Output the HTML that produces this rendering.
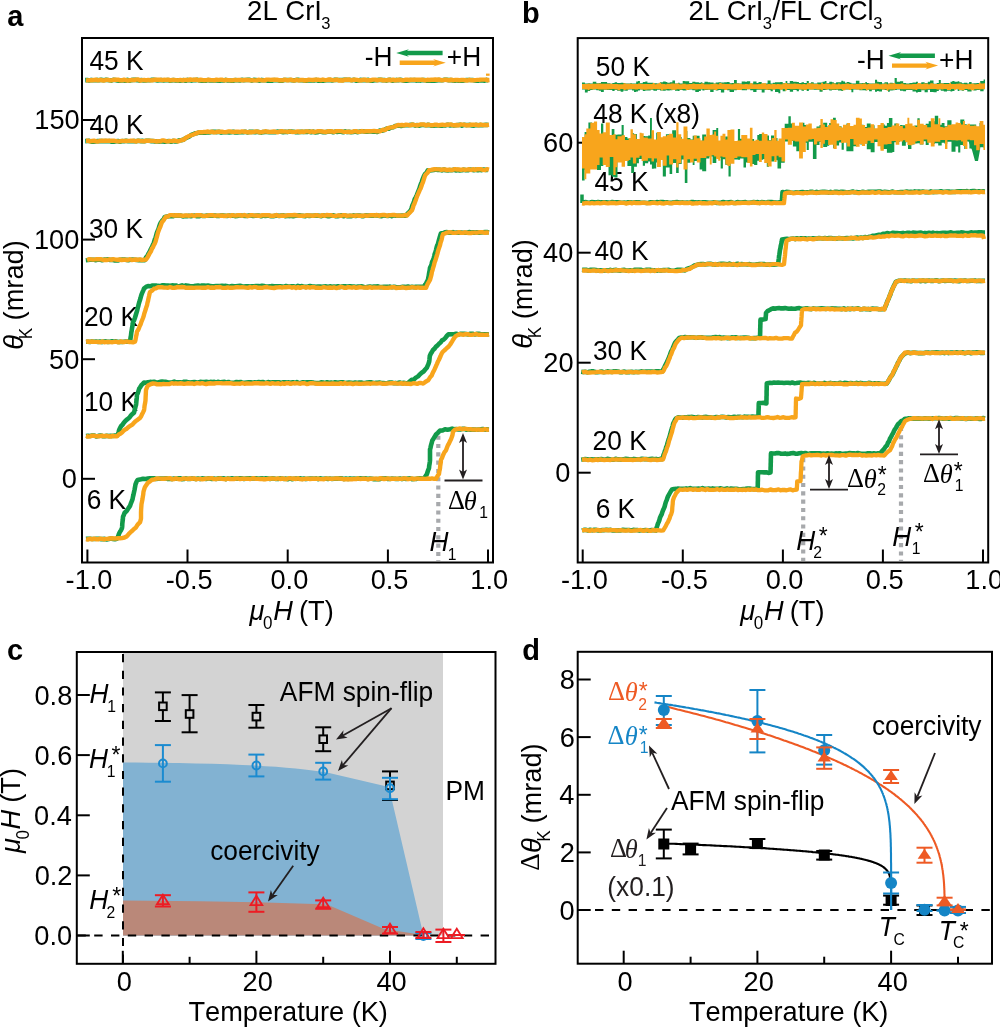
<!DOCTYPE html>
<html><head><meta charset="utf-8"><style>
html,body{margin:0;padding:0;background:#fff;}
svg{display:block;will-change:transform;}
text{font-kerning:none;font-variant-ligatures:none;}
</style></head><body>
<svg width="1000" height="1028" viewBox="0 0 1000 1028" font-family="Liberation Sans, sans-serif" fill="#000">
<rect x="82.0" y="38.0" width="411.0" height="524.5" fill="none" stroke="#000" stroke-width="2"/>
<line x1="87.4" y1="562.5" x2="87.4" y2="549.5" stroke="#000" stroke-width="2.0" />
<line x1="187.5" y1="562.5" x2="187.5" y2="549.5" stroke="#000" stroke-width="2.0" />
<line x1="287.7" y1="562.5" x2="287.7" y2="549.5" stroke="#000" stroke-width="2.0" />
<line x1="387.9" y1="562.5" x2="387.9" y2="549.5" stroke="#000" stroke-width="2.0" />
<line x1="488.0" y1="562.5" x2="488.0" y2="549.5" stroke="#000" stroke-width="2.0" />
<line x1="82.0" y1="478.8" x2="95.0" y2="478.8" stroke="#000" stroke-width="2.0" />
<line x1="82.0" y1="359.2" x2="95.0" y2="359.2" stroke="#000" stroke-width="2.0" />
<line x1="82.0" y1="239.6" x2="95.0" y2="239.6" stroke="#000" stroke-width="2.0" />
<line x1="82.0" y1="120.0" x2="95.0" y2="120.0" stroke="#000" stroke-width="2.0" />
<text transform="translate(593.30,122.80) scale(1.000,1.030)" font-family="Liberation Sans" font-size="26.30">48 K (x8)</text>
<text transform="translate(595.66,518.34) scale(1.000,1.030)" font-family="Liberation Sans" font-size="26.30">6 K</text>
<text transform="translate(592.58,450.14) scale(1.000,1.030)" font-family="Liberation Sans" font-size="26.30">20 K</text>
<text transform="translate(592.90,359.64) scale(1.000,1.030)" font-family="Liberation Sans" font-size="26.30">30 K</text>
<text transform="translate(594.40,260.44) scale(1.000,1.030)" font-family="Liberation Sans" font-size="26.30">40 K</text>
<text transform="translate(594.40,190.94) scale(1.000,1.030)" font-family="Liberation Sans" font-size="26.30">45 K</text>
<text transform="translate(595.85,76.44) scale(1.000,1.030)" font-family="Liberation Sans" font-size="26.30">50 K</text>
<text transform="translate(86.66,508.74) scale(1.000,1.030)" font-family="Liberation Sans" font-size="26.30">6 K</text>
<text transform="translate(84.00,410.54) scale(1.000,1.030)" font-family="Liberation Sans" font-size="26.30">10 K</text>
<text transform="translate(83.88,325.54) scale(1.000,1.030)" font-family="Liberation Sans" font-size="26.30">20 K</text>
<text transform="translate(89.00,237.74) scale(1.000,1.030)" font-family="Liberation Sans" font-size="26.30">30 K</text>
<text transform="translate(89.50,134.34) scale(1.000,1.030)" font-family="Liberation Sans" font-size="26.30">40 K</text>
<text transform="translate(89.50,69.84) scale(1.000,1.030)" font-family="Liberation Sans" font-size="26.30">45 K</text>
<line x1="901.0" y1="426.9" x2="901.0" y2="561.0" stroke="#a7a9ac" stroke-width="4.2" stroke-dasharray="4.1 4.2"/>
<line x1="803.2" y1="458.1" x2="803.2" y2="561.0" stroke="#a7a9ac" stroke-width="4.2" stroke-dasharray="4.1 4.2"/>
<line x1="438.3" y1="435.7" x2="438.3" y2="561.0" stroke="#a7a9ac" stroke-width="4.2" stroke-dasharray="4.1 4.2"/>
<polyline points="85.2,80.1 87.2,80.0 89.2,80.5 91.2,79.9 93.2,80.3 95.2,80.2 97.2,79.9 99.3,80.3 101.3,79.8 103.3,80.2 105.3,79.9 107.3,79.9 109.3,80.2 111.3,80.6 113.3,79.9 115.3,80.0 117.3,80.4 119.3,80.7 121.3,80.4 123.3,80.2 125.3,80.8 127.4,79.8 129.4,80.7 131.4,80.1 133.4,79.9 135.4,79.9 137.4,80.1 139.4,80.6 141.4,80.0 143.4,80.4 145.4,80.4 147.4,80.2 149.4,80.3 151.4,79.9 153.5,79.9 155.5,80.0 157.5,80.5 159.5,80.2 161.5,80.1 163.5,80.4 165.5,80.3 167.5,80.1 169.5,80.6 171.5,80.5 173.5,80.0 175.5,80.4 177.5,80.3 179.6,80.7 181.6,80.5 183.6,80.1 185.6,80.8 187.6,79.9 189.6,80.2 191.6,80.6 193.6,80.0 195.6,80.3 197.6,79.8 199.6,80.5 201.6,80.6 203.6,80.4 205.6,80.7 207.7,80.1 209.7,80.5 211.7,80.4 213.7,80.4 215.7,80.3 217.7,80.6 219.7,80.7 221.7,80.3 223.7,80.5 225.7,79.9 227.7,80.5 229.7,80.4 231.7,80.8 233.8,80.6 235.8,80.1 237.8,80.2 239.8,80.5 241.8,79.8 243.8,80.3 245.8,80.0 247.8,79.9 249.8,79.9 251.8,80.6 253.8,79.9 255.8,80.0 257.8,80.2 259.8,80.7 261.9,79.9 263.9,80.2 265.9,80.3 267.9,80.7 269.9,80.6 271.9,80.7 273.9,80.1 275.9,80.2 277.9,80.2 279.9,80.7 281.9,80.8 283.9,80.0 285.9,80.0 288.0,80.0 290.0,80.0 292.0,80.3 294.0,80.4 296.0,80.1 298.0,79.8 300.0,80.2 302.0,80.2 304.0,80.4 306.0,80.8 308.0,80.5 310.0,80.3 312.0,80.4 314.1,80.5 316.1,79.9 318.1,80.7 320.1,80.6 322.1,80.7 324.1,80.6 326.1,80.2 328.1,80.2 330.1,79.9 332.1,80.4 334.1,79.9 336.1,79.9 338.1,80.0 340.1,80.0 342.2,80.1 344.2,79.9 346.2,79.8 348.2,80.0 350.2,79.9 352.2,80.2 354.2,79.8 356.2,80.7 358.2,80.4 360.2,79.9 362.2,80.1 364.2,80.1 366.2,80.2 368.3,79.9 370.3,80.6 372.3,80.8 374.3,80.3 376.3,80.3 378.3,79.9 380.3,79.9 382.3,80.1 384.3,80.1 386.3,80.6 388.3,80.0 390.3,79.8 392.3,80.8 394.3,80.3 396.4,79.9 398.4,80.3 400.4,79.8 402.4,80.3 404.4,80.8 406.4,80.7 408.4,80.5 410.4,80.1 412.4,80.2 414.4,80.0 416.4,80.6 418.4,80.3 420.4,80.6 422.5,80.1 424.5,80.0 426.5,80.6 428.5,80.8 430.5,80.7 432.5,80.6 434.5,80.6 436.5,80.5 438.5,80.0 440.5,80.3 442.5,80.2 444.5,79.8 446.5,79.8 448.6,80.1 450.6,80.1 452.6,80.5 454.6,80.8 456.6,80.2 458.6,80.7 460.6,80.8 462.6,80.8 464.6,80.2 466.6,80.0 468.6,80.0 470.6,80.0 472.6,80.0 474.6,80.4 476.7,80.7 478.7,80.6 480.7,80.3 482.7,80.5 484.7,80.6 486.7,79.9 488.7,80.3" fill="none" stroke="#129a4a" stroke-width="4.6" stroke-linejoin="round" stroke-linecap="butt"/>
<polyline points="86.0,80.2 88.0,80.4 90.0,80.3 92.0,80.3 94.0,80.0 96.0,79.7 98.0,80.3 100.1,79.8 102.1,80.3 104.1,80.5 106.1,79.9 108.1,79.9 110.1,80.4 112.1,80.2 114.1,79.7 116.1,79.6 118.1,79.7 120.1,80.4 122.1,80.3 124.1,79.6 126.1,80.3 128.2,80.5 130.2,80.2 132.2,79.9 134.2,80.0 136.2,79.6 138.2,79.5 140.2,80.5 142.2,80.1 144.2,80.0 146.2,80.4 148.2,79.9 150.2,80.4 152.2,80.3 154.3,79.7 156.3,79.8 158.3,79.8 160.3,79.7 162.3,80.1 164.3,79.8 166.3,79.9 168.3,79.6 170.3,80.4 172.3,79.9 174.3,80.0 176.3,80.1 178.3,80.4 180.4,79.9 182.4,80.4 184.4,80.0 186.4,80.0 188.4,80.0 190.4,79.5 192.4,79.9 194.4,79.7 196.4,79.5 198.4,80.3 200.4,79.7 202.4,80.0 204.4,80.2 206.4,80.1 208.5,79.8 210.5,80.0 212.5,80.1 214.5,80.3 216.5,79.6 218.5,80.1 220.5,79.7 222.5,79.8 224.5,80.3 226.5,80.0 228.5,80.1 230.5,80.3 232.5,80.4 234.6,79.9 236.6,80.1 238.6,80.0 240.6,80.0 242.6,80.2 244.6,80.0 246.6,80.0 248.6,80.0 250.6,80.4 252.6,80.2 254.6,80.4 256.6,80.4 258.6,79.8 260.6,80.1 262.7,80.4 264.7,80.3 266.7,79.6 268.7,79.6 270.7,79.9 272.7,79.6 274.7,79.7 276.7,79.6 278.7,80.2 280.7,80.3 282.7,80.4 284.7,79.7 286.7,80.2 288.8,80.2 290.8,79.6 292.8,80.4 294.8,80.5 296.8,79.7 298.8,80.5 300.8,79.9 302.8,80.0 304.8,80.5 306.8,80.3 308.8,79.7 310.8,79.9 312.8,80.0 314.9,79.8 316.9,79.7 318.9,79.8 320.9,80.2 322.9,79.5 324.9,80.1 326.9,79.9 328.9,79.5 330.9,79.8 332.9,80.1 334.9,80.0 336.9,79.6 338.9,80.5 340.9,80.3 343.0,80.5 345.0,79.6 347.0,79.8 349.0,79.5 351.0,80.3 353.0,79.8 355.0,79.6 357.0,79.9 359.0,80.4 361.0,80.3 363.0,79.8 365.0,79.6 367.0,80.4 369.1,80.1 371.1,80.2 373.1,79.6 375.1,79.6 377.1,80.2 379.1,79.9 381.1,79.6 383.1,80.4 385.1,80.1 387.1,80.3 389.1,79.6 391.1,80.4 393.1,79.6 395.1,80.4 397.2,80.0 399.2,79.8 401.2,80.1 403.2,80.4 405.2,79.8 407.2,79.6 409.2,80.0 411.2,79.7 413.2,79.6 415.2,79.7 417.2,79.6 419.2,79.7 421.2,79.8 423.3,79.8 425.3,80.3 427.3,79.8 429.3,80.0 431.3,79.7 433.3,79.8 435.3,79.5 437.3,79.8 439.3,79.5 441.3,80.2 443.3,80.1 445.3,79.7 447.3,80.0 449.4,80.4 451.4,79.6 453.4,80.3 455.4,79.9 457.4,80.0 459.4,80.3 461.4,79.9 463.4,80.0 465.4,80.2 467.4,80.5 469.4,79.8 471.4,80.3 473.4,80.2 475.4,80.1 477.5,79.9 479.5,79.8 481.5,79.6 483.5,79.6 485.5,79.6 487.5,80.2 489.5,80.0" fill="none" stroke="#f8a51c" stroke-width="4.4" stroke-linejoin="round" stroke-linecap="butt"/>
<rect x="486" y="73.6" width="3.6" height="2.2" fill="#f8a51c"/>
<polyline points="85.2,141.1 87.2,141.0 89.3,140.9 91.3,141.6 93.4,141.7 95.4,141.5 97.5,141.1 99.5,141.0 101.6,141.1 103.6,141.3 105.6,141.0 107.7,141.2 109.7,141.1 111.8,141.8 113.8,141.8 115.9,141.3 117.9,141.0 120.0,141.8 122.0,141.1 124.0,141.2 126.1,140.8 128.1,141.2 130.2,141.3 132.2,141.3 134.3,141.0 136.3,141.3 138.4,140.8 140.4,141.1 142.4,140.9 144.5,141.2 146.5,140.8 148.6,140.8 150.6,141.1 152.7,141.0 154.7,141.4 156.8,141.3 158.8,141.6 160.8,141.5 162.9,141.5 164.9,141.7 167.0,141.2 169.0,141.1 171.1,141.8 173.1,140.9 175.2,141.5 177.2,141.4 179.2,140.2 181.2,140.3 183.2,139.7 185.2,138.4 187.2,137.5 189.2,136.6 191.2,134.9 193.2,134.3 195.2,133.3 197.2,133.1 199.2,132.6 201.2,132.6 203.2,132.4 205.2,132.7 207.2,132.5 209.2,132.5 211.2,132.0 213.2,131.8 215.2,131.9 217.2,132.1 219.2,131.8 221.2,132.6 223.2,132.3 225.2,132.3 227.2,132.3 229.2,132.4 231.2,132.2 233.2,131.7 235.2,132.5 237.2,132.4 239.2,132.2 241.2,132.2 243.2,132.3 245.2,131.7 247.2,132.4 249.2,131.9 251.2,131.7 253.2,131.9 255.2,132.3 257.2,131.8 259.2,132.3 261.2,132.6 263.2,132.1 265.2,132.0 267.2,132.0 269.2,132.2 271.2,132.3 273.2,132.2 275.2,132.2 277.2,131.6 279.2,131.7 281.2,131.8 283.2,132.3 285.2,131.8 287.2,132.1 289.2,131.5 291.2,131.6 293.2,131.8 295.2,132.1 297.2,132.2 299.2,132.1 301.2,131.7 303.2,132.0 305.2,131.9 307.2,131.9 309.2,131.5 311.2,132.3 313.2,131.6 315.2,132.4 317.2,132.3 319.2,131.4 321.2,131.8 323.2,132.2 325.2,132.3 327.2,131.8 329.2,131.6 331.2,131.6 333.2,132.3 335.2,131.6 337.2,131.9 339.2,131.5 341.2,131.8 343.2,132.3 345.2,131.4 347.2,132.1 349.2,131.8 351.2,132.2 353.2,132.0 355.2,131.5 357.2,132.2 359.2,131.7 361.2,131.3 363.2,131.3 365.2,131.7 367.2,131.7 369.2,131.5 371.2,131.4 373.2,131.6 375.2,131.5 377.2,132.0 379.5,130.6 381.9,130.7 384.2,130.1 386.5,128.6 388.9,128.6 391.2,127.5 393.2,127.2 395.2,126.1 397.2,125.7 399.2,125.5 401.2,126.0 403.2,125.4 405.2,125.2 407.2,125.2 409.3,125.1 411.3,124.8 413.3,124.9 415.3,125.6 417.4,125.1 419.4,125.7 421.4,125.0 423.4,125.0 425.5,125.3 427.5,124.9 429.5,125.1 431.5,125.7 433.6,125.6 435.6,125.5 437.6,125.3 439.6,125.6 441.7,125.7 443.7,125.3 445.7,125.4 447.7,124.7 449.7,125.4 451.8,125.1 453.8,125.4 455.8,125.3 457.8,125.0 459.9,124.7 461.9,125.6 463.9,124.8 465.9,125.1 468.0,125.0 470.0,124.9 472.0,125.4 474.0,125.6 476.1,124.9 478.1,125.3 480.1,124.9 482.1,125.2 484.2,125.0 486.2,124.8 488.2,125.1" fill="none" stroke="#129a4a" stroke-width="4.6" stroke-linejoin="round" stroke-linecap="butt"/>
<polyline points="86.0,140.7 88.0,140.7 90.0,141.4 92.0,141.0 94.0,140.7 96.0,141.4 98.0,141.5 100.0,140.9 102.0,140.6 104.0,140.7 106.0,140.6 108.0,140.8 110.0,140.6 112.0,140.7 114.0,140.8 116.0,141.1 118.0,141.4 120.0,141.2 122.0,140.9 124.0,140.9 126.0,141.0 128.0,140.9 130.0,140.8 132.0,140.6 134.0,140.8 136.0,141.5 138.0,140.6 140.0,141.0 142.0,141.1 144.0,141.4 146.0,140.7 148.0,140.8 150.0,140.7 152.0,140.9 154.0,140.9 156.0,141.5 158.0,141.3 160.0,141.4 162.0,140.5 164.0,140.5 166.0,141.2 168.0,141.4 170.0,141.0 172.0,141.1 174.0,140.5 176.0,140.9 178.0,141.4 180.0,140.7 182.0,140.0 184.0,139.5 186.0,137.7 188.0,136.6 190.0,135.7 192.0,135.0 194.0,134.2 196.0,133.4 198.0,132.7 200.0,132.1 202.0,132.3 204.0,131.9 206.0,132.0 208.0,131.5 210.0,132.2 212.0,131.7 214.0,132.4 216.0,132.1 218.0,131.7 220.0,131.6 222.0,131.7 224.0,132.1 226.0,132.1 228.0,131.5 230.0,131.5 232.0,131.9 234.0,132.0 236.0,131.8 238.0,131.6 240.0,132.0 242.0,131.4 244.0,131.7 246.0,131.8 248.0,132.3 250.0,132.0 252.0,132.2 254.0,131.8 256.0,131.5 258.0,131.6 260.0,132.3 262.0,132.0 264.0,131.6 266.0,131.3 268.0,131.8 270.0,131.9 272.0,131.7 274.0,131.5 276.0,131.9 278.0,132.2 280.0,131.5 282.0,131.3 284.0,131.6 286.0,131.6 288.0,131.9 290.0,131.4 292.0,132.0 294.0,131.9 296.0,131.7 298.0,131.4 300.0,132.1 302.0,131.5 304.0,132.0 306.0,131.4 308.0,131.4 310.0,131.9 312.0,131.4 314.0,132.1 316.0,131.6 318.0,131.3 320.0,131.3 322.0,131.5 324.0,131.7 326.0,132.0 328.0,131.2 330.0,131.5 332.0,131.3 334.0,132.0 336.0,131.2 338.0,131.1 340.0,131.1 342.0,131.4 344.0,131.9 346.0,131.9 348.0,131.7 350.0,132.0 352.0,131.9 354.0,131.3 356.0,131.2 358.0,131.9 360.0,131.7 362.0,131.0 364.0,131.6 366.0,131.3 368.0,131.3 370.0,131.3 372.0,131.1 374.0,130.9 376.0,131.2 378.0,131.3 380.3,131.2 382.7,129.8 385.0,130.0 387.3,128.4 389.7,127.7 392.0,127.3 394.0,126.8 396.0,125.9 398.0,125.0 400.0,125.3 402.0,125.0 404.0,125.4 406.0,124.7 408.0,124.9 410.1,125.4 412.1,124.5 414.1,124.9 416.1,125.3 418.2,125.2 420.2,124.5 422.2,124.5 424.2,124.5 426.3,125.4 428.3,124.7 430.3,125.2 432.3,125.3 434.4,124.8 436.4,124.7 438.4,125.4 440.4,125.0 442.5,124.7 444.5,125.1 446.5,124.7 448.5,124.7 450.5,124.4 452.6,125.1 454.6,125.3 456.6,125.0 458.6,125.3 460.7,124.4 462.7,124.6 464.7,124.8 466.7,125.3 468.8,125.3 470.8,124.7 472.8,124.6 474.8,124.8 476.9,124.8 478.9,125.3 480.9,124.5 482.9,125.1 485.0,125.0 487.0,125.1 489.0,124.8" fill="none" stroke="#f8a51c" stroke-width="4.4" stroke-linejoin="round" stroke-linecap="butt"/>
<polyline points="85.8,260.2 87.8,260.0 89.9,259.7 91.9,259.7 93.9,259.8 96.0,260.2 98.0,259.5 100.0,259.6 102.1,260.2 104.1,259.6 106.1,259.5 108.2,259.4 110.2,260.0 112.2,259.7 114.3,260.4 116.3,260.3 118.4,260.4 120.4,259.7 122.4,259.5 124.5,259.5 126.5,259.9 128.5,260.1 130.6,259.8 132.6,259.6 134.6,259.8 136.7,260.0 138.7,260.1 140.7,260.1 142.8,260.2 144.8,260.1 146.1,257.3 147.5,255.8 148.8,253.1 149.8,251.4 150.8,249.2 151.8,247.5 152.8,245.0 153.8,243.0 154.4,241.0 155.0,239.0 155.6,237.7 156.2,235.4 156.8,233.1 157.6,231.0 158.4,229.4 159.2,226.7 160.0,224.2 160.8,222.6 162.1,220.8 163.5,219.5 164.8,216.9 166.8,216.6 168.8,216.2 170.8,216.2 172.8,216.3 174.8,215.4 176.8,215.7 178.8,215.5 180.9,215.6 182.9,216.4 184.9,216.0 186.9,216.3 188.9,215.8 190.9,216.2 192.9,215.8 194.9,215.6 196.9,216.2 198.9,216.3 200.9,215.5 202.9,216.0 205.0,216.0 207.0,215.6 209.0,215.7 211.0,215.5 213.0,215.6 215.0,215.6 217.0,216.0 219.0,216.0 221.0,215.6 223.0,215.4 225.0,215.7 227.0,216.0 229.1,215.5 231.1,215.7 233.1,215.5 235.1,216.1 237.1,215.9 239.1,215.4 241.1,215.4 243.1,215.7 245.1,215.9 247.1,216.0 249.1,215.4 251.1,215.5 253.2,216.0 255.2,215.7 257.2,215.6 259.2,215.6 261.2,216.3 263.2,215.6 265.2,215.9 267.2,215.7 269.2,215.7 271.2,216.2 273.2,216.3 275.2,215.7 277.3,215.5 279.3,216.0 281.3,215.5 283.3,215.3 285.3,216.2 287.3,215.7 289.3,216.1 291.3,215.7 293.3,216.2 295.3,215.8 297.3,215.5 299.4,215.3 301.4,215.8 303.4,215.9 305.4,216.2 307.4,215.4 309.4,215.9 311.4,215.7 313.4,215.8 315.4,215.4 317.4,215.6 319.4,215.8 321.4,216.2 323.5,215.4 325.5,215.8 327.5,216.1 329.5,216.2 331.5,215.5 333.5,215.4 335.5,216.2 337.5,216.2 339.5,215.7 341.5,215.3 343.5,216.2 345.5,215.6 347.6,216.2 349.6,215.9 351.6,216.1 353.6,215.4 355.6,216.0 357.6,215.5 359.6,215.6 361.6,216.1 363.6,216.1 365.6,215.4 367.6,215.5 369.6,215.6 371.7,215.7 373.7,215.6 375.7,215.3 377.7,215.5 379.7,215.9 381.7,216.1 383.7,215.3 385.7,215.8 387.7,216.0 389.7,215.3 391.7,216.1 393.7,215.3 395.8,215.8 397.8,215.8 399.8,215.8 401.8,215.5 403.8,215.6 405.8,215.8 407.5,213.8 409.1,212.3 410.8,210.2 411.6,208.0 412.4,205.4 413.2,203.8 414.0,201.5 414.8,199.0 415.8,197.3 416.8,195.1 417.8,192.5 418.8,190.0 419.5,188.3 420.2,185.9 420.9,183.9 421.7,182.2 422.4,179.9 423.1,178.2 423.8,176.3 425.1,174.0 426.5,172.8 427.8,170.4 429.8,170.6 431.8,170.2 433.8,169.9 435.8,169.5 437.8,169.9 439.8,169.8 441.8,170.4 443.8,169.5 445.8,170.3 447.8,170.4 449.8,170.1 451.8,170.2 453.8,169.6 455.8,170.4 457.8,169.9 459.8,170.4 461.8,170.3 463.8,169.6 465.8,170.2 467.8,170.3 469.8,169.5 471.8,169.8 473.8,170.2 475.8,169.6 477.8,170.3 479.8,169.7 481.8,170.2 483.8,169.5 485.8,169.9 487.8,169.9" fill="none" stroke="#129a4a" stroke-width="4.6" stroke-linejoin="round" stroke-linecap="butt"/>
<polyline points="87.0,260.0 89.0,259.3 91.1,259.4 93.1,259.6 95.1,259.4 97.2,259.1 99.2,259.3 101.2,259.3 103.3,260.0 105.3,259.8 107.3,260.0 109.4,259.3 111.4,259.9 113.4,259.2 115.5,259.6 117.5,259.7 119.6,259.5 121.6,260.0 123.6,259.7 125.7,259.7 127.7,260.0 129.7,259.2 131.8,260.1 133.8,259.7 135.8,259.5 137.9,259.9 139.9,259.4 141.9,260.1 144.0,259.7 146.0,259.5 147.3,257.7 148.7,255.1 150.0,252.7 151.0,251.2 152.0,248.5 153.0,247.3 154.0,244.8 155.0,243.1 155.6,241.5 156.2,239.1 156.8,237.2 157.4,234.8 158.0,232.5 158.8,230.3 159.6,228.2 160.4,226.5 161.2,224.1 162.0,222.0 163.3,220.7 164.7,218.3 166.0,216.7 168.0,216.5 170.0,215.1 172.0,215.1 174.0,215.5 176.0,215.2 178.0,215.5 180.0,215.3 182.1,215.7 184.1,215.7 186.1,215.3 188.1,215.7 190.1,215.6 192.1,215.2 194.1,216.0 196.1,215.3 198.1,215.2 200.1,215.2 202.1,215.7 204.1,215.9 206.2,215.9 208.2,215.5 210.2,215.3 212.2,215.1 214.2,215.7 216.2,215.6 218.2,215.4 220.2,215.7 222.2,215.5 224.2,216.0 226.2,215.8 228.2,215.3 230.3,216.0 232.3,215.1 234.3,215.6 236.3,215.5 238.3,215.3 240.3,215.1 242.3,215.8 244.3,215.0 246.3,215.6 248.3,216.0 250.3,215.2 252.3,215.2 254.4,215.6 256.4,215.5 258.4,215.7 260.4,215.8 262.4,215.2 264.4,215.3 266.4,215.3 268.4,215.1 270.4,215.9 272.4,215.8 274.4,215.7 276.4,215.0 278.5,215.9 280.5,215.8 282.5,215.5 284.5,215.7 286.5,215.5 288.5,215.2 290.5,215.1 292.5,215.2 294.5,215.0 296.5,215.3 298.5,215.7 300.6,215.7 302.6,215.8 304.6,215.7 306.6,215.3 308.6,215.5 310.6,215.4 312.6,215.8 314.6,215.5 316.6,215.2 318.6,215.6 320.6,215.9 322.6,215.2 324.7,215.8 326.7,215.0 328.7,215.2 330.7,215.2 332.7,215.7 334.7,215.9 336.7,215.7 338.7,215.3 340.7,215.8 342.7,215.3 344.7,215.2 346.7,215.9 348.8,215.6 350.8,215.6 352.8,215.6 354.8,215.9 356.8,215.4 358.8,215.8 360.8,215.6 362.8,215.8 364.8,215.4 366.8,215.7 368.8,215.5 370.8,215.2 372.9,215.1 374.9,215.5 376.9,215.0 378.9,215.8 380.9,215.1 382.9,214.9 384.9,215.0 386.9,215.8 388.9,215.3 390.9,215.1 392.9,214.9 394.9,215.0 397.0,215.6 399.0,215.5 401.0,215.6 403.0,215.6 405.0,215.0 407.0,215.5 408.7,213.5 410.3,212.1 412.0,210.3 412.8,208.2 413.6,205.2 414.4,203.8 415.2,201.6 416.0,199.4 417.0,196.4 418.0,194.2 419.0,191.9 420.0,189.5 420.7,188.3 421.4,186.3 422.1,184.1 422.9,182.3 423.6,180.1 424.3,177.8 425.0,175.6 426.3,173.8 427.7,172.6 429.0,170.2 431.0,169.9 433.0,169.5 435.0,169.1 437.0,169.4 439.0,169.4 441.0,169.8 443.0,169.5 445.0,169.4 447.0,170.1 449.0,169.6 451.0,170.0 453.0,169.7 455.0,169.1 457.0,169.5 459.0,169.5 461.0,169.9 463.0,169.4 465.0,169.8 467.0,169.6 469.0,169.3 471.0,170.0 473.0,169.2 475.0,169.9 477.0,169.3 479.0,169.1 481.0,169.3 483.0,169.9 485.0,170.1 487.0,169.1 489.0,169.6" fill="none" stroke="#f8a51c" stroke-width="4.4" stroke-linejoin="round" stroke-linecap="butt"/>
<polyline points="86.0,341.7 88.0,341.7 90.0,342.0 92.0,341.4 94.0,341.7 96.0,341.5 98.0,342.0 100.0,341.5 102.0,342.1 104.0,341.5 106.0,341.4 108.0,341.9 110.0,341.7 112.0,341.3 114.0,341.8 116.0,341.3 118.0,342.0 120.0,341.9 122.0,342.0 124.0,341.8 126.0,341.6 128.0,341.6 130.0,341.6 130.3,339.9 130.7,336.9 131.0,335.5 131.3,332.5 131.7,330.5 132.0,328.3 132.3,326.8 132.7,324.2 133.0,321.9 134.0,320.4 135.0,317.7 135.5,316.0 136.1,314.0 136.6,312.3 137.2,310.3 137.7,308.1 138.3,305.8 138.8,303.8 139.4,301.7 139.9,300.3 140.5,298.2 141.0,296.2 141.8,293.8 142.5,292.2 143.2,290.6 144.0,288.6 146.0,286.9 148.0,286.0 150.0,286.3 152.0,285.6 154.0,285.5 156.0,285.5 158.0,285.9 160.0,286.1 162.0,285.4 164.0,285.4 166.0,285.5 168.0,285.6 170.0,285.8 172.0,285.4 174.0,285.6 176.0,285.5 178.0,286.3 180.0,286.0 182.0,285.4 184.0,286.3 186.0,285.4 188.0,285.7 190.0,286.3 192.0,286.2 194.0,286.1 196.0,285.8 198.0,285.6 200.0,286.1 202.0,285.5 204.0,285.6 206.0,285.8 208.0,285.5 210.0,285.9 212.0,286.3 214.0,286.2 216.0,286.0 218.0,286.1 220.0,286.0 222.0,285.7 224.0,286.1 226.0,285.9 228.0,286.3 230.0,286.5 232.0,286.0 234.0,286.2 236.0,286.3 238.0,286.0 240.0,285.8 242.0,286.3 244.0,286.5 246.0,286.4 248.0,286.3 250.0,286.5 252.0,286.3 254.0,286.3 256.0,286.1 258.0,286.0 260.0,286.3 262.0,285.8 264.0,286.1 266.0,286.5 268.0,286.5 270.0,286.4 272.0,286.0 274.0,286.2 276.0,286.2 278.0,286.4 280.0,286.2 282.0,286.5 284.0,286.8 286.0,286.0 288.0,286.5 290.0,286.6 292.0,286.2 294.0,286.4 296.0,286.9 298.0,285.9 300.0,286.4 302.0,286.1 304.0,286.7 306.0,286.9 308.0,286.5 310.0,286.0 312.0,286.5 314.0,286.5 316.0,286.7 318.0,286.5 320.0,286.6 322.0,286.8 324.0,286.5 326.0,286.4 328.0,287.0 330.0,286.3 332.0,286.7 334.0,286.5 336.0,286.8 338.0,286.2 340.0,287.1 342.0,286.5 344.0,286.2 346.0,286.4 348.0,286.5 350.0,286.2 352.0,286.6 354.0,286.6 356.0,286.9 358.0,286.5 360.0,286.5 362.0,286.4 364.0,287.0 366.0,287.2 368.0,286.8 370.0,286.5 372.0,287.0 374.0,286.6 376.0,286.5 378.0,286.4 380.0,287.1 382.0,287.1 384.0,286.9 386.0,286.8 388.0,286.9 390.0,286.6 392.0,287.3 394.0,286.7 396.0,287.0 398.0,287.2 400.0,287.2 402.0,286.9 404.0,286.7 406.0,287.0 408.0,286.5 410.0,287.3 412.0,286.8 414.0,287.3 416.0,286.7 418.0,286.8 420.0,286.7 422.0,286.9 424.0,286.7 425.0,284.8 426.0,283.7 427.0,281.5 428.0,279.7 428.3,277.8 428.7,276.0 429.0,273.9 429.3,272.1 429.7,270.2 430.0,267.9 430.8,266.4 431.5,264.4 432.2,261.6 433.0,260.3 433.6,258.4 434.2,256.3 434.8,253.6 435.4,252.3 436.0,250.1 436.6,247.5 437.2,245.5 437.8,244.5 438.4,242.2 439.0,239.8 439.7,237.4 440.3,235.3 441.0,233.2 443.0,233.2 445.0,232.2 447.0,232.1 449.0,232.8 451.0,232.7 453.0,232.1 455.0,232.8 457.0,232.5 459.0,232.7 461.0,232.6 463.0,232.8 465.0,232.7 467.0,232.7 469.0,232.1 471.0,232.6 473.0,232.4 475.0,232.6 477.0,232.3 479.0,232.8 481.0,232.5 483.0,232.2 485.0,232.1 487.0,232.0 489.0,232.4" fill="none" stroke="#129a4a" stroke-width="4.6" stroke-linejoin="round" stroke-linecap="butt"/>
<polyline points="86.0,341.9 88.0,341.5 90.1,341.9 92.1,341.5 94.2,341.9 96.2,341.9 98.2,341.9 100.3,342.3 102.3,341.4 104.4,342.2 106.4,341.9 108.5,342.0 110.5,342.1 112.5,342.2 114.6,341.8 116.6,341.8 118.7,342.4 120.7,341.5 122.8,342.0 124.8,342.0 126.8,341.4 128.9,342.0 130.9,342.1 133.0,342.3 135.0,341.7 135.4,340.4 135.8,338.0 136.2,335.9 136.6,334.4 137.0,331.5 138.0,330.2 139.0,328.1 139.8,325.8 140.6,324.4 141.4,321.9 142.2,320.0 143.0,318.0 143.7,316.1 144.3,313.4 145.0,311.4 145.7,309.3 146.3,307.2 147.0,305.3 147.5,302.6 148.0,301.0 148.5,298.4 149.0,296.3 149.5,293.9 150.0,292.0 152.0,290.7 154.0,288.7 156.0,288.3 158.0,287.3 160.0,287.3 162.0,287.3 164.0,287.6 166.0,287.6 168.0,287.8 170.0,287.0 172.0,287.7 174.0,287.9 176.0,287.5 178.0,287.0 180.0,287.3 182.0,287.0 184.0,287.2 186.0,287.9 188.0,287.6 190.0,287.7 192.0,287.8 194.0,287.9 196.0,287.6 198.0,287.6 200.0,287.6 202.0,287.7 204.0,287.6 206.0,287.7 208.0,287.2 210.0,287.7 212.0,287.5 214.0,287.8 216.0,287.1 218.0,287.2 220.0,287.0 222.0,287.8 224.0,287.9 226.0,287.7 228.0,287.4 230.0,287.8 232.0,287.8 234.0,287.6 236.0,287.3 238.0,287.3 240.0,287.4 242.0,287.3 244.0,287.4 246.0,287.6 248.0,287.9 250.0,287.1 252.0,287.6 254.0,287.0 256.0,287.1 258.0,287.8 260.0,287.6 262.0,287.9 264.0,287.4 266.0,287.0 268.0,287.4 270.0,287.6 272.0,287.9 274.0,288.0 276.0,287.5 278.0,287.4 280.0,287.1 282.0,287.6 284.0,287.2 286.0,287.2 288.0,287.0 290.0,287.0 292.0,287.7 294.0,287.1 296.0,288.0 298.0,287.1 300.0,287.9 302.0,287.1 304.0,287.0 306.0,287.7 308.0,287.2 310.0,287.7 312.0,287.2 314.0,287.1 316.0,287.8 318.0,287.7 320.0,287.9 322.0,287.7 324.0,287.1 326.0,287.6 328.0,287.7 330.0,287.5 332.0,287.9 334.0,287.3 336.0,288.0 338.0,287.7 340.0,287.0 342.0,287.0 344.0,287.7 346.0,287.8 348.0,287.1 350.0,287.3 352.0,287.7 354.0,287.2 356.0,287.9 358.0,287.5 360.0,287.1 362.0,287.4 364.0,287.6 366.0,287.4 368.0,287.7 370.0,287.1 372.0,287.8 374.0,287.4 376.0,287.6 378.0,287.6 380.0,287.4 382.0,287.4 384.0,287.8 386.0,287.9 388.0,287.8 390.0,287.6 392.0,287.3 394.0,287.1 396.0,288.0 398.0,287.7 400.0,287.8 402.0,287.3 404.0,287.6 406.0,288.0 408.0,287.8 410.0,287.6 412.0,287.3 414.0,287.4 416.0,287.9 418.0,287.4 420.0,287.7 422.0,287.6 424.0,287.9 426.0,287.8 427.0,285.4 428.0,283.3 429.0,281.6 430.0,279.9 430.5,278.1 431.0,276.3 431.5,274.4 432.0,271.5 432.5,270.3 433.0,268.3 433.6,266.4 434.2,264.1 434.8,261.8 435.4,260.4 436.0,258.3 436.7,256.0 437.3,254.1 438.0,251.3 438.7,248.9 439.3,247.2 440.0,245.3 440.6,242.5 441.2,240.9 441.8,238.8 442.4,235.9 443.0,234.1 445.0,233.5 447.0,232.6 449.0,232.3 451.0,232.4 453.0,232.9 455.0,232.9 457.0,232.6 459.0,232.2 461.0,232.9 463.0,232.9 465.0,232.3 467.0,232.7 469.0,233.0 471.0,233.0 473.0,232.6 475.0,232.6 477.0,232.7 479.0,232.3 481.0,232.3 483.0,232.3 485.0,232.8 487.0,232.5 489.0,232.6" fill="none" stroke="#f8a51c" stroke-width="4.4" stroke-linejoin="round" stroke-linecap="butt"/>
<polyline points="86.0,436.1 88.1,435.9 90.1,436.0 92.2,435.6 94.3,435.5 96.3,436.5 98.4,435.9 100.5,435.6 102.5,436.1 104.6,436.3 106.7,435.7 108.7,436.1 110.8,435.8 112.9,436.0 114.9,435.5 117.0,435.5 117.8,434.5 118.5,432.4 119.2,430.0 120.0,428.1 121.2,426.0 122.5,424.8 123.8,422.7 125.0,421.4 126.5,419.9 128.0,418.7 129.5,417.5 131.0,415.4 132.5,413.9 134.0,412.7 134.5,410.7 135.0,408.6 135.5,406.6 136.0,405.1 136.2,403.4 136.4,401.0 136.6,399.4 136.8,397.4 137.0,394.6 137.8,393.1 138.5,390.9 139.2,388.6 140.0,387.5 141.3,385.3 142.7,384.1 144.0,382.6 146.0,382.7 148.0,382.2 150.0,381.9 152.0,382.0 154.0,381.7 156.0,382.5 158.1,382.5 160.1,381.8 162.1,381.6 164.1,381.8 166.1,381.9 168.1,382.5 170.1,382.5 172.1,382.4 174.2,381.6 176.2,382.4 178.2,382.3 180.2,382.3 182.2,382.6 184.2,381.7 186.2,381.8 188.2,382.4 190.3,382.6 192.3,382.3 194.3,382.0 196.3,382.3 198.3,382.5 200.3,381.8 202.3,382.0 204.3,382.0 206.4,381.8 208.4,382.2 210.4,381.9 212.4,382.0 214.4,381.9 216.4,382.4 218.4,381.8 220.4,382.5 222.5,382.0 224.5,381.8 226.5,382.7 228.5,382.0 230.5,382.8 232.5,382.7 234.5,382.7 236.5,382.0 238.6,382.3 240.6,382.0 242.6,382.8 244.6,382.7 246.6,382.5 248.6,382.3 250.6,382.2 252.6,382.7 254.7,382.4 256.7,382.5 258.7,382.1 260.7,382.2 262.7,382.0 264.7,382.7 266.7,382.5 268.7,382.1 270.8,382.8 272.8,382.2 274.8,382.4 276.8,382.2 278.8,382.3 280.8,382.9 282.8,382.4 284.8,382.2 286.9,382.5 288.9,382.4 290.9,383.0 292.9,382.2 294.9,383.0 296.9,382.1 298.9,383.0 300.9,382.8 303.0,382.3 305.0,382.6 307.0,382.4 309.0,382.4 311.0,382.3 313.0,382.5 315.0,383.1 317.0,383.1 319.1,383.1 321.1,382.3 323.1,382.5 325.1,383.1 327.1,382.2 329.1,382.9 331.1,382.5 333.1,383.2 335.2,382.2 337.2,383.0 339.2,382.6 341.2,382.4 343.2,382.3 345.2,383.1 347.2,382.8 349.2,382.5 351.3,382.7 353.3,383.2 355.3,382.5 357.3,382.9 359.3,382.5 361.3,382.5 363.3,383.1 365.3,383.0 367.4,382.5 369.4,382.4 371.4,382.4 373.4,383.0 375.4,382.9 377.4,382.7 379.4,382.6 381.4,383.0 383.5,383.1 385.5,383.2 387.5,383.0 389.5,382.6 391.5,382.5 393.5,383.2 395.5,382.9 397.5,383.2 399.6,382.5 401.6,383.3 403.6,382.8 405.6,383.3 407.6,383.4 409.7,381.6 411.8,379.8 413.9,379.4 416.0,377.6 418.0,376.4 420.0,374.2 422.0,372.5 423.6,371.5 425.2,369.5 426.8,367.7 427.6,365.9 428.4,364.1 429.2,361.5 429.4,360.0 429.6,357.9 429.8,356.0 430.8,353.6 431.8,352.2 432.8,350.3 434.4,348.8 436.0,346.6 437.6,345.4 439.1,343.6 440.6,342.5 442.1,340.3 443.6,339.6 445.2,338.1 446.8,336.0 448.4,334.4 452.0,334.2 454.1,334.2 456.1,333.7 458.2,334.7 460.2,333.9 462.3,333.9 464.3,333.8 466.4,334.0 468.4,334.5 470.5,333.7 472.6,333.8 474.6,334.4 476.7,333.9 478.7,333.7 480.8,334.3 482.8,334.3 484.9,334.2 486.9,334.4 489.0,334.2" fill="none" stroke="#129a4a" stroke-width="4.6" stroke-linejoin="round" stroke-linecap="butt"/>
<polyline points="86.0,435.8 88.1,436.6 90.1,436.4 92.2,435.7 94.3,435.8 96.3,436.2 98.4,436.2 100.5,436.0 102.5,435.8 104.6,436.1 106.7,435.8 108.7,436.3 110.8,436.6 112.9,435.8 114.9,436.3 117.0,436.4 118.7,434.5 120.3,433.7 122.0,432.4 123.6,430.7 125.2,429.5 126.8,428.7 128.4,427.2 130.0,425.9 131.7,425.1 133.3,423.6 135.0,421.8 136.7,420.4 138.3,419.2 140.0,417.9 141.0,416.5 142.0,414.3 143.0,412.4 144.0,410.3 144.3,408.3 144.6,405.6 144.9,404.0 145.2,402.5 145.5,400.4 145.6,397.7 145.7,395.9 145.8,394.1 145.9,391.9 146.0,390.0 147.0,387.3 148.0,385.4 151.0,384.0 153.1,383.5 155.1,383.6 157.2,384.4 159.3,384.1 161.4,384.3 163.4,383.9 165.5,384.1 167.6,384.1 169.6,384.1 171.7,383.2 173.8,383.7 175.9,383.3 177.9,383.7 180.0,383.3 182.0,383.5 184.0,383.9 186.0,383.6 188.0,383.3 190.0,383.5 192.1,383.4 194.1,384.0 196.1,383.3 198.1,383.3 200.1,383.6 202.1,383.1 204.1,383.6 206.1,384.0 208.1,383.5 210.1,383.3 212.2,383.5 214.2,383.5 216.2,383.1 218.2,383.1 220.2,383.1 222.2,383.3 224.2,383.4 226.2,383.3 228.2,383.2 230.2,383.1 232.3,383.5 234.3,383.8 236.3,383.6 238.3,383.6 240.3,383.7 242.3,383.2 244.3,383.7 246.3,383.5 248.3,383.5 250.3,383.6 252.4,383.5 254.4,383.3 256.4,383.2 258.4,383.2 260.4,383.5 262.4,383.4 264.4,383.6 266.4,383.0 268.4,383.4 270.4,383.9 272.5,383.2 274.5,383.6 276.5,383.5 278.5,383.3 280.5,384.0 282.5,383.3 284.5,383.8 286.5,383.2 288.5,383.1 290.5,383.9 292.6,383.4 294.6,383.1 296.6,383.4 298.6,383.4 300.6,383.7 302.6,383.1 304.6,383.2 306.6,384.0 308.6,383.7 310.6,383.2 312.7,383.3 314.7,383.4 316.7,383.7 318.7,383.6 320.7,383.8 322.7,383.8 324.7,383.5 326.7,383.7 328.7,383.7 330.7,383.8 332.8,383.5 334.8,383.8 336.8,383.7 338.8,383.9 340.8,383.1 342.8,383.9 344.8,383.0 346.8,383.8 348.8,383.6 350.8,383.5 352.9,384.0 354.9,383.6 356.9,383.4 358.9,383.8 360.9,383.9 362.9,383.6 364.9,383.4 366.9,383.5 368.9,383.5 370.9,383.7 373.0,383.3 375.0,383.4 377.0,383.6 379.0,383.4 381.0,383.3 383.0,383.8 385.0,383.8 387.0,383.5 389.0,383.4 391.0,383.2 393.1,383.3 395.1,383.1 397.1,383.6 399.1,383.6 401.1,383.1 403.1,383.9 405.1,383.3 407.1,383.8 409.1,383.8 411.1,384.0 413.2,383.2 415.2,383.4 417.2,383.9 419.2,383.0 421.2,383.0 423.2,383.6 425.6,381.7 428.0,380.4 429.2,378.7 430.4,376.8 431.6,375.7 432.5,373.4 433.4,371.6 434.3,370.0 435.2,367.9 436.1,365.8 437.0,363.9 437.9,361.6 438.8,360.0 439.7,358.0 440.6,356.0 441.5,353.8 442.4,352.3 443.9,350.8 445.4,349.5 446.9,348.0 448.4,346.8 450.2,344.5 452.0,341.6 453.2,339.5 454.4,337.7 455.6,336.1 459.2,334.2 461.3,334.4 463.5,334.7 465.6,334.1 467.7,334.2 469.8,334.9 472.0,334.7 474.1,334.4 476.2,334.0 478.4,334.8 480.5,334.6 482.6,334.7 484.7,334.9 486.9,334.8 489.0,334.4" fill="none" stroke="#f8a51c" stroke-width="4.4" stroke-linejoin="round" stroke-linecap="butt"/>
<polyline points="86.0,538.9 88.1,538.7 90.1,538.8 92.2,539.0 94.3,539.0 96.3,538.7 98.4,538.7 100.5,539.1 102.5,539.1 104.6,538.9 106.7,539.5 108.7,539.1 110.8,538.5 112.9,538.9 114.9,539.3 117.0,538.8 118.0,536.9 119.0,533.8 120.0,531.8 121.0,530.3 122.0,528.1 122.2,526.2 122.3,523.7 122.5,522.0 122.8,519.6 123.0,516.8 123.8,515.1 124.5,513.0 127.0,510.5 128.5,508.1 130.0,505.9 131.0,503.1 132.0,500.7 132.5,499.3 133.0,496.6 133.5,494.6 134.0,492.2 134.5,490.0 134.8,488.3 135.2,486.1 135.5,484.3 136.5,481.8 137.5,480.0 141.0,479.3 143.2,478.7 145.5,479.0 147.8,478.6 150.0,478.3 152.0,478.4 154.0,478.2 156.0,479.0 158.0,478.7 160.0,478.5 162.0,478.6 164.0,478.5 166.0,478.2 168.0,479.0 170.0,478.7 172.0,479.1 174.0,478.6 176.0,478.7 178.0,478.4 180.0,478.2 182.0,479.1 184.0,479.0 186.0,478.4 188.0,479.0 190.0,478.9 192.0,478.4 194.0,478.7 196.0,479.1 198.0,478.6 200.0,479.1 202.0,478.4 204.0,478.5 206.0,478.9 208.0,478.4 210.0,478.5 212.0,479.0 214.0,478.6 216.0,478.9 218.0,478.4 220.0,478.3 222.0,478.5 224.0,478.3 226.0,479.1 228.0,478.4 230.0,478.7 232.0,478.3 234.0,478.7 236.0,478.5 238.0,478.6 240.0,478.2 242.0,478.3 244.0,479.0 246.0,478.5 248.0,478.4 250.0,478.4 252.0,478.5 254.0,478.4 256.0,478.2 258.0,478.8 260.0,478.5 262.0,478.3 264.0,478.9 266.0,478.3 268.0,478.5 270.0,479.0 272.0,478.3 274.0,478.6 276.0,479.0 278.0,479.0 280.0,478.4 282.0,478.5 284.0,478.9 286.0,478.6 288.0,479.2 290.0,478.4 292.0,479.2 294.0,478.7 296.0,478.4 298.0,478.7 300.0,478.3 302.0,478.9 304.0,478.5 306.0,479.1 308.0,478.8 310.0,478.6 312.0,478.5 314.0,478.8 316.0,478.4 318.0,479.1 320.0,478.3 322.0,478.7 324.0,478.8 326.0,478.5 328.0,479.0 330.0,478.6 332.0,478.9 334.0,478.8 336.0,478.5 338.0,478.6 340.0,478.3 342.0,478.4 344.0,479.1 346.0,478.6 348.0,478.9 350.0,478.4 352.0,478.8 354.0,478.6 356.0,478.8 358.0,478.5 360.0,478.3 362.0,478.6 364.0,478.5 366.0,478.4 368.0,479.0 370.0,478.5 372.0,478.7 374.0,479.2 376.0,479.0 378.0,479.1 380.0,479.1 382.0,478.4 384.0,478.5 386.0,478.3 388.0,479.0 390.0,478.9 392.0,478.6 394.0,478.7 396.0,478.9 398.0,479.0 400.0,478.5 402.0,479.1 404.0,478.6 406.0,478.9 408.0,478.5 410.0,478.4 412.0,479.2 414.0,479.0 416.0,479.0 418.0,478.3 420.0,478.3 422.0,478.5 424.0,478.5 425.5,476.2 427.0,473.9 427.7,471.5 428.3,469.8 429.0,468.1 429.2,465.7 429.5,464.3 429.8,462.1 430.0,460.2 430.0,457.8 430.0,455.9 430.0,454.2 430.0,451.8 430.0,449.5 430.5,447.8 431.0,445.3 431.7,442.8 432.3,440.5 433.0,439.4 434.5,437.1 436.0,434.5 438.0,432.7 440.0,430.6 442.5,430.5 445.0,429.2 447.5,429.7 450.0,429.2 452.1,428.6 454.1,429.2 456.2,429.0 458.2,429.4 460.3,429.5 462.3,428.9 464.4,428.8 466.4,429.7 468.5,429.2 470.5,429.7 472.6,429.5 474.6,429.6 476.7,429.7 478.7,429.5 480.8,429.3 482.8,429.0 484.9,429.6 486.9,429.4 489.0,429.5" fill="none" stroke="#129a4a" stroke-width="4.6" stroke-linejoin="round" stroke-linecap="butt"/>
<polyline points="86.0,539.2 88.0,539.6 90.0,538.7 92.0,539.3 94.0,538.6 96.0,539.2 98.0,539.3 100.0,538.7 102.0,538.9 104.0,539.3 106.0,538.9 108.0,538.8 110.0,538.5 112.0,538.3 114.0,538.5 116.0,538.5 118.0,538.3 120.0,538.3 122.0,538.1 124.5,537.5 127.0,536.2 128.7,534.1 130.3,532.4 132.0,531.0 134.0,528.9 136.0,527.4 137.3,525.2 138.7,523.5 140.0,522.4 141.0,518.6 141.0,516.7 141.0,514.2 141.0,512.3 141.1,510.0 141.2,508.3 141.4,505.7 141.5,504.2 142.0,501.6 142.5,499.0 142.8,496.9 143.2,494.7 143.5,491.6 144.2,489.3 145.0,486.9 146.5,484.7 148.0,482.6 150.0,481.3 152.0,479.7 154.0,479.6 156.0,478.7 158.0,478.4 160.0,478.6 162.0,478.8 164.0,478.7 166.0,478.5 168.0,478.4 170.0,478.3 172.0,479.3 174.0,479.1 176.0,478.4 178.0,479.0 180.0,479.3 182.0,478.9 184.0,478.4 186.0,478.8 188.0,478.7 190.0,478.5 192.0,478.8 194.0,478.3 196.0,479.2 198.0,478.9 200.0,478.9 202.0,479.2 204.0,479.0 206.0,478.6 208.0,478.5 210.0,478.4 212.0,478.3 214.0,479.1 216.0,479.1 218.0,478.6 220.0,478.5 222.0,478.9 224.0,479.1 226.0,479.2 228.0,478.5 230.0,479.1 232.0,479.1 234.0,479.0 236.0,478.6 238.0,478.5 240.0,479.1 242.0,478.6 244.0,478.7 246.0,478.9 248.0,478.7 250.0,479.1 252.0,478.5 254.0,478.3 256.0,478.9 258.0,478.9 260.0,479.1 262.0,479.0 264.0,479.2 266.0,479.2 268.0,478.8 270.0,478.8 272.0,478.5 274.0,478.6 276.0,478.9 278.0,478.4 280.0,479.0 282.0,478.5 284.0,478.7 286.0,479.3 288.0,478.4 290.0,478.3 292.0,478.7 294.0,478.5 296.0,479.0 298.0,478.3 300.0,479.1 302.0,479.2 304.0,479.1 306.0,478.7 308.0,478.6 310.0,479.0 312.0,478.8 314.0,478.7 316.0,478.6 318.0,478.7 320.0,479.0 322.0,479.1 324.0,479.2 326.0,478.5 328.0,478.6 330.0,478.7 332.0,478.9 334.0,478.6 336.0,478.5 338.0,478.4 340.0,478.6 342.0,478.8 344.0,479.3 346.0,479.2 348.0,479.2 350.0,479.3 352.0,479.3 354.0,478.9 356.0,479.1 358.0,478.4 360.0,479.0 362.0,478.9 364.0,478.6 366.0,478.9 368.0,479.3 370.0,478.8 372.0,478.9 374.0,478.6 376.0,478.6 378.0,479.2 380.0,478.3 382.0,478.5 384.0,479.0 386.0,478.7 388.0,478.4 390.0,479.0 392.0,478.7 394.0,478.9 396.0,478.7 398.0,478.8 400.0,478.9 402.0,478.7 404.0,478.4 406.0,478.5 408.0,479.2 410.0,478.8 412.0,478.4 414.0,479.2 416.0,478.6 418.0,478.4 420.0,478.8 422.0,478.6 424.0,478.8 426.0,478.9 428.0,478.5 430.0,478.9 432.0,478.4 434.0,478.8 436.0,478.9 437.5,476.0 439.0,473.9 439.3,471.6 439.7,469.9 440.0,468.4 440.2,466.1 440.5,464.2 440.8,462.3 441.0,459.6 442.0,458.0 443.0,455.2 444.5,452.1 446.0,450.3 447.0,447.6 448.0,445.0 449.0,443.5 450.0,441.1 451.0,439.3 452.0,436.6 452.5,434.8 453.0,431.6 455.0,429.7 458.0,428.9 460.1,428.5 462.1,429.2 464.2,428.8 466.3,428.9 468.3,429.4 470.4,429.1 472.5,429.6 474.5,429.4 476.6,429.7 478.7,429.4 480.7,429.8 482.8,429.8 484.9,429.1 486.9,429.7 489.0,429.5" fill="none" stroke="#f8a51c" stroke-width="4.4" stroke-linejoin="round" stroke-linecap="butt"/>
<polygon points="396.2,53.0 409.0,49.3 407.0,50.8 442.6,50.8 442.6,55.2 407.0,55.2 409.0,56.7" fill="#129a4a"/>
<polygon points="445.8,62.8 433.0,59.0 435.0,60.6 399.7,60.6 399.7,65.0 435.0,65.0 433.0,66.6" fill="#f8a51c"/>
<polygon points="888.5,55.8 901.3,52.1 899.3,53.6 934.9,53.6 934.9,58.0 899.3,58.0 901.3,59.5" fill="#129a4a"/>
<polygon points="938.1,65.6 925.3,61.8 927.3,63.4 892.0,63.4 892.0,67.8 927.3,67.8 925.3,69.4" fill="#f8a51c"/>
<line x1="463.0" y1="439.0" x2="463.0" y2="473.5" stroke="#231f20" stroke-width="1.8" />
<polygon points="463.0,433.0 459.0,443.0 463.0,440.5 467.0,443.0" fill="#231f20"/>
<polygon points="463.0,479.5 459.0,469.5 463.0,472.0 467.0,469.5" fill="#231f20"/>
<line x1="444.5" y1="480.5" x2="482.5" y2="480.5" stroke="#231f20" stroke-width="1.8" />
<rect x="577.7" y="38.1" width="410.5" height="524.4" fill="none" stroke="#000" stroke-width="2"/>
<line x1="582.7" y1="562.5" x2="582.7" y2="549.5" stroke="#000" stroke-width="2.0" />
<line x1="682.8" y1="562.5" x2="682.8" y2="549.5" stroke="#000" stroke-width="2.0" />
<line x1="782.9" y1="562.5" x2="782.9" y2="549.5" stroke="#000" stroke-width="2.0" />
<line x1="882.9" y1="562.5" x2="882.9" y2="549.5" stroke="#000" stroke-width="2.0" />
<line x1="983.0" y1="562.5" x2="983.0" y2="549.5" stroke="#000" stroke-width="2.0" />
<line x1="577.7" y1="472.7" x2="590.7" y2="472.7" stroke="#000" stroke-width="2.0" />
<line x1="577.7" y1="362.7" x2="590.7" y2="362.7" stroke="#000" stroke-width="2.0" />
<line x1="577.7" y1="252.7" x2="590.7" y2="252.7" stroke="#000" stroke-width="2.0" />
<line x1="577.7" y1="142.7" x2="590.7" y2="142.7" stroke="#000" stroke-width="2.0" />
<polygon points="582.0,138.7 584.6,138.7 584.6,132.1 588.4,132.1 588.4,122.5 592.0,122.5 592.0,135.9 593.9,135.9 593.9,138.3 597.0,138.3 597.0,136.1 601.0,136.1 601.0,123.6 603.3,123.6 603.3,139.9 606.5,139.9 606.5,139.4 608.5,139.4 608.5,137.6 611.7,137.6 611.7,128.9 614.4,128.9 614.4,134.7 617.5,134.7 617.5,134.5 621.6,134.5 621.6,124.9 623.7,124.9 623.7,137.0 627.4,137.0 627.4,138.6 631.2,138.6 631.2,133.3 634.1,133.3 634.1,134.1 636.9,134.1 636.9,139.4 638.9,139.4 638.9,140.1 642.8,140.1 642.8,136.1 645.0,136.1 645.0,136.2 648.2,136.2 648.2,135.5 650.0,135.5 650.0,118.0 651.9,118.0 651.9,134.5 653.8,134.5 653.8,140.8 656.2,140.8 656.2,132.8 658.7,132.8 658.7,140.1 662.8,140.1 662.8,140.0 665.9,140.0 665.9,134.2 669.6,134.2 669.6,139.3 672.2,139.3 672.2,130.3 676.1,130.3 676.1,141.1 678.7,141.1 678.7,137.1 681.7,137.1 681.7,139.8 684.8,139.8 684.8,131.0 687.4,131.0 687.4,138.0 690.4,138.0 690.4,139.6 692.7,139.6 692.7,135.8 694.5,135.8 694.5,135.7 697.4,135.7 697.4,135.7 699.6,135.7 699.6,140.7 702.2,140.7 702.2,134.5 706.2,134.5 706.2,139.2 709.4,139.2 709.4,136.5 712.6,136.5 712.6,130.1 716.3,130.1 716.3,127.9 718.2,127.9 718.2,143.1 720.7,143.1 720.7,141.9 722.9,141.9 722.9,139.3 725.2,139.3 725.2,136.4 728.5,136.4 728.5,141.3 730.7,141.3 730.7,131.7 734.0,131.7 734.0,141.1 737.9,141.1 737.9,128.9 740.1,128.9 740.1,138.8 743.5,138.8 743.5,143.2 746.0,143.2 746.0,140.4 748.8,140.4 748.8,141.3 750.7,141.3 750.7,138.9 754.1,138.9 754.1,142.8 757.3,142.8 757.3,134.9 759.1,134.9 759.1,133.9 763.3,133.9 763.3,141.7 766.8,141.7 766.8,135.5 769.0,135.5 769.0,140.2 771.0,140.2 771.0,135.4 774.1,135.4 774.1,138.0 777.5,138.0 777.5,142.6 781.1,142.6 781.1,142.2 784.7,142.2 784.7,123.7 788.4,123.7 788.4,116.3 790.8,116.3 790.8,123.5 792.9,123.5 792.9,129.3 796.3,129.3 796.3,128.8 800.5,128.8 800.5,127.0 802.5,127.0 802.5,122.7 804.4,122.7 804.4,124.9 806.7,124.9 806.7,125.9 808.8,125.9 808.8,129.4 812.9,129.4 812.9,129.3 816.5,129.3 816.5,126.6 819.5,126.6 819.5,125.1 823.2,125.1 823.2,122.7 827.2,122.7 827.2,126.5 829.2,126.5 829.2,123.1 833.0,123.1 833.0,117.8 835.8,117.8 835.8,129.4 839.1,129.4 839.1,126.2 841.6,126.2 841.6,129.6 843.8,129.6 843.8,126.0 846.4,126.0 846.4,123.6 849.5,123.6 849.5,129.0 853.4,129.0 853.4,129.0 857.2,129.0 857.2,127.4 860.2,127.4 860.2,124.8 863.6,124.8 863.6,127.1 866.8,127.1 866.8,123.6 870.7,123.6 870.7,125.3 874.6,125.3 874.6,129.7 878.8,129.7 878.8,129.3 880.8,129.3 880.8,124.5 884.8,124.5 884.8,125.8 886.9,125.8 886.9,123.1 888.9,123.1 888.9,118.1 892.4,118.1 892.4,129.1 894.3,129.1 894.3,123.4 897.7,123.4 897.7,127.6 900.1,127.6 900.1,125.0 901.9,125.0 901.9,125.2 905.8,125.2 905.8,126.8 908.0,126.8 908.0,124.4 911.4,124.4 911.4,125.9 914.4,125.9 914.4,125.4 917.4,125.4 917.4,118.2 919.7,118.2 919.7,129.6 923.3,129.6 923.3,128.5 925.7,128.5 925.7,123.8 928.7,123.8 928.7,121.2 931.4,121.2 931.4,121.3 934.8,121.3 934.8,115.8 938.2,115.8 938.2,124.7 941.7,124.7 941.7,122.9 944.5,122.9 944.5,126.3 947.3,126.3 947.3,120.3 951.5,120.3 951.5,129.2 955.5,129.2 955.5,129.2 958.2,129.2 958.2,123.0 960.3,123.0 960.3,119.6 964.3,119.6 964.3,124.3 966.8,124.3 966.8,129.2 969.4,129.2 969.4,124.6 973.0,124.6 973.0,124.6 976.2,124.6 976.2,129.2 979.5,129.2 979.5,123.0 983.0,123.0 983.0,126.9 985.0,126.9 985.0,147.4 983.0,147.4 983.0,147.2 979.5,147.2 979.5,148.8 976.2,148.8 976.2,141.7 973.0,141.7 973.0,148.6 969.4,148.6 969.4,141.6 966.8,141.6 966.8,149.0 964.3,149.0 964.3,145.0 960.3,145.0 960.3,152.4 958.2,152.4 958.2,146.5 955.5,146.5 955.5,151.8 951.5,151.8 951.5,141.8 947.3,141.8 947.3,143.7 944.5,143.7 944.5,142.8 941.7,142.8 941.7,145.4 938.2,145.4 938.2,143.2 934.8,143.2 934.8,144.1 931.4,144.1 931.4,141.2 928.7,141.2 928.7,145.0 925.7,145.0 925.7,141.3 923.3,141.3 923.3,144.5 919.7,144.5 919.7,143.2 917.4,143.2 917.4,143.4 914.4,143.4 914.4,144.4 911.4,144.4 911.4,149.0 908.0,149.0 908.0,142.3 905.8,142.3 905.8,145.7 901.9,145.7 901.9,140.8 900.1,140.8 900.1,141.8 897.7,141.8 897.7,142.3 894.3,142.3 894.3,152.0 892.4,152.0 892.4,152.8 888.9,152.8 888.9,152.8 886.9,152.8 886.9,149.1 884.8,149.1 884.8,149.1 880.8,149.1 880.8,140.6 878.8,140.6 878.8,141.9 874.6,141.9 874.6,152.3 870.7,152.3 870.7,149.2 866.8,149.2 866.8,143.5 863.6,143.5 863.6,144.6 860.2,144.6 860.2,142.9 857.2,142.9 857.2,146.2 853.4,146.2 853.4,151.3 849.5,151.3 849.5,151.3 846.4,151.3 846.4,140.7 843.8,140.7 843.8,149.8 841.6,149.8 841.6,142.4 839.1,142.4 839.1,145.4 835.8,145.4 835.8,148.1 833.0,148.1 833.0,143.6 829.2,143.6 829.2,145.7 827.2,145.7 827.2,147.1 823.2,147.1 823.2,141.9 819.5,141.9 819.5,145.0 816.5,145.0 816.5,158.9 812.9,158.9 812.9,141.8 808.8,141.8 808.8,150.0 806.7,150.0 806.7,142.8 804.4,142.8 804.4,140.6 802.5,140.6 802.5,141.1 800.5,141.1 800.5,151.3 796.3,151.3 796.3,146.6 792.9,146.6 792.9,140.9 790.8,140.9 790.8,142.8 788.4,142.8 788.4,141.5 784.7,141.5 784.7,162.8 781.1,162.8 781.1,168.6 777.5,168.6 777.5,160.3 774.1,160.3 774.1,161.4 771.0,161.4 771.0,163.7 769.0,163.7 769.0,166.7 766.8,166.7 766.8,159.1 763.3,159.1 763.3,159.8 759.1,159.8 759.1,160.7 757.3,160.7 757.3,164.9 754.1,164.9 754.1,164.1 750.7,164.1 750.7,157.3 748.8,157.3 748.8,162.6 746.0,162.6 746.0,167.6 743.5,167.6 743.5,158.6 740.1,158.6 740.1,159.8 737.9,159.8 737.9,159.6 734.0,159.6 734.0,163.0 730.7,163.0 730.7,176.4 728.5,176.4 728.5,164.7 725.2,164.7 725.2,159.2 722.9,159.2 722.9,168.4 720.7,168.4 720.7,157.7 718.2,157.7 718.2,157.7 716.3,157.7 716.3,163.0 712.6,163.0 712.6,156.6 709.4,156.6 709.4,158.4 706.2,158.4 706.2,171.2 702.2,171.2 702.2,169.4 699.6,169.4 699.6,160.8 697.4,160.8 697.4,160.9 694.5,160.9 694.5,165.1 692.7,165.1 692.7,161.7 690.4,161.7 690.4,162.8 687.4,162.8 687.4,182.9 684.8,182.9 684.8,159.4 681.7,159.4 681.7,164.1 678.7,164.1 678.7,173.0 676.1,173.0 676.1,162.9 672.2,162.9 672.2,174.1 669.6,174.1 669.6,167.5 665.9,167.5 665.9,176.6 662.8,176.6 662.8,157.6 658.7,157.6 658.7,162.4 656.2,162.4 656.2,168.6 653.8,168.6 653.8,168.7 651.9,168.7 651.9,164.5 650.0,164.5 650.0,161.6 648.2,161.6 648.2,163.2 645.0,163.2 645.0,165.7 642.8,165.7 642.8,159.0 638.9,159.0 638.9,163.3 636.9,163.3 636.9,166.8 634.1,166.8 634.1,172.9 631.2,172.9 631.2,166.1 627.4,166.1 627.4,158.8 623.7,158.8 623.7,157.7 621.6,157.7 621.6,158.3 617.5,158.3 617.5,177.6 614.4,177.6 614.4,176.7 611.7,176.7 611.7,175.2 608.5,175.2 608.5,165.7 606.5,165.7 606.5,160.5 603.3,160.5 603.3,165.9 601.0,165.9 601.0,169.9 597.0,169.9 597.0,167.0 593.9,167.0 593.9,164.6 592.0,164.6 592.0,167.7 588.4,167.7 588.4,169.8 584.6,169.8 584.6,180.6 582.0,180.6" fill="#129a4a"/>
<polygon points="968,140 972,150 975,161 978,161 980,150 981,140" fill="#129a4a"/>
<polygon points="582.0,82.5 584.9,82.5 584.9,83.4 587.7,83.4 587.7,83.3 590.2,83.3 590.2,83.5 592.8,83.5 592.8,81.7 596.3,81.7 596.3,83.2 598.9,83.2 598.9,82.9 600.9,82.9 600.9,82.0 603.8,82.0 603.8,82.1 607.1,82.1 607.1,83.3 610.4,83.3 610.4,83.7 612.3,83.7 612.3,83.0 614.6,83.0 614.6,82.2 617.1,82.2 617.1,83.1 620.7,83.1 620.7,82.8 623.3,82.8 623.3,83.0 625.2,83.0 625.2,83.6 627.8,83.6 627.8,83.5 630.1,83.5 630.1,83.2 632.0,83.2 632.0,83.4 634.0,83.4 634.0,83.5 636.2,83.5 636.2,81.5 638.0,81.5 638.0,81.0 639.9,81.0 639.9,83.3 642.8,83.3 642.8,81.9 645.3,81.9 645.3,81.6 647.4,81.6 647.4,82.7 650.7,82.7 650.7,82.7 653.4,82.7 653.4,83.3 657.0,83.3 657.0,83.4 660.0,83.4 660.0,82.2 663.1,82.2 663.1,81.4 665.7,81.4 665.7,82.1 667.3,82.1 667.3,82.8 669.8,82.8 669.8,82.3 672.4,82.3 672.4,80.5 675.0,80.5 675.0,83.6 677.9,83.6 677.9,82.8 679.6,82.8 679.6,83.6 682.7,83.6 682.7,80.9 684.7,80.9 684.7,81.3 686.5,81.3 686.5,81.3 689.2,81.3 689.2,83.1 692.3,83.1 692.3,81.7 695.3,81.7 695.3,82.3 698.9,82.3 698.9,82.7 700.8,82.7 700.8,82.3 702.4,82.3 702.4,83.2 704.5,83.2 704.5,81.8 707.8,81.8 707.8,82.3 710.2,82.3 710.2,82.6 713.6,82.6 713.6,83.5 715.7,83.5 715.7,82.4 718.4,82.4 718.4,82.3 720.9,82.3 720.9,82.5 724.2,82.5 724.2,82.3 726.9,82.3 726.9,81.9 729.6,81.9 729.6,83.3 731.8,83.3 731.8,82.9 734.0,82.9 734.0,79.9 736.8,79.9 736.8,83.3 739.2,83.3 739.2,83.4 741.7,83.4 741.7,81.6 745.1,81.6 745.1,81.8 747.0,81.8 747.0,81.2 750.2,81.2 750.2,83.4 753.2,83.4 753.2,81.4 756.5,81.4 756.5,83.1 758.5,83.1 758.5,82.0 761.7,82.0 761.7,83.5 764.6,83.5 764.6,83.4 767.6,83.4 767.6,80.6 770.6,80.6 770.6,83.5 772.8,83.5 772.8,82.8 775.0,82.8 775.0,82.2 778.4,82.2 778.4,82.2 780.3,82.2 780.3,82.1 782.7,82.1 782.7,83.3 785.6,83.3 785.6,81.0 787.3,81.0 787.3,83.3 789.8,83.3 789.8,80.9 793.1,80.9 793.1,81.8 796.7,81.8 796.7,82.1 798.9,82.1 798.9,83.0 801.5,83.0 801.5,82.2 804.0,82.2 804.0,82.9 806.7,82.9 806.7,81.1 808.8,81.1 808.8,83.3 810.9,83.3 810.9,82.2 813.7,82.2 813.7,83.4 817.2,83.4 817.2,82.5 819.5,82.5 819.5,82.4 822.6,82.4 822.6,81.7 824.7,81.7 824.7,80.9 826.5,80.9 826.5,83.3 829.3,83.3 829.3,81.7 831.9,81.7 831.9,82.3 833.8,82.3 833.8,83.2 836.1,83.2 836.1,82.3 838.0,82.3 838.0,82.3 841.3,82.3 841.3,80.8 843.2,80.8 843.2,81.6 845.0,81.6 845.0,82.7 846.8,82.7 846.8,82.1 849.5,82.1 849.5,82.8 851.4,82.8 851.4,83.5 853.3,83.5 853.3,83.5 855.9,83.5 855.9,80.7 859.4,80.7 859.4,83.2 862.1,83.2 862.1,82.9 865.3,82.9 865.3,82.1 866.9,82.1 866.9,83.1 869.1,83.1 869.1,83.5 871.8,83.5 871.8,83.6 875.0,83.6 875.0,79.8 877.1,79.8 877.1,81.8 878.7,81.8 878.7,82.0 882.0,82.0 882.0,83.5 884.5,83.5 884.5,82.2 888.0,82.2 888.0,83.6 889.8,83.6 889.8,82.8 892.7,82.8 892.7,83.3 894.6,83.3 894.6,77.9 896.8,77.9 896.8,81.7 900.0,81.7 900.0,81.3 903.2,81.3 903.2,83.0 906.1,83.0 906.1,83.5 909.4,83.5 909.4,83.1 912.5,83.1 912.5,82.4 916.0,82.4 916.0,81.8 917.9,81.8 917.9,83.6 921.3,83.6 921.3,82.2 924.6,82.2 924.6,83.0 927.8,83.0 927.8,81.7 930.0,81.7 930.0,80.4 933.5,80.4 933.5,83.7 936.7,83.7 936.7,83.1 938.8,83.1 938.8,80.0 940.8,80.0 940.8,83.3 943.8,83.3 943.8,83.0 947.0,83.0 947.0,82.9 950.5,82.9 950.5,81.8 952.3,81.8 952.3,81.0 954.5,81.0 954.5,81.7 957.7,81.7 957.7,81.3 959.3,81.3 959.3,82.2 961.8,82.2 961.8,83.3 964.0,83.3 964.0,82.7 967.3,82.7 967.3,83.4 969.1,83.4 969.1,82.1 971.6,82.1 971.6,83.5 973.4,83.5 973.4,83.2 976.6,83.2 976.6,82.9 980.2,82.9 980.2,80.9 983.6,80.9 983.6,79.5 985.0,79.5 985.0,89.3 983.6,89.3 983.6,91.3 980.2,91.3 980.2,90.1 976.6,90.1 976.6,90.4 973.4,90.4 973.4,89.7 971.6,89.7 971.6,91.6 969.1,91.6 969.1,91.6 967.3,91.6 967.3,90.1 964.0,90.1 964.0,90.7 961.8,90.7 961.8,90.3 959.3,90.3 959.3,91.1 957.7,91.1 957.7,89.3 954.5,89.3 954.5,90.9 952.3,90.9 952.3,91.6 950.5,91.6 950.5,90.7 947.0,90.7 947.0,91.5 943.8,91.5 943.8,90.8 940.8,90.8 940.8,89.5 938.8,89.5 938.8,90.9 936.7,90.9 936.7,92.2 933.5,92.2 933.5,91.9 930.0,91.9 930.0,89.7 927.8,89.7 927.8,92.3 924.6,92.3 924.6,90.2 921.3,90.2 921.3,92.1 917.9,92.1 917.9,92.4 916.0,92.4 916.0,91.5 912.5,91.5 912.5,90.0 909.4,90.0 909.4,89.9 906.1,89.9 906.1,91.3 903.2,91.3 903.2,90.7 900.0,90.7 900.0,89.5 896.8,89.5 896.8,90.1 894.6,90.1 894.6,90.3 892.7,90.3 892.7,90.4 889.8,90.4 889.8,91.7 888.0,91.7 888.0,90.1 884.5,90.1 884.5,89.4 882.0,89.4 882.0,91.6 878.7,91.6 878.7,90.9 877.1,90.9 877.1,91.8 875.0,91.8 875.0,89.8 871.8,89.8 871.8,91.3 869.1,91.3 869.1,89.7 866.9,89.7 866.9,90.4 865.3,90.4 865.3,90.3 862.1,90.3 862.1,90.3 859.4,90.3 859.4,89.5 855.9,89.5 855.9,89.5 853.3,89.5 853.3,92.3 851.4,92.3 851.4,89.9 849.5,89.9 849.5,89.4 846.8,89.4 846.8,89.5 845.0,89.5 845.0,89.3 843.2,89.3 843.2,91.0 841.3,91.0 841.3,90.5 838.0,90.5 838.0,89.8 836.1,89.8 836.1,90.1 833.8,90.1 833.8,90.0 831.9,90.0 831.9,90.5 829.3,90.5 829.3,89.4 826.5,89.4 826.5,90.1 824.7,90.1 824.7,90.1 822.6,90.1 822.6,91.7 819.5,91.7 819.5,89.7 817.2,89.7 817.2,89.7 813.7,89.7 813.7,89.6 810.9,89.6 810.9,89.5 808.8,89.5 808.8,91.1 806.7,91.1 806.7,89.7 804.0,89.7 804.0,90.8 801.5,90.8 801.5,89.6 798.9,89.6 798.9,91.3 796.7,91.3 796.7,90.0 793.1,90.0 793.1,91.7 789.8,91.7 789.8,90.0 787.3,90.0 787.3,89.8 785.6,89.8 785.6,91.2 782.7,91.2 782.7,89.6 780.3,89.6 780.3,93.3 778.4,93.3 778.4,91.9 775.0,91.9 775.0,89.6 772.8,89.6 772.8,91.3 770.6,91.3 770.6,90.0 767.6,90.0 767.6,89.7 764.6,89.7 764.6,92.6 761.7,92.6 761.7,89.8 758.5,89.8 758.5,89.7 756.5,89.7 756.5,92.0 753.2,92.0 753.2,90.3 750.2,90.3 750.2,89.3 747.0,89.3 747.0,90.2 745.1,90.2 745.1,90.2 741.7,90.2 741.7,89.7 739.2,89.7 739.2,89.7 736.8,89.7 736.8,90.3 734.0,90.3 734.0,91.9 731.8,91.9 731.8,91.9 729.6,91.9 729.6,90.3 726.9,90.3 726.9,89.7 724.2,89.7 724.2,92.5 720.9,92.5 720.9,90.0 718.4,90.0 718.4,90.5 715.7,90.5 715.7,89.8 713.6,89.8 713.6,92.1 710.2,92.1 710.2,89.7 707.8,89.7 707.8,89.9 704.5,89.9 704.5,90.4 702.4,90.4 702.4,89.4 700.8,89.4 700.8,90.9 698.9,90.9 698.9,92.1 695.3,92.1 695.3,90.3 692.3,90.3 692.3,89.4 689.2,89.4 689.2,90.1 686.5,90.1 686.5,90.6 684.7,90.6 684.7,90.6 682.7,90.6 682.7,90.0 679.6,90.0 679.6,91.0 677.9,91.0 677.9,90.8 675.0,90.8 675.0,89.5 672.4,89.5 672.4,90.3 669.8,90.3 669.8,90.6 667.3,90.6 667.3,90.2 665.7,90.2 665.7,90.8 663.1,90.8 663.1,90.6 660.0,90.6 660.0,89.8 657.0,89.8 657.0,90.7 653.4,90.7 653.4,89.7 650.7,89.7 650.7,90.5 647.4,90.5 647.4,90.5 645.3,90.5 645.3,91.1 642.8,91.1 642.8,89.6 639.9,89.6 639.9,90.5 638.0,90.5 638.0,91.5 636.2,91.5 636.2,92.1 634.0,92.1 634.0,90.5 632.0,90.5 632.0,89.5 630.1,89.5 630.1,89.5 627.8,89.5 627.8,90.7 625.2,90.7 625.2,90.6 623.3,90.6 623.3,91.7 620.7,91.7 620.7,90.8 617.1,90.8 617.1,90.1 614.6,90.1 614.6,91.0 612.3,91.0 612.3,90.0 610.4,90.0 610.4,90.0 607.1,90.0 607.1,89.7 603.8,89.7 603.8,92.1 600.9,92.1 600.9,90.8 598.9,90.8 598.9,90.3 596.3,90.3 596.3,89.6 592.8,89.6 592.8,90.1 590.2,90.1 590.2,91.1 587.7,91.1 587.7,92.6 584.9,92.6 584.9,89.6 582.0,89.6" fill="#129a4a"/>
<polygon points="582.0,83.9 584.6,83.9 584.6,83.9 587.9,83.9 587.9,83.6 589.5,83.6 589.5,84.1 592.0,84.1 592.0,83.7 594.3,83.7 594.3,83.7 597.6,83.7 597.6,83.6 601.1,83.6 601.1,83.8 602.8,83.8 602.8,83.7 606.4,83.7 606.4,83.8 609.3,83.8 609.3,83.7 612.2,83.7 612.2,84.1 614.5,84.1 614.5,84.0 617.8,84.0 617.8,84.3 620.3,84.3 620.3,84.3 623.4,84.3 623.4,83.3 625.6,83.3 625.6,83.8 629.0,83.8 629.0,83.7 631.8,83.7 631.8,84.0 634.9,84.0 634.9,84.1 638.1,84.1 638.1,83.4 640.5,83.4 640.5,84.0 643.7,84.0 643.7,84.1 647.3,84.1 647.3,83.9 649.4,83.9 649.4,84.1 652.7,84.1 652.7,83.1 654.6,83.1 654.6,84.3 656.5,84.3 656.5,83.8 658.7,83.8 658.7,82.8 661.0,82.8 661.0,83.8 663.0,83.8 663.0,84.0 664.9,84.0 664.9,84.3 666.7,84.3 666.7,83.8 669.1,83.8 669.1,83.7 671.1,83.7 671.1,83.6 674.4,83.6 674.4,83.7 676.6,83.7 676.6,83.5 679.1,83.5 679.1,84.2 682.3,84.2 682.3,83.8 685.7,83.8 685.7,84.2 688.6,84.2 688.6,83.9 690.2,83.9 690.2,83.9 692.5,83.9 692.5,83.6 694.6,83.6 694.6,84.0 697.7,84.0 697.7,83.9 701.0,83.9 701.0,83.5 703.9,83.5 703.9,84.2 706.9,84.2 706.9,84.3 710.4,84.3 710.4,84.1 712.8,84.1 712.8,83.8 714.7,83.8 714.7,83.7 717.4,83.7 717.4,84.2 719.2,84.2 719.2,83.1 721.6,83.1 721.6,83.8 724.6,83.8 724.6,84.1 727.3,84.1 727.3,84.1 730.5,84.1 730.5,84.3 733.5,84.3 733.5,83.5 736.9,83.5 736.9,83.6 740.2,83.6 740.2,84.0 742.0,84.0 742.0,84.3 744.8,84.3 744.8,84.1 747.7,84.1 747.7,84.3 749.7,84.3 749.7,83.2 752.6,83.2 752.6,84.2 754.9,84.2 754.9,84.3 758.2,84.3 758.2,84.0 761.1,84.0 761.1,83.6 762.8,83.6 762.8,83.2 766.0,83.2 766.0,84.2 767.8,84.2 767.8,83.9 770.1,83.9 770.1,84.2 772.1,84.2 772.1,84.0 775.4,84.0 775.4,84.3 777.0,84.3 777.0,84.1 779.6,84.1 779.6,84.2 782.5,84.2 782.5,83.5 784.9,83.5 784.9,83.0 786.9,83.0 786.9,83.8 790.2,83.8 790.2,83.7 793.8,83.7 793.8,83.4 795.6,83.4 795.6,83.8 798.6,83.8 798.6,83.9 800.6,83.9 800.6,84.2 802.6,84.2 802.6,84.0 805.0,84.0 805.0,84.2 807.0,84.2 807.0,83.3 810.0,83.3 810.0,83.5 813.6,83.5 813.6,83.9 816.6,83.9 816.6,83.7 818.2,83.7 818.2,84.3 821.1,84.3 821.1,83.1 823.0,83.1 823.0,83.9 825.2,83.9 825.2,83.4 827.5,83.4 827.5,84.1 830.0,84.1 830.0,84.2 831.9,84.2 831.9,83.4 835.5,83.4 835.5,84.2 838.0,84.2 838.0,83.6 839.8,83.6 839.8,84.3 841.8,84.3 841.8,83.9 845.3,83.9 845.3,83.4 848.9,83.4 848.9,83.9 851.2,83.9 851.2,83.9 853.1,83.9 853.1,84.2 855.8,84.2 855.8,84.1 859.1,84.1 859.1,83.7 860.8,83.7 860.8,83.9 862.5,83.9 862.5,83.4 865.9,83.4 865.9,84.2 867.9,84.2 867.9,83.7 870.2,83.7 870.2,84.1 872.0,84.1 872.0,83.7 874.8,83.7 874.8,83.4 877.3,83.4 877.3,83.7 879.0,83.7 879.0,84.2 881.9,84.2 881.9,84.1 884.8,84.1 884.8,83.6 886.7,83.6 886.7,84.2 888.4,84.2 888.4,83.5 890.4,83.5 890.4,83.6 893.7,83.6 893.7,82.9 895.3,82.9 895.3,84.1 898.6,84.1 898.6,83.9 900.6,83.9 900.6,83.5 903.6,83.5 903.6,84.3 907.1,84.3 907.1,84.3 908.6,84.3 908.6,84.2 912.2,84.2 912.2,83.9 915.5,83.9 915.5,84.0 917.3,84.0 917.3,83.1 920.7,83.1 920.7,84.0 923.4,84.0 923.4,83.4 926.3,83.4 926.3,83.6 928.0,83.6 928.0,84.2 930.2,84.2 930.2,83.2 933.3,83.2 933.3,84.0 936.5,84.0 936.5,84.1 939.4,84.1 939.4,83.6 941.2,83.6 941.2,83.5 943.5,83.5 943.5,84.1 946.9,84.1 946.9,84.0 949.2,84.0 949.2,83.0 951.0,83.0 951.0,84.1 954.2,84.1 954.2,84.0 956.0,84.0 956.0,83.7 958.6,83.7 958.6,83.5 961.5,83.5 961.5,83.9 964.6,83.9 964.6,84.3 967.9,84.3 967.9,83.9 970.8,83.9 970.8,83.7 974.2,83.7 974.2,84.2 976.7,84.2 976.7,84.0 978.9,84.0 978.9,82.7 980.6,82.7 980.6,83.4 983.6,83.4 983.6,83.3 985.0,83.3 985.0,88.9 983.6,88.9 983.6,89.3 980.6,89.3 980.6,89.5 978.9,89.5 978.9,89.3 976.7,89.3 976.7,89.3 974.2,89.3 974.2,90.2 970.8,90.2 970.8,89.4 967.9,89.4 967.9,89.0 964.6,89.0 964.6,90.2 961.5,90.2 961.5,90.0 958.6,90.0 958.6,89.1 956.0,89.1 956.0,89.7 954.2,89.7 954.2,88.9 951.0,88.9 951.0,89.9 949.2,89.9 949.2,89.9 946.9,89.9 946.9,89.1 943.5,89.1 943.5,89.4 941.2,89.4 941.2,89.0 939.4,89.0 939.4,89.5 936.5,89.5 936.5,89.0 933.3,89.0 933.3,89.1 930.2,89.1 930.2,88.9 928.0,88.9 928.0,89.2 926.3,89.2 926.3,89.5 923.4,89.5 923.4,89.5 920.7,89.5 920.7,88.9 917.3,88.9 917.3,90.1 915.5,90.1 915.5,89.5 912.2,89.5 912.2,89.3 908.6,89.3 908.6,89.2 907.1,89.2 907.1,89.2 903.6,89.2 903.6,89.3 900.6,89.3 900.6,89.1 898.6,89.1 898.6,88.9 895.3,88.9 895.3,89.8 893.7,89.8 893.7,89.6 890.4,89.6 890.4,89.6 888.4,89.6 888.4,90.7 886.7,90.7 886.7,89.3 884.8,89.3 884.8,89.5 881.9,89.5 881.9,89.3 879.0,89.3 879.0,89.0 877.3,89.0 877.3,89.3 874.8,89.3 874.8,89.6 872.0,89.6 872.0,89.5 870.2,89.5 870.2,89.4 867.9,89.4 867.9,90.2 865.9,90.2 865.9,89.0 862.5,89.0 862.5,89.7 860.8,89.7 860.8,89.4 859.1,89.4 859.1,89.6 855.8,89.6 855.8,89.0 853.1,89.0 853.1,88.9 851.2,88.9 851.2,90.0 848.9,90.0 848.9,89.3 845.3,89.3 845.3,90.3 841.8,90.3 841.8,89.0 839.8,89.0 839.8,89.2 838.0,89.2 838.0,89.2 835.5,89.2 835.5,89.5 831.9,89.5 831.9,89.6 830.0,89.6 830.0,89.1 827.5,89.1 827.5,89.5 825.2,89.5 825.2,89.0 823.0,89.0 823.0,90.3 821.1,90.3 821.1,89.5 818.2,89.5 818.2,89.6 816.6,89.6 816.6,89.1 813.6,89.1 813.6,89.4 810.0,89.4 810.0,89.1 807.0,89.1 807.0,89.7 805.0,89.7 805.0,89.8 802.6,89.8 802.6,89.6 800.6,89.6 800.6,89.2 798.6,89.2 798.6,89.1 795.6,89.1 795.6,89.2 793.8,89.2 793.8,89.2 790.2,89.2 790.2,89.0 786.9,89.0 786.9,90.4 784.9,90.4 784.9,89.0 782.5,89.0 782.5,89.7 779.6,89.7 779.6,89.0 777.0,89.0 777.0,89.0 775.4,89.0 775.4,89.6 772.1,89.6 772.1,89.3 770.1,89.3 770.1,89.6 767.8,89.6 767.8,89.7 766.0,89.7 766.0,89.2 762.8,89.2 762.8,89.2 761.1,89.2 761.1,89.3 758.2,89.3 758.2,88.9 754.9,88.9 754.9,89.1 752.6,89.1 752.6,89.1 749.7,89.1 749.7,89.2 747.7,89.2 747.7,89.3 744.8,89.3 744.8,89.1 742.0,89.1 742.0,89.8 740.2,89.8 740.2,89.9 736.9,89.9 736.9,89.5 733.5,89.5 733.5,89.6 730.5,89.6 730.5,89.2 727.3,89.2 727.3,90.0 724.6,90.0 724.6,89.2 721.6,89.2 721.6,88.9 719.2,88.9 719.2,89.1 717.4,89.1 717.4,90.0 714.7,90.0 714.7,89.4 712.8,89.4 712.8,89.4 710.4,89.4 710.4,89.4 706.9,89.4 706.9,89.5 703.9,89.5 703.9,89.1 701.0,89.1 701.0,89.2 697.7,89.2 697.7,89.5 694.6,89.5 694.6,89.2 692.5,89.2 692.5,89.1 690.2,89.1 690.2,89.6 688.6,89.6 688.6,89.9 685.7,89.9 685.7,89.0 682.3,89.0 682.3,89.5 679.1,89.5 679.1,89.2 676.6,89.2 676.6,89.7 674.4,89.7 674.4,89.7 671.1,89.7 671.1,89.3 669.1,89.3 669.1,89.0 666.7,89.0 666.7,89.5 664.9,89.5 664.9,89.5 663.0,89.5 663.0,90.2 661.0,90.2 661.0,89.2 658.7,89.2 658.7,89.1 656.5,89.1 656.5,89.3 654.6,89.3 654.6,89.0 652.7,89.0 652.7,89.4 649.4,89.4 649.4,89.6 647.3,89.6 647.3,89.8 643.7,89.8 643.7,89.4 640.5,89.4 640.5,89.0 638.1,89.0 638.1,89.6 634.9,89.6 634.9,89.3 631.8,89.3 631.8,89.1 629.0,89.1 629.0,89.5 625.6,89.5 625.6,90.0 623.4,90.0 623.4,89.1 620.3,89.1 620.3,90.2 617.8,90.2 617.8,89.6 614.5,89.6 614.5,88.9 612.2,88.9 612.2,89.3 609.3,89.3 609.3,89.4 606.4,89.4 606.4,89.6 602.8,89.6 602.8,89.4 601.1,89.4 601.1,89.5 597.6,89.5 597.6,89.0 594.3,89.0 594.3,89.4 592.0,89.4 592.0,89.3 589.5,89.3 589.5,90.2 587.9,90.2 587.9,89.5 584.6,89.5 584.6,88.9 582.0,88.9" fill="#f8a51c"/>
<polygon points="582.0,136.9 584.5,136.9 584.5,134.3 586.3,134.3 586.3,128.5 590.3,128.5 590.3,122.7 594.0,122.7 594.0,121.6 597.1,121.6 597.1,130.0 599.6,130.0 599.6,133.6 602.7,133.6 602.7,132.2 605.8,132.2 605.8,122.4 609.8,122.4 609.8,134.9 613.3,134.9 613.3,134.2 615.6,134.2 615.6,139.2 617.4,139.2 617.4,136.3 621.6,136.3 621.6,135.3 625.0,135.3 625.0,139.9 628.7,139.9 628.7,138.0 630.5,138.0 630.5,129.3 632.9,129.3 632.9,134.2 636.2,134.2 636.2,139.0 639.6,139.0 639.6,132.8 641.6,132.8 641.6,133.2 643.7,133.2 643.7,137.6 647.9,137.6 647.9,138.4 651.5,138.4 651.5,130.2 654.0,130.2 654.0,139.5 656.9,139.5 656.9,132.1 660.9,132.1 660.9,137.3 662.8,137.3 662.8,136.2 666.7,136.2 666.7,135.0 669.1,135.0 669.1,133.8 673.1,133.8 673.1,137.4 676.3,137.4 676.3,122.2 678.5,122.2 678.5,134.2 681.2,134.2 681.2,138.7 683.5,138.7 683.5,126.6 687.4,126.6 687.4,139.2 690.0,139.2 690.0,139.8 693.7,139.8 693.7,135.5 696.8,135.5 696.8,138.3 700.5,138.3 700.5,140.5 704.1,140.5 704.1,136.6 706.4,136.6 706.4,128.5 709.8,128.5 709.8,134.9 711.7,134.9 711.7,134.4 714.1,134.4 714.1,131.4 716.1,131.4 716.1,135.8 718.2,135.8 718.2,140.4 720.4,140.4 720.4,135.7 722.5,135.7 722.5,133.7 725.4,133.7 725.4,139.4 727.4,139.4 727.4,130.0 730.5,130.0 730.5,129.4 734.4,129.4 734.4,140.9 737.4,140.9 737.4,140.6 741.3,140.6 741.3,134.9 743.8,134.9 743.8,134.9 747.3,134.9 747.3,138.6 749.9,138.6 749.9,127.7 752.5,127.7 752.5,140.8 755.5,140.8 755.5,139.8 758.9,139.8 758.9,140.7 761.8,140.7 761.8,132.5 764.2,132.5 764.2,134.1 767.5,134.1 767.5,140.4 771.6,140.4 771.6,137.9 774.3,137.9 774.3,129.9 776.6,129.9 776.6,140.8 778.6,140.8 778.6,138.5 781.5,138.5 781.5,128.1 785.1,128.1 785.1,128.1 787.8,128.1 787.8,127.8 791.9,127.8 791.9,122.7 794.9,122.7 794.9,125.8 799.1,125.8 799.1,122.4 802.9,122.4 802.9,126.5 805.8,126.5 805.8,124.5 808.4,124.5 808.4,123.5 811.8,123.5 811.8,128.4 814.0,128.4 814.0,128.2 817.2,128.2 817.2,127.8 820.4,127.8 820.4,118.9 822.8,118.9 822.8,124.4 824.9,124.4 824.9,127.1 828.1,127.1 828.1,125.1 830.5,125.1 830.5,119.3 833.4,119.3 833.4,120.1 836.7,120.1 836.7,123.5 839.2,123.5 839.2,126.4 841.1,126.4 841.1,127.4 843.0,127.4 843.0,124.7 847.1,124.7 847.1,123.0 850.1,123.0 850.1,125.9 853.5,125.9 853.5,124.7 855.9,124.7 855.9,117.8 859.6,117.8 859.6,118.6 861.9,118.6 861.9,125.1 865.1,125.1 865.1,128.1 867.5,128.1 867.5,127.6 870.5,127.6 870.5,124.3 874.1,124.3 874.1,128.3 877.5,128.3 877.5,124.9 880.5,124.9 880.5,122.9 883.8,122.9 883.8,127.9 887.5,127.9 887.5,127.1 891.6,127.1 891.6,125.4 895.7,125.4 895.7,123.6 899.3,123.6 899.3,125.9 902.9,125.9 902.9,128.3 905.2,128.3 905.2,124.0 907.4,124.0 907.4,117.7 909.3,117.7 909.3,123.5 912.5,123.5 912.5,125.8 915.4,125.8 915.4,127.1 917.2,127.1 917.2,119.8 919.9,119.8 919.9,123.8 923.7,123.8 923.7,125.1 927.2,125.1 927.2,127.2 930.8,127.2 930.8,118.2 934.6,118.2 934.6,124.2 938.5,124.2 938.5,118.2 940.3,118.2 940.3,127.1 942.8,127.1 942.8,127.4 945.0,127.4 945.0,126.7 947.4,126.7 947.4,124.7 951.5,124.7 951.5,124.3 955.6,124.3 955.6,122.4 958.2,122.4 958.2,123.0 961.0,123.0 961.0,124.5 962.9,124.5 962.9,121.0 964.9,121.0 964.9,125.1 967.4,125.1 967.4,123.8 970.0,123.8 970.0,125.8 974.0,125.8 974.0,125.5 976.2,125.5 976.2,126.2 979.7,126.2 979.7,121.0 983.4,121.0 983.4,124.8 985.0,124.8 985.0,150.1 983.4,150.1 983.4,144.1 979.7,144.1 979.7,150.3 976.2,150.3 976.2,145.2 974.0,145.2 974.0,140.3 970.0,140.3 970.0,139.8 967.4,139.8 967.4,149.0 964.9,149.0 964.9,146.1 962.9,146.1 962.9,141.4 961.0,141.4 961.0,140.2 958.2,140.2 958.2,140.4 955.6,140.4 955.6,140.3 951.5,140.3 951.5,140.0 947.4,140.0 947.4,149.0 945.0,149.0 945.0,140.1 942.8,140.1 942.8,139.9 940.3,139.9 940.3,141.7 938.5,141.7 938.5,141.7 934.6,141.7 934.6,146.6 930.8,146.6 930.8,142.7 927.2,142.7 927.2,139.6 923.7,139.6 923.7,144.6 919.9,144.6 919.9,140.9 917.2,140.9 917.2,141.6 915.4,141.6 915.4,144.2 912.5,144.2 912.5,145.3 909.3,145.3 909.3,145.0 907.4,145.0 907.4,141.9 905.2,141.9 905.2,140.3 902.9,140.3 902.9,141.5 899.3,141.5 899.3,144.8 895.7,144.8 895.7,141.1 891.6,141.1 891.6,144.0 887.5,144.0 887.5,144.4 883.8,144.4 883.8,150.8 880.5,150.8 880.5,146.2 877.5,146.2 877.5,139.6 874.1,139.6 874.1,143.0 870.5,143.0 870.5,140.7 867.5,140.7 867.5,143.8 865.1,143.8 865.1,146.1 861.9,146.1 861.9,144.0 859.6,144.0 859.6,146.8 855.9,146.8 855.9,144.7 853.5,144.7 853.5,139.1 850.1,139.1 850.1,146.5 847.1,146.5 847.1,142.8 843.0,142.8 843.0,143.0 841.1,143.0 841.1,140.1 839.2,140.1 839.2,140.8 836.7,140.8 836.7,148.9 833.4,148.9 833.4,144.8 830.5,144.8 830.5,144.9 828.1,144.9 828.1,140.0 824.9,140.0 824.9,143.7 822.8,143.7 822.8,147.9 820.4,147.9 820.4,141.6 817.2,141.6 817.2,144.6 814.0,144.6 814.0,139.0 811.8,139.0 811.8,139.6 808.4,139.6 808.4,141.5 805.8,141.5 805.8,152.0 802.9,152.0 802.9,158.5 799.1,158.5 799.1,141.4 794.9,141.4 794.9,140.8 791.9,140.8 791.9,144.8 787.8,144.8 787.8,139.6 785.1,139.6 785.1,161.6 781.5,161.6 781.5,157.2 778.6,157.2 778.6,155.7 776.6,155.7 776.6,162.0 774.3,162.0 774.3,156.3 771.6,156.3 771.6,166.6 767.5,166.6 767.5,163.1 764.2,163.1 764.2,154.1 761.8,154.1 761.8,161.9 758.9,161.9 758.9,154.1 755.5,154.1 755.5,154.9 752.5,154.9 752.5,166.6 749.9,166.6 749.9,163.1 747.3,163.1 747.3,157.2 743.8,157.2 743.8,157.3 741.3,157.3 741.3,156.6 737.4,156.6 737.4,157.9 734.4,157.9 734.4,163.8 730.5,163.8 730.5,165.9 727.4,165.9 727.4,164.4 725.4,164.4 725.4,157.2 722.5,157.2 722.5,156.5 720.4,156.5 720.4,160.8 718.2,160.8 718.2,158.9 716.1,158.9 716.1,156.5 714.1,156.5 714.1,155.3 711.7,155.3 711.7,164.4 709.8,164.4 709.8,156.3 706.4,156.3 706.4,158.1 704.1,158.1 704.1,158.1 700.5,158.1 700.5,162.4 696.8,162.4 696.8,158.8 693.7,158.8 693.7,162.4 690.0,162.4 690.0,159.2 687.4,159.2 687.4,169.4 683.5,169.4 683.5,155.6 681.2,155.6 681.2,163.2 678.5,163.2 678.5,167.5 676.3,167.5 676.3,159.2 673.1,159.2 673.1,164.5 669.1,164.5 669.1,155.4 666.7,155.4 666.7,165.8 662.8,165.8 662.8,159.9 660.9,159.9 660.9,167.1 656.9,167.1 656.9,158.5 654.0,158.5 654.0,161.4 651.5,161.4 651.5,158.3 647.9,158.3 647.9,160.7 643.7,160.7 643.7,160.9 641.6,160.9 641.6,155.8 639.6,155.8 639.6,157.7 636.2,157.7 636.2,163.6 632.9,163.6 632.9,157.6 630.5,157.6 630.5,160.0 628.7,160.0 628.7,161.0 625.0,161.0 625.0,166.8 621.6,166.8 621.6,162.4 617.4,162.4 617.4,167.2 615.6,167.2 615.6,174.9 613.3,174.9 613.3,157.0 609.8,157.0 609.8,166.9 605.8,166.9 605.8,165.1 602.7,165.1 602.7,157.4 599.6,157.4 599.6,164.9 597.1,164.9 597.1,169.6 594.0,169.6 594.0,169.6 590.3,169.6 590.3,173.5 586.3,173.5 586.3,179.3 584.5,179.3 584.5,168.5 582.0,168.5" fill="#f8a51c"/>
<line x1="582.0" y1="194.5" x2="582.0" y2="203.0" stroke="#129a4a" stroke-width="3.5" />
<polyline points="582.0,202.8 584.0,202.2 586.0,202.1 588.1,202.7 590.1,202.6 592.1,202.1 594.1,202.2 596.1,202.6 598.1,202.1 600.2,202.6 602.2,202.2 604.2,202.3 606.2,202.4 608.2,202.5 610.3,202.7 612.3,202.0 614.3,202.7 616.3,202.2 618.3,202.3 620.3,202.6 622.4,202.7 624.4,202.6 626.4,202.9 628.4,202.2 630.4,202.3 632.5,202.7 634.5,202.3 636.5,202.2 638.5,202.2 640.5,202.8 642.5,202.8 644.6,202.7 646.6,203.0 648.6,202.8 650.6,202.3 652.6,202.3 654.7,202.7 656.7,202.1 658.7,202.6 660.7,202.1 662.7,202.0 664.7,202.5 666.8,202.2 668.8,202.9 670.8,202.9 672.8,202.5 674.8,202.2 676.9,202.1 678.9,202.5 680.9,202.5 682.9,202.4 684.9,202.7 686.9,202.5 689.0,202.8 691.0,202.1 693.0,202.1 695.0,202.4 697.0,202.5 699.1,202.3 701.1,202.7 703.1,202.2 705.1,202.3 707.1,202.5 709.1,202.7 711.2,202.8 713.2,202.4 715.2,202.4 717.2,202.9 719.2,202.9 721.3,202.6 723.3,202.1 725.3,202.5 727.3,202.6 729.3,202.3 731.3,202.0 733.4,203.0 735.4,202.9 737.4,202.1 739.4,202.5 741.4,202.6 743.5,202.3 745.5,202.1 747.5,202.8 749.5,202.8 751.5,202.4 753.5,202.1 755.6,202.4 757.6,202.1 759.6,203.0 761.6,202.1 763.6,202.3 765.7,202.8 767.7,202.1 769.7,202.1 771.7,202.1 773.7,202.2 775.7,202.5 777.8,202.8 779.8,202.2 781.8,202.2 781.9,200.7 782.1,198.3 782.2,196.2 782.4,194.0 782.5,192.0 784.5,192.8 786.5,191.9 788.5,192.0 790.5,192.5 792.5,192.7 794.5,192.7 796.5,192.2 798.5,192.7 800.5,192.3 802.5,192.0 804.6,192.2 806.6,192.4 808.6,192.4 810.6,191.8 812.6,191.9 814.6,192.6 816.6,191.8 818.6,192.5 820.6,192.0 822.6,191.9 824.6,191.9 826.6,192.1 828.6,192.6 830.6,191.8 832.6,192.5 834.6,191.9 836.6,191.8 838.6,192.3 840.6,191.9 842.6,191.7 844.7,192.0 846.7,192.4 848.7,192.4 850.7,192.1 852.7,191.5 854.7,192.3 856.7,192.1 858.7,192.4 860.7,192.4 862.7,191.8 864.7,192.3 866.7,192.3 868.7,191.7 870.7,191.8 872.7,191.8 874.7,191.8 876.7,191.8 878.7,191.5 880.7,191.6 882.7,192.3 884.8,191.8 886.8,192.0 888.8,192.3 890.8,192.1 892.8,191.6 894.8,192.3 896.8,192.2 898.8,192.3 900.8,192.1 902.8,192.1 904.8,192.1 906.8,191.6 908.8,192.0 910.8,191.7 912.8,192.1 914.8,191.4 916.8,191.8 918.8,191.6 920.8,192.1 922.8,191.6 924.9,192.1 926.9,192.1 928.9,192.1 930.9,191.4 932.9,192.1 934.9,191.9 936.9,191.9 938.9,191.8 940.9,191.2 942.9,192.0 944.9,191.7 946.9,191.6 948.9,191.5 950.9,191.9 952.9,191.9 954.9,192.0 956.9,191.3 958.9,191.4 960.9,191.3 962.9,191.2 965.0,191.4 967.0,191.1 969.0,191.9 971.0,191.3 973.0,191.1 975.0,191.1 977.0,191.8 979.0,191.2 981.0,191.5 983.0,191.4 985.0,191.5" fill="none" stroke="#129a4a" stroke-width="4.6" stroke-linejoin="round" stroke-linecap="butt"/>
<polyline points="582.0,203.3 584.0,203.5 586.0,202.8 588.0,203.1 590.0,203.4 592.0,203.0 594.0,203.4 596.0,203.2 598.0,202.8 600.0,203.4 602.0,203.1 604.0,202.6 606.0,203.1 608.0,203.3 610.0,203.0 612.0,203.0 614.0,202.9 616.0,203.4 618.0,203.2 620.0,202.7 622.0,202.9 624.0,202.9 626.0,203.5 628.0,203.2 630.0,202.6 632.0,203.4 634.0,202.5 636.0,203.1 638.0,202.9 640.0,203.2 642.0,202.9 644.0,202.6 646.0,203.0 648.0,203.3 650.0,203.3 652.0,202.9 654.0,202.7 656.0,203.2 658.0,203.3 660.0,202.7 662.0,203.4 664.0,203.5 666.0,202.9 668.0,202.9 670.0,203.2 672.0,203.4 674.0,202.7 676.0,202.8 678.0,202.8 680.0,203.2 682.0,202.7 684.0,203.0 686.0,203.0 688.0,203.2 690.0,202.6 692.0,203.5 694.0,203.5 696.0,203.1 698.0,203.3 700.0,202.7 702.0,203.4 704.0,203.1 706.0,203.3 708.0,203.4 710.0,202.9 712.0,203.4 714.0,202.7 716.0,202.5 718.0,203.0 720.0,203.4 722.0,203.4 724.0,203.5 726.0,203.0 728.0,203.4 730.0,203.1 732.0,202.6 734.0,203.1 736.0,203.3 738.0,202.9 740.0,203.1 742.0,202.8 744.0,202.8 746.0,202.9 748.0,203.0 750.0,203.0 752.0,202.6 754.0,202.5 756.0,202.8 758.0,203.2 760.0,203.2 762.0,202.7 764.0,202.8 766.0,203.0 768.0,202.7 770.0,203.1 772.0,203.4 774.0,202.7 776.0,203.1 778.0,203.2 780.0,203.2 782.0,203.2 784.0,203.2 784.2,200.8 784.4,199.3 784.6,197.4 784.8,194.6 785.0,193.4 787.0,192.9 789.0,192.6 791.0,192.5 793.0,193.3 795.0,193.1 797.0,192.6 799.0,192.9 801.0,193.1 803.0,193.4 805.0,192.7 807.0,193.2 809.0,192.6 811.0,192.6 813.0,192.5 815.0,192.8 817.0,193.0 819.0,192.6 821.0,192.5 823.0,192.5 825.0,192.4 827.0,192.5 829.0,192.6 831.0,192.8 833.0,192.4 835.0,192.7 837.0,192.7 839.0,193.2 841.0,192.7 843.0,193.2 845.0,192.7 847.0,192.4 849.0,192.8 851.0,192.3 853.0,192.3 855.0,192.2 857.0,192.8 859.0,193.1 861.0,192.5 863.0,192.5 865.0,192.5 867.0,192.4 869.0,192.8 871.0,192.5 873.0,192.2 875.0,192.9 877.0,192.6 879.0,192.0 881.0,192.9 883.0,192.7 885.0,192.4 887.0,192.6 889.0,192.9 891.0,192.4 893.0,192.4 895.0,192.2 897.0,192.5 899.0,192.6 901.0,192.7 903.0,192.9 905.0,192.0 907.0,192.3 909.0,192.7 911.0,192.7 913.0,192.5 915.0,192.5 917.0,192.2 919.0,192.8 921.0,192.4 923.0,192.2 925.0,192.0 927.0,191.9 929.0,192.7 931.0,192.6 933.0,191.8 935.0,192.1 937.0,192.2 939.0,192.2 941.0,192.1 943.0,192.6 945.0,192.0 947.0,192.2 949.0,192.6 951.0,192.3 953.0,192.1 955.0,192.0 957.0,192.0 959.0,192.2 961.0,192.4 963.0,191.9 965.0,192.0 967.0,192.0 969.0,191.9 971.0,192.5 973.0,192.1 975.0,191.8 977.0,191.9 979.0,192.4 981.0,191.7 983.0,192.2 985.0,192.0" fill="none" stroke="#f8a51c" stroke-width="4.3" stroke-linejoin="round" stroke-linecap="butt"/>
<polyline points="582.0,269.7 584.0,269.9 586.0,269.8 588.1,270.5 590.1,269.8 592.1,269.9 594.1,269.8 596.1,270.0 598.2,270.4 600.2,270.4 602.2,270.6 604.2,270.6 606.2,270.3 608.3,270.6 610.3,269.8 612.3,270.6 614.3,270.1 616.3,269.9 618.4,270.4 620.4,270.6 622.4,270.1 624.4,269.8 626.4,270.6 628.5,270.5 630.5,270.3 632.5,270.7 634.5,269.7 636.5,269.8 638.5,269.8 640.6,269.7 642.6,270.4 644.6,270.3 646.6,269.8 648.6,269.9 650.7,269.9 652.7,270.3 654.7,270.4 656.7,270.7 658.7,270.1 660.8,270.7 662.8,270.1 664.8,270.1 666.8,270.0 668.8,269.9 670.9,270.7 672.9,270.7 674.9,270.4 676.9,269.9 678.9,269.9 681.0,269.9 683.0,270.1 685.0,270.4 687.3,268.7 689.7,268.1 692.0,267.2 694.3,265.5 696.7,264.9 699.0,264.3 701.0,264.1 703.1,264.0 705.1,264.4 707.1,264.1 709.1,263.9 711.2,263.9 713.2,264.5 715.2,264.4 717.2,264.5 719.3,264.1 721.3,263.7 723.3,263.8 725.3,264.0 727.4,264.3 729.4,263.6 731.4,264.4 733.4,264.4 735.5,264.2 737.5,263.7 739.5,264.5 741.5,264.1 743.6,264.3 745.6,264.2 747.6,264.4 749.6,264.1 751.7,264.7 753.7,264.7 755.7,264.6 757.7,264.3 759.8,264.0 761.8,264.1 763.8,264.0 765.8,264.7 767.9,264.6 769.9,264.6 771.9,264.6 773.9,264.8 776.0,264.5 778.0,264.1 778.3,262.5 778.6,260.0 778.9,258.3 779.1,255.8 779.4,254.4 779.7,252.0 780.0,249.8 780.4,248.4 780.8,245.6 781.2,244.4 781.6,242.3 782.0,239.6 785.0,239.1 787.0,238.8 789.0,239.2 791.0,238.8 793.0,238.6 795.0,239.1 797.0,238.2 799.0,238.9 801.0,238.2 803.0,238.3 805.0,238.2 807.0,238.9 809.0,238.4 811.0,238.7 813.0,238.2 815.0,238.6 817.0,238.5 819.0,238.0 821.0,238.3 823.0,238.5 825.0,238.0 827.0,238.4 829.0,238.0 831.0,238.1 833.0,238.6 835.0,238.6 837.0,238.6 839.0,238.0 841.0,238.2 843.0,238.4 845.0,238.3 847.0,238.0 849.0,238.3 851.0,237.9 853.0,238.4 855.0,237.9 857.0,237.5 859.0,238.1 861.0,237.5 863.0,238.0 865.0,237.0 867.0,237.6 869.0,236.8 871.0,236.6 873.0,235.7 875.0,235.8 877.0,235.2 879.0,234.7 881.0,234.9 883.0,233.8 885.0,233.9 887.0,233.1 889.0,233.6 891.0,233.6 893.0,232.7 895.0,233.1 897.0,233.1 899.0,233.3 901.0,233.3 903.0,232.9 905.0,233.5 907.0,232.8 909.0,232.7 911.0,233.4 913.0,232.6 915.0,232.7 917.0,233.0 919.0,232.8 921.0,232.6 923.0,233.4 925.0,232.9 927.0,233.2 929.0,232.7 931.0,233.3 933.0,232.6 935.0,233.3 937.0,233.0 939.0,233.3 941.0,233.1 943.0,232.9 945.0,232.8 947.0,233.1 949.0,232.7 951.0,232.3 953.0,233.1 955.0,233.0 957.0,232.9 959.0,232.9 961.0,232.4 963.0,232.6 965.0,233.0 967.0,233.1 969.0,233.0 971.0,232.3 973.0,232.8 975.0,232.6 977.0,232.5 979.0,232.2 981.0,232.2 983.0,232.5 985.0,232.5" fill="none" stroke="#129a4a" stroke-width="4.6" stroke-linejoin="round" stroke-linecap="butt"/>
<polyline points="582.0,270.6 584.0,270.4 586.0,270.5 588.1,270.7 590.1,270.9 592.1,270.7 594.1,270.3 596.1,271.0 598.2,270.5 600.2,271.1 602.2,271.1 604.2,270.2 606.2,270.7 608.3,271.1 610.3,270.5 612.3,270.6 614.3,270.4 616.3,270.1 618.4,270.3 620.4,270.2 622.4,270.4 624.4,270.7 626.4,270.7 628.5,271.0 630.5,270.8 632.5,270.5 634.5,271.0 636.5,270.7 638.5,270.6 640.6,271.0 642.6,270.8 644.6,270.5 646.6,270.7 648.6,270.4 650.7,271.1 652.7,270.3 654.7,271.1 656.7,270.2 658.7,270.1 660.8,270.7 662.8,270.3 664.8,270.6 666.8,270.2 668.8,270.9 670.9,270.8 672.9,270.8 674.9,271.0 676.9,271.1 678.9,270.8 681.0,270.8 683.0,270.1 685.0,270.1 687.3,269.5 689.7,268.9 692.0,267.2 694.3,266.5 696.7,264.9 699.0,264.3 701.0,264.8 703.0,264.5 705.1,264.7 707.1,263.9 709.1,264.1 711.1,264.1 713.2,264.8 715.2,264.0 717.2,264.9 719.2,264.2 721.3,264.8 723.3,264.5 725.3,264.3 727.3,264.9 729.4,264.4 731.4,264.7 733.4,264.0 735.4,264.8 737.5,265.0 739.5,264.1 741.5,264.7 743.5,264.3 745.5,264.2 747.6,264.4 749.6,264.7 751.6,265.0 753.6,265.0 755.7,265.0 757.7,264.7 759.7,264.7 761.7,264.2 763.8,264.8 765.8,264.6 767.8,264.4 769.8,265.0 771.9,264.3 773.9,264.2 775.9,264.2 777.9,264.2 780.0,264.7 782.0,264.9 784.0,264.3 784.2,262.5 784.4,260.5 784.6,258.4 784.9,256.2 785.1,254.2 785.3,251.6 785.5,249.6 785.8,247.7 786.0,245.2 786.2,243.5 786.5,240.7 789.0,239.5 791.0,238.9 793.0,238.7 795.0,239.1 797.0,239.0 799.0,238.9 801.0,239.3 803.0,238.7 805.0,239.2 807.0,239.3 809.0,238.9 811.0,238.9 813.0,239.3 815.0,239.0 817.0,238.5 819.0,238.4 821.0,238.3 823.0,238.6 825.0,238.3 827.0,238.8 829.0,238.6 831.0,238.4 833.0,238.6 835.0,239.0 837.0,238.3 839.0,238.2 841.0,238.3 843.0,238.3 845.0,238.9 847.0,238.6 849.0,238.3 851.0,238.0 853.0,237.9 855.0,237.9 857.0,238.6 859.0,238.4 861.0,237.9 863.0,238.3 865.0,237.6 867.0,237.9 869.0,237.5 871.0,237.1 873.0,237.6 875.0,237.4 877.0,237.0 879.0,236.5 881.0,236.8 883.0,236.4 885.0,236.5 887.0,235.8 889.0,236.4 891.0,235.5 893.0,235.7 895.0,235.9 897.0,235.7 899.0,235.5 901.0,236.1 903.0,236.4 905.0,235.7 907.0,235.7 909.0,236.1 911.0,235.6 913.0,235.8 915.0,236.1 917.0,235.8 919.0,235.5 921.0,235.4 923.0,235.9 925.0,236.3 927.0,236.2 929.0,235.4 931.0,235.8 933.0,235.8 935.0,235.4 937.0,235.9 939.0,235.7 941.0,236.0 943.0,235.5 945.0,236.1 947.0,236.0 949.0,235.7 951.0,235.3 953.0,235.6 955.0,235.3 957.0,235.8 959.0,235.8 961.0,235.7 963.0,236.1 965.0,235.1 967.0,235.8 969.0,235.9 971.0,235.2 973.0,235.4 975.0,235.1 977.0,235.6 979.0,235.7 981.0,235.4 983.0,235.7 984.0,239.0" fill="none" stroke="#f8a51c" stroke-width="4.3" stroke-linejoin="round" stroke-linecap="butt"/>
<polyline points="581.2,371.8 583.2,372.1 585.2,371.7 587.3,372.4 589.3,371.8 591.3,371.4 593.4,371.4 595.4,372.1 597.4,372.2 599.4,372.0 601.5,371.5 603.5,372.2 605.5,372.0 607.5,371.4 609.6,371.7 611.6,372.0 613.6,371.3 615.6,371.3 617.7,371.6 619.7,372.1 621.7,372.2 623.7,371.6 625.8,372.1 627.8,372.0 629.8,372.1 631.8,371.8 633.9,372.2 635.9,371.8 637.9,372.1 639.9,371.7 642.0,371.4 644.0,371.7 646.0,371.6 648.0,371.5 650.1,371.5 652.1,371.6 654.1,371.7 656.1,371.3 658.2,371.4 660.2,371.6 662.2,371.6 663.2,369.5 664.2,367.8 665.2,365.3 666.2,363.6 667.2,361.4 668.0,359.9 668.8,357.8 669.6,355.9 670.4,353.6 671.2,351.3 672.2,349.8 673.2,347.1 674.2,344.7 675.2,342.4 676.5,340.9 677.9,339.6 679.2,338.1 681.2,337.6 683.2,337.6 685.2,337.1 687.2,337.4 689.3,337.3 691.3,337.2 693.3,337.3 695.3,337.7 697.3,337.7 699.4,337.2 701.4,337.2 703.4,337.8 705.4,337.7 707.5,337.7 709.5,337.7 711.5,337.7 713.5,337.3 715.5,337.1 717.6,337.4 719.6,337.1 721.6,338.1 723.6,337.6 725.6,337.8 727.7,338.1 729.7,337.9 731.7,337.4 733.7,337.5 735.7,337.3 737.8,338.0 739.8,337.9 741.8,337.7 743.8,337.6 745.9,337.5 747.9,337.7 749.9,338.0 751.9,338.2 753.9,338.1 756.0,338.1 758.0,337.7 760.0,337.7 760.1,335.5 760.1,334.1 760.2,331.3 760.2,329.2 760.3,327.2 760.3,325.8 760.4,323.7 760.4,321.1 760.5,319.6 763.0,319.6 765.6,319.1 765.7,316.8 765.9,315.3 766.0,312.9 767.5,311.1 769.0,310.4 771.0,309.2 773.0,308.4 775.0,308.6 777.1,308.3 779.1,308.0 781.1,308.4 783.1,308.4 785.2,308.1 787.2,308.4 789.2,308.8 791.2,308.4 793.3,308.8 795.3,308.7 797.3,308.3 799.3,308.1 801.4,308.8 803.4,308.7 805.4,308.4 807.4,308.4 809.5,309.0 811.5,309.1 813.5,308.4 815.5,308.8 817.6,308.8 819.6,308.5 821.6,308.3 823.6,308.6 825.7,308.9 827.7,308.8 829.7,308.8 831.7,308.4 833.8,308.5 835.8,308.6 837.8,308.7 839.8,308.7 841.9,309.2 843.9,308.4 845.9,309.3 847.9,308.6 850.0,309.2 852.0,308.6 854.0,309.0 856.0,308.7 858.1,308.4 860.1,309.2 862.1,309.2 864.1,308.7 866.2,309.2 868.2,308.9 870.2,309.4 872.2,308.5 874.3,308.8 876.3,308.7 878.3,309.1 880.3,309.3 882.4,309.3 884.4,309.0 885.3,306.6 886.2,304.8 887.1,301.9 888.0,299.8 888.8,298.3 889.6,295.9 890.4,294.5 891.2,291.6 892.0,290.0 893.0,287.7 894.0,285.5 895.0,283.6 896.0,281.6 899.0,280.7 901.0,280.7 903.0,280.8 905.0,280.6 907.0,281.0 909.0,280.8 911.0,281.3 913.0,280.5 915.0,280.8 917.0,280.8 919.0,280.7 921.0,281.2 923.0,280.5 925.0,281.2 927.0,280.7 929.0,280.6 931.0,280.9 933.0,280.9 935.0,280.6 937.0,280.4 939.0,281.3 941.0,280.7 943.0,280.4 945.0,281.0 947.0,280.8 949.0,280.6 951.0,280.6 953.0,281.1 955.0,280.6 957.0,280.7 959.0,281.3 961.0,280.7 963.0,280.7 965.0,280.5 967.0,281.0 969.0,281.0 971.0,280.7 973.0,280.7 975.0,280.5 977.0,281.1 979.0,280.8 981.0,281.1 983.0,280.7 985.0,280.8" fill="none" stroke="#129a4a" stroke-width="4.6" stroke-linejoin="round" stroke-linecap="butt"/>
<polyline points="582.0,372.5 584.0,371.8 586.0,372.0 588.1,372.7 590.1,372.5 592.1,372.4 594.1,372.3 596.2,372.2 598.2,371.9 600.2,371.9 602.2,372.4 604.3,372.4 606.3,372.0 608.3,372.3 610.4,371.8 612.4,372.3 614.4,371.9 616.4,372.2 618.5,372.0 620.5,372.2 622.5,371.8 624.5,372.1 626.5,372.3 628.6,371.8 630.6,371.9 632.6,372.3 634.6,372.2 636.7,372.2 638.7,372.4 640.7,372.2 642.8,371.8 644.8,372.0 646.8,372.4 648.8,372.1 650.9,372.3 652.9,371.9 654.9,372.0 656.9,372.5 659.0,372.3 661.0,372.2 663.0,371.6 664.0,370.1 665.0,367.5 666.0,366.4 667.0,364.5 668.0,362.2 668.8,359.8 669.6,358.3 670.4,355.7 671.2,354.3 672.0,352.0 673.0,349.3 674.0,347.9 675.0,345.2 676.0,343.3 677.3,341.6 678.7,339.8 680.0,338.6 682.0,337.7 684.0,338.2 686.0,337.6 688.0,337.3 690.0,337.7 692.0,337.4 694.0,337.4 696.0,338.0 698.0,337.5 700.0,337.5 702.0,337.7 704.0,337.7 706.0,338.3 708.0,338.3 710.0,338.3 712.0,338.4 714.0,337.9 716.0,338.3 718.0,337.8 720.0,338.4 722.0,338.3 724.0,338.3 726.0,337.8 728.0,337.6 730.0,338.5 732.0,338.1 734.0,338.2 736.0,338.5 738.0,337.7 740.0,338.3 742.0,338.1 744.0,338.4 746.0,338.1 748.0,337.9 750.0,338.6 752.0,338.0 754.0,338.4 756.0,338.5 758.0,338.0 760.0,338.4 762.0,338.1 764.0,338.0 766.0,338.0 768.0,338.7 770.0,338.1 772.0,338.3 774.0,338.3 776.0,337.8 778.0,338.6 780.0,338.6 782.0,338.7 784.0,338.2 786.0,338.1 788.0,338.2 790.0,338.6 792.0,338.6 793.0,336.5 794.0,334.8 795.0,332.7 796.5,331.9 798.0,330.0 799.5,327.5 801.0,325.3 801.1,322.6 801.3,320.9 801.4,318.4 801.6,316.7 801.7,313.9 801.9,311.9 802.0,310.1 804.0,309.1 806.0,309.0 808.0,309.2 810.0,308.8 812.0,309.0 814.0,308.6 816.1,309.4 818.1,308.9 820.1,309.4 822.1,309.2 824.1,309.2 826.1,309.2 828.1,308.7 830.1,309.4 832.1,308.9 834.1,309.5 836.2,309.4 838.2,309.3 840.2,309.4 842.2,309.0 844.2,309.3 846.2,309.6 848.2,308.8 850.2,308.7 852.2,309.0 854.2,309.1 856.3,308.7 858.3,308.8 860.3,309.5 862.3,309.0 864.3,308.7 866.3,308.8 868.3,309.2 870.3,308.8 872.3,309.1 874.4,309.1 876.4,309.0 878.4,309.1 880.4,309.4 882.4,308.6 884.4,309.5 885.3,306.5 886.2,304.1 887.1,302.5 888.0,300.1 888.8,298.0 889.6,295.7 890.4,294.3 891.2,291.8 892.0,290.2 893.0,287.7 894.0,286.1 895.0,284.1 896.0,281.9 899.0,280.8 901.0,280.4 903.0,280.9 905.0,281.0 907.0,280.5 909.0,280.9 911.0,281.0 913.0,280.4 915.0,281.1 917.0,281.2 919.0,280.4 921.0,280.5 923.0,280.4 925.0,280.6 927.0,280.4 929.0,280.8 931.0,280.6 933.0,280.6 935.0,280.8 937.0,280.7 939.0,281.1 941.0,281.0 943.0,280.4 945.0,280.5 947.0,280.3 949.0,280.6 951.0,280.4 953.0,281.0 955.0,281.1 957.0,281.3 959.0,280.5 961.0,280.3 963.0,281.1 965.0,280.7 967.0,281.2 969.0,280.7 971.0,280.6 973.0,280.4 975.0,281.2 977.0,280.8 979.0,280.7 981.0,280.7 983.0,281.1 985.0,280.8" fill="none" stroke="#f8a51c" stroke-width="4.3" stroke-linejoin="round" stroke-linecap="butt"/>
<polyline points="581.2,459.7 583.2,459.4 585.2,459.1 587.3,459.3 589.3,459.8 591.3,459.3 593.4,459.5 595.4,459.4 597.4,459.3 599.4,459.4 601.5,459.1 603.5,459.4 605.5,459.7 607.5,458.9 609.6,459.2 611.6,459.7 613.6,459.8 615.6,458.8 617.7,459.4 619.7,459.4 621.7,459.6 623.7,459.2 625.8,458.9 627.8,459.0 629.8,459.4 631.8,459.4 633.9,458.9 635.9,459.3 637.9,459.3 639.9,459.3 642.0,458.7 644.0,459.1 646.0,459.0 648.0,459.2 650.1,459.0 652.1,458.8 654.1,459.3 656.1,458.9 658.2,459.4 660.2,458.9 662.2,459.1 662.9,457.5 663.5,454.9 664.2,453.6 664.9,451.0 665.5,450.0 666.2,447.1 666.9,445.7 667.5,443.1 668.2,440.8 668.9,438.8 669.5,436.8 670.2,434.5 670.8,432.0 671.4,430.2 672.0,427.8 672.6,426.3 673.2,423.5 674.2,421.6 675.2,419.5 676.2,418.3 678.2,417.4 680.2,417.5 682.2,417.7 684.2,417.3 686.2,417.6 688.2,417.1 690.2,417.0 692.2,416.9 694.2,417.3 696.2,417.7 698.2,417.0 700.3,417.2 702.3,417.6 704.3,417.1 706.3,416.9 708.3,417.3 710.3,417.2 712.3,417.7 714.3,417.6 716.3,417.0 718.3,417.3 720.3,417.1 722.3,416.7 724.3,417.1 726.3,417.6 728.3,417.0 730.3,417.2 732.3,417.3 734.3,416.7 736.3,417.5 738.3,416.7 740.4,416.9 742.4,417.3 744.4,416.6 746.4,416.9 748.4,416.7 750.4,417.0 752.4,416.5 754.4,416.7 756.4,416.7 758.4,416.6 758.5,414.3 758.5,412.1 758.6,410.1 758.7,407.4 758.7,405.8 758.8,403.1 761.3,403.0 763.9,402.9 766.4,403.5 766.4,400.7 766.5,399.4 766.5,396.7 766.6,395.6 766.6,393.0 766.6,391.2 766.7,389.4 766.7,386.6 766.8,384.6 766.8,383.2 770.0,382.9 772.0,383.0 774.0,382.6 776.0,382.8 778.1,382.5 780.1,382.8 782.1,382.7 784.1,383.0 786.1,382.7 788.1,382.7 790.1,383.1 792.2,382.5 794.2,383.2 796.2,383.0 798.2,382.7 800.2,382.6 802.2,383.0 804.2,383.0 806.2,383.2 808.3,382.9 810.3,383.0 812.3,383.4 814.3,382.8 816.3,383.6 818.3,383.5 820.3,383.6 822.4,383.6 824.4,382.9 826.4,383.5 828.4,383.3 830.4,382.9 832.4,383.7 834.4,383.3 836.5,383.5 838.5,383.3 840.5,382.8 842.5,383.6 844.5,382.9 846.5,383.0 848.5,383.4 850.6,383.0 852.6,383.3 854.6,383.5 856.6,382.9 858.6,383.5 860.6,382.9 862.6,383.3 864.6,383.5 866.7,383.6 868.7,382.9 870.7,383.1 872.7,383.9 874.7,383.3 876.7,383.4 878.7,383.3 880.8,383.7 882.8,383.7 884.8,383.6 886.8,383.4 888.1,381.4 889.4,379.3 890.7,376.8 892.0,375.4 893.0,373.5 894.0,371.3 895.0,369.5 896.0,367.0 897.0,365.3 898.0,362.7 899.0,361.2 900.0,359.2 901.0,357.4 902.9,355.3 904.8,353.4 908.0,352.6 910.0,353.1 912.1,352.8 914.1,352.6 916.1,352.7 918.1,353.1 920.2,353.1 922.2,353.1 924.2,353.0 926.2,352.5 928.3,352.5 930.3,352.9 932.3,352.5 934.3,352.6 936.4,352.4 938.4,352.5 940.4,353.0 942.4,352.5 944.5,353.1 946.5,352.6 948.5,353.1 950.6,352.6 952.6,352.6 954.6,352.7 956.6,352.3 958.7,352.7 960.7,352.7 962.7,352.3 964.7,353.2 966.8,352.7 968.8,352.3 970.8,353.3 972.8,352.5 974.9,352.6 976.9,352.3 978.9,352.4 980.9,353.0 983.0,352.9 985.0,352.8" fill="none" stroke="#129a4a" stroke-width="4.6" stroke-linejoin="round" stroke-linecap="butt"/>
<polyline points="582.0,459.8 584.0,459.5 586.0,459.6 588.1,460.2 590.1,459.6 592.1,460.3 594.1,460.1 596.2,459.4 598.2,460.1 600.2,459.3 602.2,459.9 604.3,460.0 606.3,459.9 608.3,459.8 610.4,460.0 612.4,459.3 614.4,459.7 616.4,459.4 618.5,459.6 620.5,459.3 622.5,459.9 624.5,459.7 626.5,459.9 628.6,459.8 630.6,459.7 632.6,460.0 634.6,459.9 636.7,459.7 638.7,459.4 640.7,460.0 642.8,459.4 644.8,459.2 646.8,459.4 648.8,459.8 650.9,460.0 652.9,459.7 654.9,459.7 656.9,460.0 659.0,459.8 661.0,459.5 663.0,459.5 663.7,457.8 664.3,455.5 665.0,453.4 665.7,452.0 666.3,450.2 667.0,447.7 667.7,446.0 668.3,444.1 669.0,441.1 669.7,439.0 670.3,437.2 671.0,434.8 671.6,433.2 672.2,431.1 672.8,428.3 673.4,426.5 674.0,424.1 675.0,421.7 676.0,420.6 677.0,417.9 679.0,417.6 681.0,417.8 683.0,417.3 685.0,417.8 687.0,417.7 689.0,418.2 691.1,417.7 693.1,418.1 695.1,418.0 697.1,417.8 699.1,417.5 701.1,417.5 703.1,417.7 705.1,417.6 707.1,417.9 709.1,417.7 711.2,417.5 713.2,417.8 715.2,418.2 717.2,417.4 719.2,417.5 721.2,417.2 723.2,417.2 725.2,417.2 727.2,417.6 729.3,418.0 731.3,417.8 733.3,418.1 735.3,417.9 737.3,417.7 739.3,417.7 741.3,417.1 743.3,417.5 745.3,417.3 747.3,417.7 749.4,417.1 751.4,417.6 753.4,417.4 755.4,417.5 757.4,417.4 759.4,417.1 761.4,417.8 763.4,417.8 765.4,417.6 767.5,417.1 769.5,417.6 771.5,417.9 773.5,418.0 775.5,417.7 777.5,417.0 779.5,417.8 781.5,417.6 783.5,417.2 785.5,417.9 787.6,417.8 789.6,417.8 791.6,417.2 793.6,417.5 795.6,417.3 795.6,415.1 795.7,413.4 795.7,411.2 795.8,408.8 795.8,406.9 795.9,405.2 795.9,402.7 796.0,400.9 796.0,398.5 798.5,398.9 801.0,397.9 801.1,396.3 801.3,394.3 801.4,392.5 801.6,390.6 801.7,388.2 801.9,386.0 802.0,384.1 805.0,383.8 807.0,384.0 809.1,384.2 811.1,383.3 813.2,383.6 815.2,384.2 817.3,383.4 819.3,384.1 821.4,383.3 823.4,383.9 825.5,384.1 827.5,383.5 829.5,383.7 831.6,383.5 833.6,384.0 835.7,383.8 837.7,383.9 839.8,383.6 841.8,383.9 843.9,384.3 845.9,384.1 847.9,384.3 850.0,383.5 852.0,383.8 854.1,383.7 856.1,383.6 858.2,384.1 860.2,383.5 862.3,383.9 864.3,384.1 866.3,384.2 868.4,383.3 870.4,383.6 872.5,383.8 874.5,384.2 876.6,383.5 878.6,384.1 880.7,383.7 882.7,383.8 884.8,384.2 886.8,383.4 887.8,381.9 888.9,379.9 889.9,378.2 891.0,376.6 892.0,375.2 893.0,373.1 894.0,370.6 895.0,369.3 896.0,367.0 897.0,364.6 898.0,363.3 899.0,361.3 900.0,358.7 901.0,357.4 902.9,355.3 904.8,352.7 908.0,352.3 910.0,353.2 912.1,353.1 914.1,352.4 916.1,353.1 918.1,353.1 920.2,352.9 922.2,353.1 924.2,353.3 926.2,352.6 928.3,353.1 930.3,353.2 932.3,352.6 934.3,353.0 936.4,353.0 938.4,353.1 940.4,352.9 942.4,352.6 944.5,352.6 946.5,352.8 948.5,352.4 950.6,353.2 952.6,353.2 954.6,352.5 956.6,353.0 958.7,353.0 960.7,352.4 962.7,353.1 964.7,353.1 966.8,352.6 968.8,352.4 970.8,352.6 972.8,353.1 974.9,352.8 976.9,353.1 978.9,352.5 980.9,352.4 983.0,352.6 985.0,352.8" fill="none" stroke="#f8a51c" stroke-width="4.3" stroke-linejoin="round" stroke-linecap="butt"/>
<polyline points="582.0,530.6 584.0,529.9 586.1,529.8 588.1,530.5 590.2,529.8 592.2,530.4 594.3,529.8 596.4,529.9 598.4,530.4 600.5,530.6 602.5,530.1 604.5,530.1 606.6,529.7 608.6,530.0 610.7,529.9 612.8,530.5 614.8,530.4 616.9,530.5 618.9,530.2 620.9,530.4 623.0,529.8 625.0,530.1 627.1,530.0 629.1,530.0 631.2,530.4 633.2,529.9 635.3,530.0 637.3,530.0 639.4,530.6 641.4,530.3 643.5,530.2 645.5,530.1 647.6,530.6 649.6,530.6 651.7,530.1 653.8,530.3 655.8,530.6 656.5,527.9 657.2,525.9 657.9,523.7 658.6,522.1 659.3,520.3 660.0,517.7 660.8,515.9 661.6,514.5 662.4,512.0 663.2,509.9 664.0,508.3 664.7,506.4 665.3,503.9 666.0,501.6 666.7,500.1 667.3,498.2 668.0,496.4 669.3,494.0 670.7,491.5 672.0,489.5 674.0,489.0 676.0,488.9 678.0,488.6 680.0,488.8 682.0,488.8 684.1,488.9 686.1,488.4 688.2,488.9 690.2,488.1 692.3,488.9 694.3,488.7 696.4,488.9 698.4,488.5 700.4,489.0 702.5,488.1 704.5,488.9 706.6,488.9 708.6,488.5 710.7,489.0 712.7,488.4 714.8,488.9 716.8,488.7 718.9,488.6 720.9,488.4 722.9,489.0 725.0,489.0 727.0,488.4 729.1,489.3 731.1,488.5 733.2,488.7 735.2,488.7 737.3,488.9 739.3,489.2 741.3,489.3 743.4,489.0 745.4,488.8 747.5,488.5 749.5,488.5 751.6,489.0 753.6,489.1 755.7,488.9 757.7,489.5 757.7,486.8 757.8,484.7 757.8,482.7 757.9,480.4 757.9,479.1 757.9,476.6 758.0,474.5 758.0,472.3 760.1,472.2 762.2,472.2 764.2,472.4 766.3,472.3 768.4,472.9 770.5,472.5 770.6,470.0 770.6,467.8 770.7,465.8 770.7,463.8 770.8,462.2 770.8,460.2 770.9,457.4 770.9,455.9 771.0,453.4 773.0,453.5 775.0,453.5 777.1,453.0 779.1,453.1 781.1,453.7 783.1,453.7 785.1,453.4 787.1,453.9 789.2,453.8 791.2,453.3 793.2,453.1 795.2,453.6 797.2,453.7 799.3,453.2 801.3,453.0 803.3,453.5 805.3,453.0 807.3,453.7 809.4,453.6 811.4,453.3 813.4,453.4 815.4,453.2 817.4,453.2 819.4,453.2 821.5,453.8 823.5,453.5 825.5,453.7 827.5,453.3 829.5,453.8 831.6,453.6 833.6,453.7 835.6,453.4 837.6,453.6 839.6,453.2 841.6,454.0 843.7,453.7 845.7,453.5 847.7,453.6 849.7,453.1 851.7,453.3 853.8,453.2 855.8,453.8 857.8,453.0 859.8,453.4 861.8,453.9 863.9,453.8 865.9,453.7 867.9,453.3 869.9,453.2 871.9,453.7 873.9,453.3 876.0,453.7 878.0,453.3 880.0,453.8 881.4,451.9 882.8,450.4 884.2,448.9 885.6,446.6 887.0,445.5 888.0,442.5 889.0,441.4 890.0,438.5 891.0,437.0 892.0,434.9 893.0,433.3 894.0,431.0 895.0,429.1 896.0,427.9 897.0,425.9 898.0,424.3 899.8,422.7 901.5,421.0 903.2,420.5 905.0,418.7 907.0,418.8 909.0,418.3 911.0,418.4 913.0,418.7 915.0,418.8 917.0,418.6 919.0,418.4 921.0,418.7 923.0,418.7 925.0,418.2 927.0,418.5 929.0,418.6 931.0,418.7 933.0,418.2 935.0,418.3 937.0,418.3 939.0,418.1 941.0,418.3 943.0,418.7 945.0,418.6 947.0,418.2 949.0,418.7 951.0,418.1 953.0,418.8 955.0,418.1 957.0,418.1 959.0,418.3 961.0,418.5 963.0,418.3 965.0,418.9 967.0,418.9 969.0,418.3 971.0,418.7 973.0,418.7 975.0,418.6 977.0,418.3 979.0,418.9 981.0,419.0 983.0,418.0 985.0,418.5" fill="none" stroke="#129a4a" stroke-width="4.6" stroke-linejoin="round" stroke-linecap="butt"/>
<polyline points="582.0,530.2 584.0,530.2 586.1,530.1 588.1,530.3 590.1,530.8 592.1,529.9 594.2,530.7 596.2,530.2 598.2,529.9 600.3,530.8 602.3,530.2 604.3,530.1 606.4,530.0 608.4,530.3 610.4,530.0 612.5,530.1 614.5,530.2 616.5,530.5 618.5,530.3 620.6,530.2 622.6,530.4 624.6,530.7 626.7,530.6 628.7,530.2 630.7,530.8 632.8,530.7 634.8,530.5 636.8,530.4 638.8,530.2 640.9,530.0 642.9,530.8 644.9,530.5 647.0,530.0 649.0,530.8 651.0,530.8 653.1,529.9 655.1,530.6 657.1,530.1 659.1,530.4 661.2,530.7 663.2,530.3 664.4,528.3 665.6,526.4 666.8,523.8 668.0,522.1 668.8,519.9 669.6,518.5 670.4,515.7 671.2,514.2 672.0,511.5 672.2,509.8 672.3,507.6 672.5,505.6 672.7,504.0 672.8,501.7 673.0,500.3 674.0,497.3 675.0,495.5 676.0,493.4 678.0,491.0 680.0,489.5 682.5,489.9 685.0,489.4 687.0,489.8 689.1,489.3 691.1,489.3 693.1,489.9 695.2,489.3 697.2,489.9 699.2,489.9 701.3,489.2 703.3,489.5 705.3,490.0 707.4,489.1 709.4,489.9 711.4,489.8 713.5,489.8 715.5,489.7 717.5,489.2 719.6,490.0 721.6,489.2 723.6,489.9 725.7,489.8 727.7,489.4 729.7,489.8 731.8,489.6 733.8,489.9 735.8,489.2 737.9,490.1 739.9,489.6 741.9,490.0 743.9,489.7 746.0,490.0 748.0,489.5 750.0,489.8 752.1,489.3 754.1,489.8 756.1,489.4 758.2,490.2 760.2,490.0 762.2,489.7 764.3,490.3 766.3,490.3 768.3,490.3 770.4,489.4 772.4,490.1 774.4,490.1 776.5,490.0 778.5,489.4 780.5,490.3 782.6,489.9 784.6,490.0 786.6,490.3 788.7,489.7 790.7,489.5 792.7,490.4 794.8,489.8 796.8,489.5 796.9,487.5 797.0,486.3 797.1,483.9 797.2,481.3 800.5,481.2 800.6,479.8 800.7,477.4 800.8,475.1 800.9,472.5 801.1,470.6 801.2,469.0 801.3,465.9 801.4,464.1 801.5,461.6 802.0,460.3 802.5,457.3 803.0,456.0 805.2,455.5 807.2,455.4 809.3,454.7 811.3,455.4 813.3,455.2 815.4,455.2 817.4,454.8 819.4,455.2 821.4,455.5 823.5,454.8 825.5,455.6 827.5,455.1 829.6,455.0 831.6,454.9 833.6,455.2 835.7,455.3 837.7,455.3 839.7,455.6 841.8,455.2 843.8,455.2 845.8,455.7 847.8,454.9 849.9,454.7 851.9,455.0 853.9,455.0 856.0,454.8 858.0,455.1 860.0,454.7 862.1,455.6 864.1,455.2 866.1,455.6 868.2,455.4 870.2,455.4 872.2,455.5 874.2,455.0 876.3,455.4 878.3,454.9 880.3,455.3 882.4,455.3 884.4,455.5 886.3,453.1 888.1,451.6 890.0,450.3 891.0,448.3 892.0,446.5 893.0,443.6 894.0,441.7 895.0,439.6 896.0,438.2 897.0,436.2 898.0,434.1 899.0,432.3 900.0,430.0 901.0,428.3 902.0,426.8 903.0,424.7 904.0,423.0 905.0,421.1 907.5,419.7 910.0,418.8 912.0,418.6 914.1,418.1 916.1,418.4 918.1,418.4 920.1,418.4 922.2,418.6 924.2,418.4 926.2,418.4 928.2,418.4 930.3,418.4 932.3,419.0 934.3,418.1 936.4,418.0 938.4,418.7 940.4,418.4 942.4,418.4 944.5,418.6 946.5,418.4 948.5,418.2 950.5,418.0 952.6,418.9 954.6,418.9 956.6,418.3 958.6,418.5 960.7,418.3 962.7,418.1 964.7,418.9 966.8,418.8 968.8,418.2 970.8,418.3 972.8,418.7 974.9,418.8 976.9,418.5 978.9,418.4 980.9,418.2 983.0,418.8 985.0,418.5" fill="none" stroke="#f8a51c" stroke-width="4.3" stroke-linejoin="round" stroke-linecap="butt"/>
<line x1="829.0" y1="461.0" x2="829.0" y2="483.0" stroke="#231f20" stroke-width="1.8" />
<polygon points="829.0,455.0 825.0,465.0 829.0,462.5 833.0,465.0" fill="#231f20"/>
<polygon points="829.0,489.0 825.0,479.0 829.0,481.5 833.0,479.0" fill="#231f20"/>
<line x1="810.0" y1="489.6" x2="848.0" y2="489.6" stroke="#231f20" stroke-width="1.8" />
<line x1="939.0" y1="425.2" x2="939.0" y2="448.0" stroke="#231f20" stroke-width="1.8" />
<polygon points="939.0,419.2 935.0,429.2 939.0,426.7 943.0,429.2" fill="#231f20"/>
<polygon points="939.0,454.0 935.0,444.0 939.0,446.5 943.0,444.0" fill="#231f20"/>
<line x1="920.0" y1="454.4" x2="958.0" y2="454.4" stroke="#231f20" stroke-width="1.8" />
<rect x="123" y="652" width="320" height="283.5" fill="#d3d3d3"/>
<path d="M123,762.5 C220,762.8 290,766 327,772.6 L390,787.2 L392,800.4 L423.5,935.5 L123,935.5 Z" fill="#82b2d2"/>
<path d="M123,900.6 L200,901.3 L257,902.3 L323,904.3 L330,905.8 L384,929 L420,934.6 L420,935.5 L123,935.5 Z" fill="#ba8879"/>
<line x1="123" y1="654" x2="123" y2="963.8" stroke="#000" stroke-width="2" stroke-dasharray="8.2 8.5"/>
<line x1="77.4" y1="935.5" x2="495" y2="935.5" stroke="#000" stroke-width="2" stroke-dasharray="8.4 8.4"/>
<rect x="76.8" y="652.0" width="418.7" height="311.8" fill="none" stroke="#000" stroke-width="2"/>
<line x1="122.8" y1="963.8" x2="122.8" y2="950.8" stroke="#000" stroke-width="2.0" />
<line x1="189.6" y1="963.8" x2="189.6" y2="956.8" stroke="#000" stroke-width="2.0" />
<line x1="256.4" y1="963.8" x2="256.4" y2="950.8" stroke="#000" stroke-width="2.0" />
<line x1="323.2" y1="963.8" x2="323.2" y2="956.8" stroke="#000" stroke-width="2.0" />
<line x1="390.0" y1="963.8" x2="390.0" y2="950.8" stroke="#000" stroke-width="2.0" />
<line x1="456.8" y1="963.8" x2="456.8" y2="956.8" stroke="#000" stroke-width="2.0" />
<line x1="76.8" y1="935.5" x2="89.8" y2="935.5" stroke="#000" stroke-width="2.0" />
<line x1="76.8" y1="875.4" x2="89.8" y2="875.4" stroke="#000" stroke-width="2.0" />
<line x1="76.8" y1="815.3" x2="89.8" y2="815.3" stroke="#000" stroke-width="2.0" />
<line x1="76.8" y1="755.1" x2="89.8" y2="755.1" stroke="#000" stroke-width="2.0" />
<line x1="76.8" y1="695.0" x2="89.8" y2="695.0" stroke="#000" stroke-width="2.0" />
<line x1="162.9" y1="692.4" x2="162.9" y2="721.0" stroke="#000" stroke-width="2.0" />
<line x1="154.9" y1="692.4" x2="170.9" y2="692.4" stroke="#000" stroke-width="2.0" />
<line x1="154.9" y1="721.0" x2="170.9" y2="721.0" stroke="#000" stroke-width="2.0" />
<rect x="159.1" y="702.5" width="7.6" height="7.6" fill="#d3d3d3" stroke="#000" stroke-width="2"/>
<line x1="189.6" y1="695.1" x2="189.6" y2="732.3" stroke="#000" stroke-width="2.0" />
<line x1="181.6" y1="695.1" x2="197.6" y2="695.1" stroke="#000" stroke-width="2.0" />
<line x1="181.6" y1="732.3" x2="197.6" y2="732.3" stroke="#000" stroke-width="2.0" />
<rect x="185.8" y="710.2" width="7.6" height="7.6" fill="#d3d3d3" stroke="#000" stroke-width="2"/>
<line x1="256.4" y1="705.0" x2="256.4" y2="727.7" stroke="#000" stroke-width="2.0" />
<line x1="248.4" y1="705.0" x2="264.4" y2="705.0" stroke="#000" stroke-width="2.0" />
<line x1="248.4" y1="727.7" x2="264.4" y2="727.7" stroke="#000" stroke-width="2.0" />
<rect x="252.6" y="712.8" width="7.6" height="7.6" fill="#d3d3d3" stroke="#000" stroke-width="2"/>
<line x1="323.2" y1="727.3" x2="323.2" y2="751.2" stroke="#000" stroke-width="2.0" />
<line x1="315.2" y1="727.3" x2="331.2" y2="727.3" stroke="#000" stroke-width="2.0" />
<line x1="315.2" y1="751.2" x2="331.2" y2="751.2" stroke="#000" stroke-width="2.0" />
<rect x="319.4" y="735.4" width="7.6" height="7.6" fill="#d3d3d3" stroke="#000" stroke-width="2"/>
<line x1="390.0" y1="771.4" x2="390.0" y2="800.0" stroke="#000" stroke-width="2.0" />
<line x1="382.0" y1="771.4" x2="398.0" y2="771.4" stroke="#000" stroke-width="2.0" />
<line x1="382.0" y1="800.0" x2="398.0" y2="800.0" stroke="#000" stroke-width="2.0" />
<rect x="386.2" y="781.6" width="7.6" height="7.6" fill="#d3d3d3" stroke="#000" stroke-width="2"/>
<line x1="162.9" y1="745.1" x2="162.9" y2="781.7" stroke="#1b8bd0" stroke-width="2.0" />
<line x1="154.9" y1="745.1" x2="170.9" y2="745.1" stroke="#1b8bd0" stroke-width="2.0" />
<line x1="154.9" y1="781.7" x2="170.9" y2="781.7" stroke="#1b8bd0" stroke-width="2.0" />
<circle cx="162.9" cy="763.4" r="3.9" fill="none" stroke="#1b8bd0" stroke-width="2"/>
<line x1="256.4" y1="754.6" x2="256.4" y2="776.4" stroke="#1b8bd0" stroke-width="2.0" />
<line x1="248.4" y1="754.6" x2="264.4" y2="754.6" stroke="#1b8bd0" stroke-width="2.0" />
<line x1="248.4" y1="776.4" x2="264.4" y2="776.4" stroke="#1b8bd0" stroke-width="2.0" />
<circle cx="256.4" cy="765.5" r="3.9" fill="none" stroke="#1b8bd0" stroke-width="2"/>
<line x1="323.2" y1="762.8" x2="323.2" y2="779.6" stroke="#1b8bd0" stroke-width="2.0" />
<line x1="315.2" y1="762.8" x2="331.2" y2="762.8" stroke="#1b8bd0" stroke-width="2.0" />
<line x1="315.2" y1="779.6" x2="331.2" y2="779.6" stroke="#1b8bd0" stroke-width="2.0" />
<circle cx="323.2" cy="771.4" r="3.9" fill="none" stroke="#1b8bd0" stroke-width="2"/>
<line x1="390.0" y1="777.8" x2="390.0" y2="799.2" stroke="#1b8bd0" stroke-width="2.0" />
<line x1="382.0" y1="777.8" x2="398.0" y2="777.8" stroke="#1b8bd0" stroke-width="2.0" />
<line x1="382.0" y1="799.2" x2="398.0" y2="799.2" stroke="#1b8bd0" stroke-width="2.0" />
<circle cx="390.0" cy="788.2" r="3.9" fill="none" stroke="#1b8bd0" stroke-width="2"/>
<line x1="423.4" y1="933.0" x2="423.4" y2="939.0" stroke="#1b8bd0" stroke-width="2.0" />
<line x1="415.4" y1="933.0" x2="431.4" y2="933.0" stroke="#1b8bd0" stroke-width="2.0" />
<line x1="415.4" y1="939.0" x2="431.4" y2="939.0" stroke="#1b8bd0" stroke-width="2.0" />
<circle cx="423.4" cy="936.0" r="3.9" fill="none" stroke="#1b8bd0" stroke-width="2"/>
<line x1="162.9" y1="895.2" x2="162.9" y2="906.5" stroke="#ec1c24" stroke-width="2.0" />
<line x1="154.9" y1="895.2" x2="170.9" y2="895.2" stroke="#ec1c24" stroke-width="2.0" />
<line x1="154.9" y1="906.5" x2="170.9" y2="906.5" stroke="#ec1c24" stroke-width="2.0" />
<polygon points="162.9,894.8 157.1,904.1 168.7,904.1" fill="none" stroke="#ec1c24" stroke-width="1.9"/>
<line x1="256.4" y1="892.4" x2="256.4" y2="911.8" stroke="#ec1c24" stroke-width="2.0" />
<line x1="248.4" y1="892.4" x2="264.4" y2="892.4" stroke="#ec1c24" stroke-width="2.0" />
<line x1="248.4" y1="911.8" x2="264.4" y2="911.8" stroke="#ec1c24" stroke-width="2.0" />
<polygon points="256.4,895.8 250.6,905.1 262.2,905.1" fill="none" stroke="#ec1c24" stroke-width="1.9"/>
<line x1="323.2" y1="900.4" x2="323.2" y2="908.8" stroke="#ec1c24" stroke-width="2.0" />
<line x1="315.2" y1="900.4" x2="331.2" y2="900.4" stroke="#ec1c24" stroke-width="2.0" />
<line x1="315.2" y1="908.8" x2="331.2" y2="908.8" stroke="#ec1c24" stroke-width="2.0" />
<polygon points="323.2,897.8 317.4,907.1 329.0,907.1" fill="none" stroke="#ec1c24" stroke-width="1.9"/>
<line x1="390.0" y1="927.0" x2="390.0" y2="933.6" stroke="#ec1c24" stroke-width="2.0" />
<line x1="382.0" y1="927.0" x2="398.0" y2="927.0" stroke="#ec1c24" stroke-width="2.0" />
<line x1="382.0" y1="933.6" x2="398.0" y2="933.6" stroke="#ec1c24" stroke-width="2.0" />
<polygon points="390.0,923.8 384.2,933.1 395.8,933.1" fill="none" stroke="#ec1c24" stroke-width="1.9"/>
<line x1="423.4" y1="932.0" x2="423.4" y2="938.0" stroke="#ec1c24" stroke-width="2.0" />
<line x1="415.4" y1="932.0" x2="431.4" y2="932.0" stroke="#ec1c24" stroke-width="2.0" />
<line x1="415.4" y1="938.0" x2="431.4" y2="938.0" stroke="#ec1c24" stroke-width="2.0" />
<polygon points="423.4,928.3 417.6,937.6 429.2,937.6" fill="none" stroke="#ec1c24" stroke-width="1.9"/>
<line x1="443.4" y1="929.6" x2="443.4" y2="942.0" stroke="#ec1c24" stroke-width="2.0" />
<line x1="435.4" y1="929.6" x2="451.4" y2="929.6" stroke="#ec1c24" stroke-width="2.0" />
<line x1="435.4" y1="942.0" x2="451.4" y2="942.0" stroke="#ec1c24" stroke-width="2.0" />
<polygon points="443.4,928.8 437.6,938.1 449.2,938.1" fill="none" stroke="#ec1c24" stroke-width="1.9"/>
<line x1="456.8" y1="935.0" x2="456.8" y2="935.0" stroke="#ec1c24" stroke-width="2.0" />
<line x1="448.8" y1="935.0" x2="464.8" y2="935.0" stroke="#ec1c24" stroke-width="2.0" />
<line x1="448.8" y1="935.0" x2="464.8" y2="935.0" stroke="#ec1c24" stroke-width="2.0" />
<polygon points="456.8,928.8 451.0,938.1 462.6,938.1" fill="none" stroke="#ec1c24" stroke-width="1.9"/>
<line x1="391.5" y1="708.2" x2="342.9" y2="735.5" stroke="#231f20" stroke-width="1.8" />
<polygon points="336.0,739.4 343.5,730.3 342.9,735.5 347.6,737.7" fill="#231f20"/>
<line x1="391.5" y1="708.2" x2="343.1" y2="765.0" stroke="#231f20" stroke-width="1.8" />
<polygon points="338.0,771.0 341.9,759.9 343.1,765.0 348.3,765.4" fill="#231f20"/>
<line x1="293.2" y1="865.8" x2="272.6" y2="895.0" stroke="#231f20" stroke-width="1.8" />
<polygon points="268.0,901.5 270.9,890.1 272.6,895.0 277.8,894.9" fill="#231f20"/>
<line x1="578.2" y1="910" x2="991" y2="910" stroke="#000" stroke-width="2" stroke-dasharray="8.4 8.4"/>
<rect x="577.7" y="651.8" width="414.3" height="311.9" fill="none" stroke="#000" stroke-width="2"/>
<line x1="623.7" y1="963.7" x2="623.7" y2="950.7" stroke="#000" stroke-width="2.0" />
<line x1="690.6" y1="963.7" x2="690.6" y2="956.7" stroke="#000" stroke-width="2.0" />
<line x1="757.4" y1="963.7" x2="757.4" y2="950.7" stroke="#000" stroke-width="2.0" />
<line x1="824.2" y1="963.7" x2="824.2" y2="956.7" stroke="#000" stroke-width="2.0" />
<line x1="891.1" y1="963.7" x2="891.1" y2="950.7" stroke="#000" stroke-width="2.0" />
<line x1="958.0" y1="963.7" x2="958.0" y2="956.7" stroke="#000" stroke-width="2.0" />
<line x1="577.7" y1="910.0" x2="590.7" y2="910.0" stroke="#000" stroke-width="2.0" />
<line x1="577.7" y1="852.4" x2="590.7" y2="852.4" stroke="#000" stroke-width="2.0" />
<line x1="577.7" y1="794.8" x2="590.7" y2="794.8" stroke="#000" stroke-width="2.0" />
<line x1="577.7" y1="737.1" x2="590.7" y2="737.1" stroke="#000" stroke-width="2.0" />
<line x1="577.7" y1="679.5" x2="590.7" y2="679.5" stroke="#000" stroke-width="2.0" />
<polyline points="665.1,843.5 667.4,843.6 669.6,843.7 671.8,843.7 674.0,843.8 676.2,843.9 678.4,844.0 680.5,844.1 682.7,844.2 684.8,844.3 686.9,844.4 689.0,844.4 691.1,844.5 693.1,844.6 695.2,844.7 697.2,844.8 699.3,844.9 701.3,845.0 703.3,845.1 705.2,845.1 707.2,845.2 709.2,845.3 711.1,845.4 713.0,845.5 714.9,845.6 716.8,845.7 718.7,845.8 720.6,845.9 722.4,846.0 724.3,846.1 726.1,846.1 727.9,846.2 729.7,846.3 731.5,846.4 733.3,846.5 735.1,846.6 736.8,846.7 738.5,846.8 740.3,846.9 742.0,847.0 743.7,847.1 745.3,847.2 747.0,847.3 748.7,847.4 750.3,847.4 751.9,847.5 753.6,847.6 755.2,847.7 756.8,847.8 758.3,847.9 759.9,848.0 761.5,848.1 763.0,848.2 764.5,848.3 766.1,848.4 767.6,848.5 769.1,848.6 770.5,848.7 772.0,848.8 773.5,848.9 774.9,849.0 776.4,849.1 777.8,849.2 779.2,849.3 780.6,849.4 782.0,849.5 783.3,849.6 784.7,849.7 786.1,849.8 787.4,849.9 788.7,850.0 790.0,850.1 791.3,850.2 792.6,850.3 793.9,850.4 795.2,850.5 796.5,850.6 797.7,850.7 798.9,850.8 800.2,850.9 801.4,851.0 802.6,851.1 803.8,851.2 805.0,851.3 806.1,851.4 807.3,851.5 808.4,851.6 809.6,851.7 810.7,851.8 811.8,851.9 812.9,852.1 814.0,852.2 815.1,852.3 816.2,852.4 817.3,852.5 818.3,852.6 819.4,852.7 820.4,852.8 821.4,852.9 822.4,853.0 823.4,853.1 824.4,853.2 825.4,853.4 826.4,853.5 827.4,853.6 828.3,853.7 829.3,853.8 830.2,853.9 831.1,854.0 832.0,854.1 833.0,854.2 833.8,854.4 834.7,854.5 835.6,854.6 836.5,854.7 837.3,854.8 838.2,854.9 839.0,855.0 839.9,855.2 840.7,855.3 841.5,855.4 842.3,855.5 843.1,855.6 843.9,855.7 844.7,855.8 845.4,856.0 846.2,856.1 847.0,856.2 847.7,856.3 848.4,856.4 849.2,856.6 849.9,856.7 850.6,856.8 851.3,856.9 852.0,857.0 852.7,857.2 853.3,857.3 854.0,857.4 854.7,857.5 855.3,857.7 856.0,857.8 856.6,857.9 857.2,858.0 857.9,858.2 858.5,858.3 859.1,858.4 859.7,858.5 860.3,858.7 860.8,858.8 861.4,858.9 862.0,859.0 862.5,859.2 863.1,859.3 863.6,859.4 864.2,859.6 864.7,859.7 865.2,859.8 865.7,859.9 866.2,860.1 866.7,860.2 867.2,860.3 867.7,860.5 868.2,860.6 868.7,860.7 869.1,860.9 869.6,861.0 870.1,861.1 870.5,861.3 870.9,861.4 871.4,861.5 871.8,861.7 872.2,861.8 872.6,862.0 873.0,862.1 873.4,862.2 873.8,862.4 874.2,862.5 874.6,862.7 875.0,862.8 875.3,862.9 875.7,863.1 876.1,863.2 876.4,863.4 876.8,863.5 877.1,863.7 877.4,863.8 877.8,864.0 878.1,864.1 878.4,864.2 878.7,864.4 879.0,864.5 879.3,864.7 879.6,864.8 879.9,865.0 880.2,865.1 880.5,865.3 880.7,865.4 881.0,865.6 881.3,865.7 881.5,865.9 881.8,866.0 882.0,866.2 882.3,866.3 882.5,866.5 882.7,866.7 883.0,866.8 883.2,867.0 883.4,867.1 883.6,867.3 883.8,867.4 884.0,867.6 884.2,867.8 884.4,867.9 884.6,868.1 884.8,868.2 885.0,868.4 885.2,868.5 885.3,868.7 885.5,868.9 885.7,869.0 885.8,869.2 886.0,869.4 886.1,869.5 886.3,869.7 886.4,869.8 886.6,870.0 886.7,870.2 886.9,870.3 887.0,870.5 887.1,870.6 887.2,870.8 887.4,871.0 887.5,871.1 887.6,871.3 887.7,871.5 887.8,871.6 887.9,871.8 888.0,871.9 888.1,872.1 888.2,872.3 888.3,872.4 888.4,872.6 888.5,872.7 888.6,872.9 888.6,873.0 888.7,873.2 888.8,873.3 888.9,873.5 888.9,873.6 889.0,873.8 889.1,873.9 889.1,874.1 889.2,874.2 889.2,874.3 889.3,874.5 889.3,874.6 889.4,874.7 889.4,874.9 889.5,875.0 889.5,875.1 889.6,875.2 889.6,875.4 889.6,875.5 889.7,875.6 889.7,875.7 889.7,875.8 889.8,875.9 889.8,876.0 889.8,876.1 889.8,876.1 889.9,876.2 889.9,876.3 889.9,876.4 889.9,876.5 890.0,876.5 890.0,876.6 890.0,876.6 890.0,876.7 890.0,876.7 890.0,876.8 890.0,876.8 890.0,876.9 890.0,876.9 890.1,876.9 890.1,877.0 890.1,877.0 890.1,877.0 890.1,877.0 890.1,877.0 890.1,877.1 890.1,877.1 890.1,877.1 890.1,877.1 890.1,877.1 890.1,877.1 890.1,877.1 890.1,877.1 890.1,877.1 890.1,877.1 890.1,877.1 890.1,877.1" fill="none" stroke="#000" stroke-width="2.1"/>
<polyline points="663.8,706.0 666.6,706.7 669.4,707.3 672.1,708.0 674.9,708.7 677.6,709.4 680.3,710.0 683.0,710.7 685.7,711.4 688.3,712.1 691.0,712.7 693.6,713.4 696.2,714.1 698.8,714.8 701.3,715.4 703.9,716.1 706.4,716.8 708.9,717.4 711.4,718.1 713.8,718.8 716.3,719.5 718.7,720.1 721.2,720.8 723.6,721.5 725.9,722.2 728.3,722.8 730.7,723.5 733.0,724.2 735.3,724.9 737.6,725.5 739.9,726.2 742.2,726.9 744.4,727.6 746.6,728.2 748.9,728.9 751.1,729.6 753.2,730.2 755.4,730.9 757.6,731.6 759.7,732.3 761.8,732.9 763.9,733.6 766.0,734.3 768.1,735.0 770.1,735.6 772.2,736.3 774.2,737.0 776.2,737.7 778.2,738.3 780.1,739.0 782.1,739.7 784.0,740.4 786.0,741.0 787.9,741.7 789.8,742.4 791.7,743.1 793.5,743.7 795.4,744.4 797.2,745.1 799.0,745.8 800.8,746.4 802.6,747.1 804.4,747.8 806.1,748.5 807.9,749.1 809.6,749.8 811.3,750.5 813.0,751.2 814.7,751.8 816.4,752.5 818.1,753.2 819.7,753.9 821.3,754.5 822.9,755.2 824.5,755.9 826.1,756.6 827.7,757.2 829.3,757.9 830.8,758.6 832.3,759.3 833.9,759.9 835.4,760.6 836.8,761.3 838.3,762.0 839.8,762.6 841.2,763.3 842.7,764.0 844.1,764.7 845.5,765.3 846.9,766.0 848.3,766.7 849.6,767.4 851.0,768.0 852.3,768.7 853.7,769.4 855.0,770.1 856.3,770.7 857.6,771.4 858.9,772.1 860.1,772.8 861.4,773.4 862.6,774.1 863.9,774.8 865.1,775.5 866.3,776.1 867.5,776.8 868.7,777.5 869.8,778.2 871.0,778.9 872.1,779.5 873.3,780.2 874.4,780.9 875.5,781.6 876.6,782.2 877.7,782.9 878.7,783.6 879.8,784.3 880.9,784.9 881.9,785.6 882.9,786.3 883.9,787.0 884.9,787.6 885.9,788.3 886.9,789.0 887.9,789.7 888.8,790.4 889.8,791.0 890.7,791.7 891.7,792.4 892.6,793.1 893.5,793.7 894.4,794.4 895.3,795.1 896.1,795.8 897.0,796.4 897.9,797.1 898.7,797.8 899.5,798.5 900.4,799.2 901.2,799.8 902.0,800.5 902.8,801.2 903.6,801.9 904.3,802.5 905.1,803.2 905.9,803.9 906.6,804.6 907.3,805.3 908.1,805.9 908.8,806.6 909.5,807.3 910.2,808.0 910.9,808.6 911.5,809.3 912.2,810.0 912.9,810.7 913.5,811.4 914.2,812.0 914.8,812.7 915.4,813.4 916.0,814.1 916.7,814.7 917.3,815.4 917.8,816.1 918.4,816.8 919.0,817.5 919.6,818.1 920.1,818.8 920.7,819.5 921.2,820.2 921.7,820.9 922.3,821.5 922.8,822.2 923.3,822.9 923.8,823.6 924.3,824.3 924.8,824.9 925.2,825.6 925.7,826.3 926.2,827.0 926.6,827.6 927.1,828.3 927.5,829.0 927.9,829.7 928.3,830.4 928.8,831.0 929.2,831.7 929.6,832.4 930.0,833.1 930.4,833.8 930.7,834.4 931.1,835.1 931.5,835.8 931.8,836.5 932.2,837.2 932.5,837.8 932.9,838.5 933.2,839.2 933.5,839.9 933.9,840.6 934.2,841.2 934.5,841.9 934.8,842.6 935.1,843.3 935.4,844.0 935.7,844.7 935.9,845.3 936.2,846.0 936.5,846.7 936.7,847.4 937.0,848.1 937.2,848.7 937.5,849.4 937.7,850.1 938.0,850.8 938.2,851.5 938.4,852.1 938.6,852.8 938.8,853.5 939.1,854.2 939.3,854.9 939.5,855.6 939.6,856.2 939.8,856.9 940.0,857.6 940.2,858.3 940.4,859.0 940.5,859.7 940.7,860.3 940.9,861.0 941.0,861.7 941.2,862.4 941.3,863.1 941.5,863.8 941.6,864.4 941.7,865.1 941.9,865.8 942.0,866.5 942.1,867.2 942.2,867.9 942.3,868.5 942.4,869.2 942.6,869.9 942.7,870.6 942.8,871.3 942.8,872.0 942.9,872.6 943.0,873.3 943.1,874.0 943.2,874.7 943.3,875.4 943.4,876.1 943.4,876.8 943.5,877.4 943.6,878.1 943.6,878.8 943.7,879.5 943.8,880.2 943.8,880.9 943.9,881.6 943.9,882.2 944.0,882.9 944.0,883.6 944.1,884.3 944.1,885.0 944.1,885.7 944.2,886.4 944.2,887.1 944.2,887.7 944.3,888.4 944.3,889.1 944.3,889.8 944.4,890.5 944.4,891.2 944.4,891.9 944.4,892.6 944.4,893.3 944.5,894.0 944.5,894.6 944.5,895.3 944.5,896.0 944.5,896.7 944.5,897.4 944.5,898.1 944.5,898.8 944.5,899.5 944.6,900.2 944.6,900.9 944.6,901.6 944.6,902.3 944.6,903.0 944.6,903.7 944.6,904.4 944.6,905.1 944.6,905.8 944.6,906.5 944.6,907.2 944.6,907.9 944.6,908.6 944.6,909.3 944.6,910.0" fill="none" stroke="#ee5a24" stroke-width="2.1"/>
<polyline points="654.5,702.4 656.8,702.8 659.2,703.1 661.5,703.5 663.8,703.8 666.1,704.2 668.4,704.6 670.6,704.9 672.9,705.3 675.1,705.6 677.3,706.0 679.5,706.4 681.7,706.7 683.9,707.1 686.1,707.5 688.2,707.8 690.3,708.2 692.4,708.6 694.5,709.0 696.6,709.3 698.7,709.7 700.7,710.1 702.8,710.4 704.8,710.8 706.8,711.2 708.8,711.6 710.8,711.9 712.8,712.3 714.7,712.7 716.7,713.1 718.6,713.4 720.5,713.8 722.4,714.2 724.3,714.6 726.1,715.0 728.0,715.3 729.8,715.7 731.7,716.1 733.5,716.5 735.3,716.9 737.1,717.3 738.8,717.6 740.6,718.0 742.3,718.4 744.1,718.8 745.8,719.2 747.5,719.6 749.2,720.0 750.8,720.4 752.5,720.7 754.2,721.1 755.8,721.5 757.4,721.9 759.0,722.3 760.6,722.7 762.2,723.1 763.8,723.5 765.3,723.9 766.9,724.3 768.4,724.7 769.9,725.1 771.4,725.5 772.9,725.9 774.4,726.3 775.9,726.7 777.4,727.1 778.8,727.5 780.2,727.9 781.7,728.3 783.1,728.7 784.5,729.1 785.8,729.5 787.2,730.0 788.6,730.4 789.9,730.8 791.3,731.2 792.6,731.6 793.9,732.0 795.2,732.4 796.5,732.8 797.8,733.3 799.0,733.7 800.3,734.1 801.5,734.5 802.8,734.9 804.0,735.4 805.2,735.8 806.4,736.2 807.6,736.6 808.8,737.1 809.9,737.5 811.1,737.9 812.2,738.3 813.4,738.8 814.5,739.2 815.6,739.6 816.7,740.1 817.8,740.5 818.9,740.9 819.9,741.4 821.0,741.8 822.0,742.2 823.1,742.7 824.1,743.1 825.1,743.5 826.1,744.0 827.1,744.4 828.1,744.9 829.1,745.3 830.0,745.8 831.0,746.2 831.9,746.7 832.9,747.1 833.8,747.6 834.7,748.0 835.6,748.5 836.5,748.9 837.4,749.4 838.3,749.8 839.1,750.3 840.0,750.7 840.8,751.2 841.7,751.7 842.5,752.1 843.3,752.6 844.1,753.1 844.9,753.5 845.7,754.0 846.5,754.5 847.3,754.9 848.0,755.4 848.8,755.9 849.5,756.3 850.3,756.8 851.0,757.3 851.7,757.8 852.4,758.3 853.1,758.7 853.8,759.2 854.5,759.7 855.2,760.2 855.9,760.7 856.5,761.2 857.2,761.6 857.8,762.1 858.5,762.6 859.1,763.1 859.7,763.6 860.3,764.1 860.9,764.6 861.5,765.1 862.1,765.6 862.7,766.1 863.3,766.6 863.8,767.1 864.4,767.6 864.9,768.2 865.5,768.7 866.0,769.2 866.5,769.7 867.0,770.2 867.6,770.7 868.1,771.3 868.6,771.8 869.1,772.3 869.5,772.8 870.0,773.4 870.5,773.9 870.9,774.4 871.4,775.0 871.8,775.5 872.3,776.0 872.7,776.6 873.1,777.1 873.6,777.7 874.0,778.2 874.4,778.7 874.8,779.3 875.2,779.9 875.6,780.4 876.0,781.0 876.3,781.5 876.7,782.1 877.1,782.6 877.4,783.2 877.8,783.8 878.1,784.4 878.5,784.9 878.8,785.5 879.1,786.1 879.4,786.7 879.7,787.2 880.1,787.8 880.4,788.4 880.7,789.0 881.0,789.6 881.2,790.2 881.5,790.8 881.8,791.4 882.1,792.0 882.3,792.6 882.6,793.2 882.9,793.8 883.1,794.5 883.3,795.1 883.6,795.7 883.8,796.3 884.0,797.0 884.3,797.6 884.5,798.2 884.7,798.9 884.9,799.5 885.1,800.1 885.3,800.8 885.5,801.5 885.7,802.1 885.9,802.8 886.1,803.4 886.3,804.1 886.4,804.8 886.6,805.5 886.8,806.1 886.9,806.8 887.1,807.5 887.3,808.2 887.4,808.9 887.5,809.6 887.7,810.3 887.8,811.0 888.0,811.7 888.1,812.5 888.2,813.2 888.3,813.9 888.5,814.6 888.6,815.4 888.7,816.1 888.8,816.9 888.9,817.6 889.0,818.4 889.1,819.2 889.2,820.0 889.3,820.7 889.4,821.5 889.5,822.3 889.6,823.1 889.6,823.9 889.7,824.7 889.8,825.6 889.9,826.4 889.9,827.2 890.0,828.1 890.1,828.9 890.1,829.8 890.2,830.7 890.2,831.6 890.3,832.4 890.4,833.3 890.4,834.2 890.5,835.2 890.5,836.1 890.5,837.0 890.6,838.0 890.6,839.0 890.7,839.9 890.7,840.9 890.7,841.9 890.8,842.9 890.8,844.0 890.8,845.0 890.8,846.1 890.9,847.2 890.9,848.3 890.9,849.4 890.9,850.5 890.9,851.7 891.0,852.8 891.0,854.0 891.0,855.3 891.0,856.5 891.0,857.8 891.0,859.1 891.0,860.4 891.0,861.8 891.1,863.2 891.1,864.7 891.1,866.1 891.1,867.7 891.1,869.3 891.1,870.9 891.1,872.7 891.1,874.5 891.1,876.4 891.1,878.4 891.1,880.5 891.1,882.7 891.1,885.2 891.1,887.9 891.1,891.0 891.1,894.6 891.1,899.2 891.1,910.0" fill="none" stroke="#1585c6" stroke-width="2.1"/>
<line x1="663.8" y1="829.6" x2="663.8" y2="858.4" stroke="#000" stroke-width="2.0" />
<line x1="655.8" y1="829.6" x2="671.8" y2="829.6" stroke="#000" stroke-width="2.0" />
<line x1="655.8" y1="858.4" x2="671.8" y2="858.4" stroke="#000" stroke-width="2.0" />
<rect x="658.3" y="838.5" width="11.0" height="11.0" fill="#000"/>
<line x1="690.6" y1="843.6" x2="690.6" y2="854.4" stroke="#000" stroke-width="2.0" />
<line x1="682.6" y1="843.6" x2="698.6" y2="843.6" stroke="#000" stroke-width="2.0" />
<line x1="682.6" y1="854.4" x2="698.6" y2="854.4" stroke="#000" stroke-width="2.0" />
<rect x="685.1" y="843.5" width="11.0" height="11.0" fill="#000"/>
<line x1="757.4" y1="839.0" x2="757.4" y2="848.0" stroke="#000" stroke-width="2.0" />
<line x1="749.4" y1="839.0" x2="765.4" y2="839.0" stroke="#000" stroke-width="2.0" />
<line x1="749.4" y1="848.0" x2="765.4" y2="848.0" stroke="#000" stroke-width="2.0" />
<rect x="751.9" y="838.1" width="11.0" height="11.0" fill="#000"/>
<line x1="824.2" y1="851.0" x2="824.2" y2="859.6" stroke="#000" stroke-width="2.0" />
<line x1="816.2" y1="851.0" x2="832.2" y2="851.0" stroke="#000" stroke-width="2.0" />
<line x1="816.2" y1="859.6" x2="832.2" y2="859.6" stroke="#000" stroke-width="2.0" />
<rect x="818.8" y="849.5" width="11.0" height="11.0" fill="#000"/>
<line x1="891.1" y1="895.6" x2="891.1" y2="904.7" stroke="#000" stroke-width="2.0" />
<line x1="883.1" y1="895.6" x2="899.1" y2="895.6" stroke="#000" stroke-width="2.0" />
<line x1="883.1" y1="904.7" x2="899.1" y2="904.7" stroke="#000" stroke-width="2.0" />
<rect x="885.6" y="895.0" width="11.0" height="11.0" fill="#000"/>
<line x1="924.5" y1="905.5" x2="924.5" y2="915.0" stroke="#000" stroke-width="2.0" />
<line x1="916.5" y1="905.5" x2="932.5" y2="905.5" stroke="#000" stroke-width="2.0" />
<line x1="916.5" y1="915.0" x2="932.5" y2="915.0" stroke="#000" stroke-width="2.0" />
<rect x="919.0" y="905.0" width="11.0" height="11.0" fill="#000"/>
<line x1="663.8" y1="696.0" x2="663.8" y2="725.0" stroke="#1585c6" stroke-width="2.0" />
<line x1="655.8" y1="696.0" x2="671.8" y2="696.0" stroke="#1585c6" stroke-width="2.0" />
<line x1="655.8" y1="725.0" x2="671.8" y2="725.0" stroke="#1585c6" stroke-width="2.0" />
<circle cx="663.8" cy="710.0" r="6.0" fill="#1585c6"/>
<line x1="757.4" y1="690.0" x2="757.4" y2="752.4" stroke="#1585c6" stroke-width="2.0" />
<line x1="749.4" y1="690.0" x2="765.4" y2="690.0" stroke="#1585c6" stroke-width="2.0" />
<line x1="749.4" y1="752.4" x2="765.4" y2="752.4" stroke="#1585c6" stroke-width="2.0" />
<circle cx="757.4" cy="721.0" r="6.0" fill="#1585c6"/>
<line x1="824.2" y1="735.0" x2="824.2" y2="764.6" stroke="#1585c6" stroke-width="2.0" />
<line x1="816.2" y1="735.0" x2="832.2" y2="735.0" stroke="#1585c6" stroke-width="2.0" />
<line x1="816.2" y1="764.6" x2="832.2" y2="764.6" stroke="#1585c6" stroke-width="2.0" />
<circle cx="824.2" cy="750.2" r="6.0" fill="#1585c6"/>
<line x1="891.1" y1="872.5" x2="891.1" y2="893.5" stroke="#1585c6" stroke-width="2.0" />
<line x1="883.1" y1="872.5" x2="899.1" y2="872.5" stroke="#1585c6" stroke-width="2.0" />
<line x1="883.1" y1="893.5" x2="899.1" y2="893.5" stroke="#1585c6" stroke-width="2.0" />
<circle cx="891.1" cy="883.0" r="6.0" fill="#1585c6"/>
<line x1="924.5" y1="905.0" x2="924.5" y2="911.0" stroke="#1585c6" stroke-width="2.0" />
<line x1="916.5" y1="905.0" x2="932.5" y2="905.0" stroke="#1585c6" stroke-width="2.0" />
<line x1="916.5" y1="911.0" x2="932.5" y2="911.0" stroke="#1585c6" stroke-width="2.0" />
<circle cx="924.5" cy="909.7" r="6.0" fill="#1585c6"/>
<line x1="944.6" y1="910.5" x2="944.6" y2="910.5" stroke="#1585c6" stroke-width="2.0" />
<line x1="936.6" y1="910.5" x2="952.6" y2="910.5" stroke="#1585c6" stroke-width="2.0" />
<line x1="936.6" y1="910.5" x2="952.6" y2="910.5" stroke="#1585c6" stroke-width="2.0" />
<circle cx="944.6" cy="910.5" r="6.0" fill="#1585c6"/>
<line x1="958.0" y1="906.9" x2="958.0" y2="913.0" stroke="#1585c6" stroke-width="2.0" />
<line x1="950.0" y1="906.9" x2="966.0" y2="906.9" stroke="#1585c6" stroke-width="2.0" />
<line x1="950.0" y1="913.0" x2="966.0" y2="913.0" stroke="#1585c6" stroke-width="2.0" />
<circle cx="958.0" cy="910.5" r="6.0" fill="#1585c6"/>
<line x1="663.8" y1="719.0" x2="663.8" y2="728.0" stroke="#ee5a24" stroke-width="2.0" />
<line x1="655.8" y1="719.0" x2="671.8" y2="719.0" stroke="#ee5a24" stroke-width="2.0" />
<line x1="655.8" y1="728.0" x2="671.8" y2="728.0" stroke="#ee5a24" stroke-width="2.0" />
<polygon points="663.8,717.0 657.0,727.0 670.6,727.0" fill="#ee5a24"/>
<line x1="757.4" y1="719.0" x2="757.4" y2="739.0" stroke="#ee5a24" stroke-width="2.0" />
<line x1="749.4" y1="719.0" x2="765.4" y2="719.0" stroke="#ee5a24" stroke-width="2.0" />
<line x1="749.4" y1="739.0" x2="765.4" y2="739.0" stroke="#ee5a24" stroke-width="2.0" />
<polygon points="757.4,722.5 750.6,732.5 764.2,732.5" fill="#ee5a24"/>
<line x1="824.2" y1="747.4" x2="824.2" y2="768.8" stroke="#ee5a24" stroke-width="2.0" />
<line x1="816.2" y1="747.4" x2="832.2" y2="747.4" stroke="#ee5a24" stroke-width="2.0" />
<line x1="816.2" y1="768.8" x2="832.2" y2="768.8" stroke="#ee5a24" stroke-width="2.0" />
<polygon points="824.2,751.6 817.5,761.6 831.0,761.6" fill="#ee5a24"/>
<line x1="891.1" y1="770.0" x2="891.1" y2="783.0" stroke="#ee5a24" stroke-width="2.0" />
<line x1="883.1" y1="770.0" x2="899.1" y2="770.0" stroke="#ee5a24" stroke-width="2.0" />
<line x1="883.1" y1="783.0" x2="899.1" y2="783.0" stroke="#ee5a24" stroke-width="2.0" />
<polygon points="891.1,770.0 884.3,780.0 897.9,780.0" fill="#ee5a24"/>
<line x1="924.5" y1="847.7" x2="924.5" y2="862.7" stroke="#ee5a24" stroke-width="2.0" />
<line x1="916.5" y1="847.7" x2="932.5" y2="847.7" stroke="#ee5a24" stroke-width="2.0" />
<line x1="916.5" y1="862.7" x2="932.5" y2="862.7" stroke="#ee5a24" stroke-width="2.0" />
<polygon points="924.5,848.7 917.7,858.7 931.3,858.7" fill="#ee5a24"/>
<line x1="944.6" y1="897.7" x2="944.6" y2="905.4" stroke="#ee5a24" stroke-width="2.0" />
<line x1="936.6" y1="897.7" x2="952.6" y2="897.7" stroke="#ee5a24" stroke-width="2.0" />
<line x1="936.6" y1="905.4" x2="952.6" y2="905.4" stroke="#ee5a24" stroke-width="2.0" />
<polygon points="944.6,895.0 937.8,905.0 951.4,905.0" fill="#ee5a24"/>
<line x1="958.0" y1="909.6" x2="958.0" y2="909.6" stroke="#ee5a24" stroke-width="2.0" />
<line x1="950.0" y1="909.6" x2="966.0" y2="909.6" stroke="#ee5a24" stroke-width="2.0" />
<line x1="950.0" y1="909.6" x2="966.0" y2="909.6" stroke="#ee5a24" stroke-width="2.0" />
<polygon points="958.0,903.1 951.2,913.1 964.8,913.1" fill="#ee5a24"/>
<line x1="891.1" y1="883.0" x2="891.1" y2="910.0" stroke="#1585c6" stroke-width="2.1" />
<line x1="669.0" y1="789.0" x2="652.3" y2="752.8" stroke="#231f20" stroke-width="1.8" />
<polygon points="649.0,745.6 657.4,753.8 652.3,752.8 649.8,757.3" fill="#231f20"/>
<line x1="667.0" y1="808.0" x2="650.7" y2="833.0" stroke="#231f20" stroke-width="1.8" />
<polygon points="646.4,839.6 648.9,828.1 650.7,833.0 655.9,832.7" fill="#231f20"/>
<line x1="935.0" y1="753.0" x2="917.4" y2="796.7" stroke="#231f20" stroke-width="1.8" />
<polygon points="914.4,804.0 914.6,792.2 917.4,796.7 922.4,795.4" fill="#231f20"/>
<text transform="translate(7.25,26.41) scale(1.000,1.030)" font-family="Liberation Sans" font-size="29.00" font-weight="bold">a</text>
<text transform="translate(522.09,23.41) scale(1.000,1.030)" font-family="Liberation Sans" font-size="29.00" font-weight="bold">b</text>
<text transform="translate(7.07,660.31) scale(1.000,1.030)" font-family="Liberation Sans" font-size="29.00" font-weight="bold">c</text>
<text transform="translate(522.31,659.91) scale(1.000,1.030)" font-family="Liberation Sans" font-size="29.00" font-weight="bold">d</text>
<text transform="translate(247.12,20.00) scale(1.000,1.030)" font-family="Liberation Sans" font-size="27.50">2L CrI</text>
<text transform="translate(321.37,29.33) scale(1.000,1.030)" font-family="Liberation Sans" font-size="16.50">3</text>
<text transform="translate(688.62,20.00) scale(1.000,1.030)" font-family="Liberation Sans" font-size="27.50">2L CrI</text>
<text transform="translate(762.67,29.13) scale(1.000,1.030)" font-family="Liberation Sans" font-size="16.50">3</text>
<text transform="translate(772.40,20.00) scale(1.000,1.030)" font-family="Liberation Sans" font-size="27.20">/FL CrCl</text>
<text transform="translate(873.15,29.13) scale(1.000,1.030)" font-family="Liberation Sans" font-size="16.50">3</text>
<text transform="translate(65.59,589.14) scale(1.000,1.030)" font-family="Liberation Sans" font-size="27.20">-1.0</text>
<text transform="translate(560.89,589.14) scale(1.000,1.030)" font-family="Liberation Sans" font-size="27.20">-1.0</text>
<text transform="translate(165.78,589.14) scale(1.000,1.030)" font-family="Liberation Sans" font-size="27.20">-0.5</text>
<text transform="translate(661.01,589.14) scale(1.000,1.030)" font-family="Liberation Sans" font-size="27.20">-0.5</text>
<text transform="translate(270.49,589.14) scale(1.000,1.030)" font-family="Liberation Sans" font-size="27.20">0.0</text>
<text transform="translate(765.64,589.14) scale(1.000,1.030)" font-family="Liberation Sans" font-size="27.20">0.0</text>
<text transform="translate(370.68,589.14) scale(1.000,1.030)" font-family="Liberation Sans" font-size="27.20">0.5</text>
<text transform="translate(865.76,589.14) scale(1.000,1.030)" font-family="Liberation Sans" font-size="27.20">0.5</text>
<text transform="translate(470.29,589.14) scale(1.000,1.030)" font-family="Liberation Sans" font-size="27.20">1.0</text>
<text transform="translate(965.29,589.14) scale(1.000,1.030)" font-family="Liberation Sans" font-size="27.20">1.0</text>
<text transform="translate(61.74,488.24) scale(1.000,1.030)" font-family="Liberation Sans" font-size="27.20">0</text>
<text transform="translate(49.01,368.64) scale(1.000,1.030)" font-family="Liberation Sans" font-size="27.20">50</text>
<text transform="translate(33.88,249.04) scale(1.000,1.030)" font-family="Liberation Sans" font-size="27.20">100</text>
<text transform="translate(34.28,129.44) scale(1.000,1.030)" font-family="Liberation Sans" font-size="27.20">150</text>
<text transform="translate(555.24,482.14) scale(1.000,1.030)" font-family="Liberation Sans" font-size="27.20">0</text>
<text transform="translate(543.31,372.14) scale(1.000,1.030)" font-family="Liberation Sans" font-size="27.20">20</text>
<text transform="translate(543.11,262.14) scale(1.000,1.030)" font-family="Liberation Sans" font-size="27.20">40</text>
<text transform="translate(543.11,152.14) scale(1.000,1.030)" font-family="Liberation Sans" font-size="27.20">60</text>
<text transform="translate(34.35,945.14) scale(1.000,1.030)" font-family="Liberation Sans" font-size="27.20">0.0</text>
<text transform="translate(34.66,885.02) scale(1.000,1.030)" font-family="Liberation Sans" font-size="27.20">0.2</text>
<text transform="translate(34.09,824.90) scale(1.000,1.030)" font-family="Liberation Sans" font-size="27.20">0.4</text>
<text transform="translate(34.48,764.78) scale(1.000,1.030)" font-family="Liberation Sans" font-size="27.20">0.6</text>
<text transform="translate(34.47,704.66) scale(1.000,1.030)" font-family="Liberation Sans" font-size="27.20">0.8</text>
<text transform="translate(559.54,919.64) scale(1.000,1.030)" font-family="Liberation Sans" font-size="27.20">0</text>
<text transform="translate(559.84,862.16) scale(1.000,1.030)" font-family="Liberation Sans" font-size="27.20">2</text>
<text transform="translate(559.27,804.40) scale(1.000,1.030)" font-family="Liberation Sans" font-size="27.20">4</text>
<text transform="translate(559.67,746.78) scale(1.000,1.030)" font-family="Liberation Sans" font-size="27.20">6</text>
<text transform="translate(559.65,689.16) scale(1.000,1.030)" font-family="Liberation Sans" font-size="27.20">8</text>
<text transform="translate(116.64,991.44) scale(1.000,1.030)" font-family="Liberation Sans" font-size="27.20">0</text>
<text transform="translate(617.54,991.44) scale(1.000,1.030)" font-family="Liberation Sans" font-size="27.20">0</text>
<text transform="translate(242.52,991.44) scale(1.000,1.030)" font-family="Liberation Sans" font-size="27.20">20</text>
<text transform="translate(743.52,991.44) scale(1.000,1.030)" font-family="Liberation Sans" font-size="27.20">20</text>
<text transform="translate(376.49,991.44) scale(1.000,1.030)" font-family="Liberation Sans" font-size="27.20">40</text>
<text transform="translate(877.59,991.44) scale(1.000,1.030)" font-family="Liberation Sans" font-size="27.20">40</text>
<text transform="translate(249.47,620.00) scale(1.000,1.030)" font-family="Liberation Sans" font-size="27.20" font-style="italic">μ</text>
<text transform="translate(262.94,629.03) scale(1.000,1.030)" font-family="Liberation Sans" font-size="17.00">0</text>
<text transform="translate(273.36,620.00) scale(1.000,1.030)" font-family="Liberation Sans" font-size="27.20" font-style="italic">H</text>
<text transform="translate(299.01,620.00) scale(1.000,1.030)" font-family="Liberation Sans" font-size="27.20">(T)</text>
<text transform="translate(740.17,620.00) scale(1.000,1.030)" font-family="Liberation Sans" font-size="27.20" font-style="italic">μ</text>
<text transform="translate(753.64,629.03) scale(1.000,1.030)" font-family="Liberation Sans" font-size="17.00">0</text>
<text transform="translate(764.06,620.00) scale(1.000,1.030)" font-family="Liberation Sans" font-size="27.20" font-style="italic">H</text>
<text transform="translate(789.71,620.00) scale(1.000,1.030)" font-family="Liberation Sans" font-size="27.20">(T)</text>
<text transform="translate(188.39,1021.00) scale(1.000,1.030)" font-family="Liberation Sans" font-size="27.20">Temperature (K)</text>
<text transform="translate(688.89,1021.00) scale(1.000,1.030)" font-family="Liberation Sans" font-size="27.20">Temperature (K)</text>
<g transform="rotate(-90)">
<text transform="translate(-349.74,23.00) scale(1.000,1.030)" font-family="Liberation Sans" font-size="27.20" font-style="italic">θ</text>
<text transform="translate(-339.29,32.20) scale(1.000,1.030)" font-family="Liberation Sans" font-size="17.00">K</text>
<text transform="translate(-320.39,23.00) scale(1.000,1.030)" font-family="Liberation Sans" font-size="27.20">(mrad)</text>
<text transform="translate(-348.84,531.80) scale(1.000,1.030)" font-family="Liberation Sans" font-size="27.20" font-style="italic">θ</text>
<text transform="translate(-338.19,541.00) scale(1.000,1.030)" font-family="Liberation Sans" font-size="17.00">K</text>
<text transform="translate(-319.19,531.80) scale(1.000,1.030)" font-family="Liberation Sans" font-size="27.20">(mrad)</text>
<text transform="translate(-853.03,19.90) scale(1.000,1.030)" font-family="Liberation Sans" font-size="27.20" font-style="italic">μ</text>
<text transform="translate(-839.56,28.93) scale(1.000,1.030)" font-family="Liberation Sans" font-size="17.00">0</text>
<text transform="translate(-829.54,19.90) scale(1.000,1.030)" font-family="Liberation Sans" font-size="27.20" font-style="italic">H</text>
<text transform="translate(-802.69,19.90) scale(1.000,1.030)" font-family="Liberation Sans" font-size="27.20">(T)</text>
<text transform="translate(-870.64,539.00) scale(1.000,1.030)" font-family="Liberation Serif" font-size="27.20">Δ</text>
<text transform="translate(-853.04,540.70) scale(1.000,1.030)" font-family="Liberation Sans" font-size="27.20" font-style="italic">θ</text>
<text transform="translate(-841.79,550.00) scale(1.000,1.030)" font-family="Liberation Sans" font-size="17.00">K</text>
<text transform="translate(-823.49,540.70) scale(1.000,1.030)" font-family="Liberation Sans" font-size="27.20">(mrad)</text>
</g>
<text transform="translate(364.73,66.00) scale(1.000,1.030)" font-family="Liberation Sans" font-size="26.30">-H</text>
<text transform="translate(446.79,66.00) scale(1.000,1.030)" font-family="Liberation Sans" font-size="26.30">+H</text>
<text transform="translate(857.03,68.80) scale(1.000,1.030)" font-family="Liberation Sans" font-size="26.30">-H</text>
<text transform="translate(939.09,68.80) scale(1.000,1.030)" font-family="Liberation Sans" font-size="26.30">+H</text>
<text transform="translate(448.09,508.90) scale(1.000,1.030)" font-family="Liberation Serif" font-size="26.40">Δ</text>
<text transform="translate(463.71,509.53) scale(1.000,1.030)" font-family="Liberation Serif" font-size="26.40" font-style="italic">θ</text>
<text transform="translate(479.20,517.90) scale(1.000,1.030)" font-family="Liberation Sans" font-size="15.70">1</text>
<text transform="translate(429.59,550.70) scale(1.000,1.030)" font-family="Liberation Sans" font-size="26.30" font-style="italic">H</text>
<text transform="translate(447.70,559.50) scale(1.000,1.030)" font-family="Liberation Sans" font-size="15.70">1</text>
<text transform="translate(846.99,487.00) scale(1.000,1.030)" font-family="Liberation Serif" font-size="26.40">Δ</text>
<text transform="translate(863.65,487.73) scale(1.000,1.030)" font-family="Liberation Serif" font-size="26.40" font-style="italic">θ</text>
<text transform="translate(877.21,495.00) scale(1.000,1.030)" font-family="Liberation Sans" font-size="15.70">2</text>
<text transform="translate(877.63,483.30) scale(1.000,1.030)" font-family="Liberation Sans" font-size="23.00">*</text>
<text transform="translate(922.99,482.00) scale(1.000,1.030)" font-family="Liberation Serif" font-size="26.40">Δ</text>
<text transform="translate(939.65,482.73) scale(1.000,1.030)" font-family="Liberation Serif" font-size="26.40" font-style="italic">θ</text>
<text transform="translate(954.80,491.00) scale(1.000,1.030)" font-family="Liberation Sans" font-size="15.70">1</text>
<text transform="translate(953.63,479.30) scale(1.000,1.030)" font-family="Liberation Sans" font-size="23.00">*</text>
<text transform="translate(796.19,550.00) scale(1.000,1.030)" font-family="Liberation Sans" font-size="26.30" font-style="italic">H</text>
<text transform="translate(813.21,558.00) scale(1.000,1.030)" font-family="Liberation Sans" font-size="15.70">2</text>
<text transform="translate(818.63,544.30) scale(1.000,1.030)" font-family="Liberation Sans" font-size="23.00">*</text>
<text transform="translate(892.19,546.00) scale(1.000,1.030)" font-family="Liberation Sans" font-size="26.30" font-style="italic">H</text>
<text transform="translate(911.80,554.40) scale(1.000,1.030)" font-family="Liberation Sans" font-size="15.70">1</text>
<text transform="translate(914.63,540.30) scale(1.000,1.030)" font-family="Liberation Sans" font-size="23.00">*</text>
<text transform="translate(89.39,702.80) scale(1.000,1.030)" font-family="Liberation Sans" font-size="26.30" font-style="italic">H</text>
<text transform="translate(107.20,711.60) scale(1.000,1.030)" font-family="Liberation Sans" font-size="15.70">1</text>
<text transform="translate(88.89,768.40) scale(1.000,1.030)" font-family="Liberation Sans" font-size="26.30" font-style="italic">H</text>
<text transform="translate(106.80,776.80) scale(1.000,1.030)" font-family="Liberation Sans" font-size="15.70">1</text>
<text transform="translate(111.53,762.80) scale(1.000,1.030)" font-family="Liberation Sans" font-size="23.00">*</text>
<text transform="translate(89.19,909.10) scale(1.000,1.030)" font-family="Liberation Sans" font-size="26.30" font-style="italic">H</text>
<text transform="translate(106.61,917.80) scale(1.000,1.030)" font-family="Liberation Sans" font-size="15.70">2</text>
<text transform="translate(112.13,903.50) scale(1.000,1.030)" font-family="Liberation Sans" font-size="23.00">*</text>
<text transform="translate(279.85,701.00) scale(1.000,1.030)" font-family="Liberation Sans" font-size="26.30">AFM spin-flip</text>
<text transform="translate(210.18,859.50) scale(1.000,1.030)" font-family="Liberation Sans" font-size="26.30">coercivity</text>
<text transform="translate(445.44,800.00) scale(1.000,1.030)" font-family="Liberation Sans" font-size="26.30">PM</text>
<text transform="translate(607.99,700.00) scale(1.000,1.030)" font-family="Liberation Serif" font-size="26.40" fill="#ee5a24">Δ</text>
<text transform="translate(624.65,700.53) scale(1.000,1.030)" font-family="Liberation Serif" font-size="26.40" font-style="italic" fill="#ee5a24">θ</text>
<text transform="translate(638.21,710.00) scale(1.000,1.030)" font-family="Liberation Sans" font-size="15.70" fill="#ee5a24">2</text>
<text transform="translate(638.63,699.30) scale(1.000,1.030)" font-family="Liberation Sans" font-size="23.00" fill="#ee5a24">*</text>
<text transform="translate(607.39,744.00) scale(1.000,1.030)" font-family="Liberation Serif" font-size="26.40" fill="#1585c6">Δ</text>
<text transform="translate(624.65,744.53) scale(1.000,1.030)" font-family="Liberation Serif" font-size="26.40" font-style="italic" fill="#1585c6">θ</text>
<text transform="translate(639.80,753.00) scale(1.000,1.030)" font-family="Liberation Sans" font-size="15.70" fill="#1585c6">1</text>
<text transform="translate(638.63,743.30) scale(1.000,1.030)" font-family="Liberation Sans" font-size="23.00" fill="#1585c6">*</text>
<text transform="translate(609.99,857.00) scale(1.000,1.030)" font-family="Liberation Serif" font-size="26.40" fill="#231f20">Δ</text>
<text transform="translate(624.65,857.53) scale(1.000,1.030)" font-family="Liberation Serif" font-size="26.40" font-style="italic" fill="#231f20">θ</text>
<text transform="translate(637.80,865.60) scale(1.000,1.030)" font-family="Liberation Sans" font-size="15.70" fill="#231f20">1</text>
<text transform="translate(607.37,896.00) scale(1.000,1.030)" font-family="Liberation Sans" font-size="26.30" fill="#231f20">(x0.1)</text>
<text transform="translate(670.95,810.00) scale(1.000,1.030)" font-family="Liberation Sans" font-size="26.30">AFM spin-flip</text>
<text transform="translate(871.88,735.00) scale(1.000,1.030)" font-family="Liberation Sans" font-size="26.30">coercivity</text>
<text transform="translate(878.64,936.30) scale(1.000,1.030)" font-family="Liberation Sans" font-size="26.30" font-style="italic">T</text>
<text transform="translate(893.50,945.24) scale(1.000,1.030)" font-family="Liberation Sans" font-size="15.70">C</text>
<text transform="translate(938.84,939.80) scale(1.000,1.030)" font-family="Liberation Sans" font-size="26.30" font-style="italic">T</text>
<text transform="translate(953.00,948.04) scale(1.000,1.030)" font-family="Liberation Sans" font-size="15.70">C</text>
<text transform="translate(959.63,938.60) scale(1.000,1.030)" font-family="Liberation Sans" font-size="23.00">*</text>
</svg>
</body></html>
